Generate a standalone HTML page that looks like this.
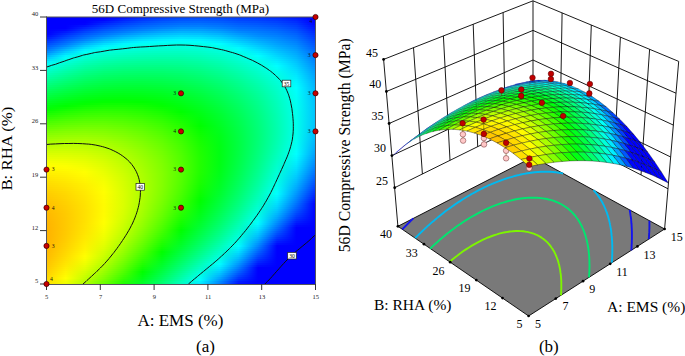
<!DOCTYPE html>
<html><head><meta charset="utf-8"><style>html,body{margin:0;padding:0;background:#fff;width:685px;height:356px;overflow:hidden}svg{display:block}</style></head><body><svg width="685" height="356" viewBox="0 0 685 356"><defs><linearGradient id="r0"><stop offset="0" stop-color="#00f"/><stop offset="0.0714" stop-color="#00f"/><stop offset="0.143" stop-color="#00f"/><stop offset="0.214" stop-color="#00f"/><stop offset="0.286" stop-color="#0013ff"/><stop offset="0.357" stop-color="#002bff"/><stop offset="0.429" stop-color="#003cff"/><stop offset="0.5" stop-color="#0048ff"/><stop offset="0.571" stop-color="#004bff"/><stop offset="0.643" stop-color="#0047ff"/><stop offset="0.714" stop-color="#003bff"/><stop offset="0.786" stop-color="#0036ff"/><stop offset="0.857" stop-color="#002cff"/><stop offset="0.929" stop-color="#001aff"/><stop offset="1" stop-color="#00f"/></linearGradient><linearGradient id="r1"><stop offset="0" stop-color="#00f"/><stop offset="0.0714" stop-color="#00f"/><stop offset="0.143" stop-color="#00f"/><stop offset="0.214" stop-color="#0006ff"/><stop offset="0.286" stop-color="#0023ff"/><stop offset="0.357" stop-color="#0039ff"/><stop offset="0.429" stop-color="#004aff"/><stop offset="0.5" stop-color="#05f"/><stop offset="0.571" stop-color="#0058ff"/><stop offset="0.643" stop-color="#0053ff"/><stop offset="0.714" stop-color="#0046ff"/><stop offset="0.786" stop-color="#0040ff"/><stop offset="0.857" stop-color="#0036ff"/><stop offset="0.929" stop-color="#0024ff"/><stop offset="1" stop-color="#00f"/></linearGradient><linearGradient id="r2"><stop offset="0" stop-color="#00f"/><stop offset="0.0714" stop-color="#00f"/><stop offset="0.143" stop-color="#00f"/><stop offset="0.214" stop-color="#0016ff"/><stop offset="0.286" stop-color="#0032ff"/><stop offset="0.357" stop-color="#0048ff"/><stop offset="0.429" stop-color="#0058ff"/><stop offset="0.5" stop-color="#0062ff"/><stop offset="0.571" stop-color="#0064ff"/><stop offset="0.643" stop-color="#005eff"/><stop offset="0.714" stop-color="#0051ff"/><stop offset="0.786" stop-color="#004bff"/><stop offset="0.857" stop-color="#0040ff"/><stop offset="0.929" stop-color="#002dff"/><stop offset="1" stop-color="#00f"/></linearGradient><linearGradient id="r3"><stop offset="0" stop-color="#00f"/><stop offset="0.0714" stop-color="#00f"/><stop offset="0.143" stop-color="#0003ff"/><stop offset="0.214" stop-color="#0026ff"/><stop offset="0.286" stop-color="#0041ff"/><stop offset="0.357" stop-color="#0056ff"/><stop offset="0.429" stop-color="#0065ff"/><stop offset="0.5" stop-color="#006fff"/><stop offset="0.571" stop-color="#0071ff"/><stop offset="0.643" stop-color="#006aff"/><stop offset="0.714" stop-color="#005cff"/><stop offset="0.786" stop-color="#05f"/><stop offset="0.857" stop-color="#004aff"/><stop offset="0.929" stop-color="#0036ff"/><stop offset="1" stop-color="#0005ff"/></linearGradient><linearGradient id="r4"><stop offset="0" stop-color="#00f"/><stop offset="0.0714" stop-color="#00f"/><stop offset="0.143" stop-color="#0013ff"/><stop offset="0.214" stop-color="#0036ff"/><stop offset="0.286" stop-color="#0050ff"/><stop offset="0.357" stop-color="#0064ff"/><stop offset="0.429" stop-color="#0072ff"/><stop offset="0.5" stop-color="#007cff"/><stop offset="0.571" stop-color="#007dff"/><stop offset="0.643" stop-color="#0075ff"/><stop offset="0.714" stop-color="#06f"/><stop offset="0.786" stop-color="#005fff"/><stop offset="0.857" stop-color="#0053ff"/><stop offset="0.929" stop-color="#003fff"/><stop offset="1" stop-color="#000dff"/></linearGradient><linearGradient id="r5"><stop offset="0" stop-color="#00f"/><stop offset="0.0714" stop-color="#00f"/><stop offset="0.143" stop-color="#0024ff"/><stop offset="0.214" stop-color="#0045ff"/><stop offset="0.286" stop-color="#005fff"/><stop offset="0.357" stop-color="#0072ff"/><stop offset="0.429" stop-color="#0080ff"/><stop offset="0.5" stop-color="#008dff"/><stop offset="0.571" stop-color="#008dff"/><stop offset="0.643" stop-color="#0081ff"/><stop offset="0.714" stop-color="#0071ff"/><stop offset="0.786" stop-color="#0069ff"/><stop offset="0.857" stop-color="#005dff"/><stop offset="0.929" stop-color="#0047ff"/><stop offset="1" stop-color="#0015ff"/></linearGradient><linearGradient id="r6"><stop offset="0" stop-color="#00f"/><stop offset="0.0714" stop-color="#0009ff"/><stop offset="0.143" stop-color="#0034ff"/><stop offset="0.214" stop-color="#05f"/><stop offset="0.286" stop-color="#006dff"/><stop offset="0.357" stop-color="#0080ff"/><stop offset="0.429" stop-color="#0093ff"/><stop offset="0.5" stop-color="#009fff"/><stop offset="0.571" stop-color="#009fff"/><stop offset="0.643" stop-color="#0092ff"/><stop offset="0.714" stop-color="#007bff"/><stop offset="0.786" stop-color="#0072ff"/><stop offset="0.857" stop-color="#06f"/><stop offset="0.929" stop-color="#0050ff"/><stop offset="1" stop-color="#001dff"/></linearGradient><linearGradient id="r7"><stop offset="0" stop-color="#00f"/><stop offset="0.0714" stop-color="#001aff"/><stop offset="0.143" stop-color="#04f"/><stop offset="0.214" stop-color="#0064ff"/><stop offset="0.286" stop-color="#007cff"/><stop offset="0.357" stop-color="#0094ff"/><stop offset="0.429" stop-color="#00a6ff"/><stop offset="0.5" stop-color="#00b2ff"/><stop offset="0.571" stop-color="#00b0ff"/><stop offset="0.643" stop-color="#00a2ff"/><stop offset="0.714" stop-color="#0089ff"/><stop offset="0.786" stop-color="#007cff"/><stop offset="0.857" stop-color="#006fff"/><stop offset="0.929" stop-color="#0058ff"/><stop offset="1" stop-color="#0025ff"/></linearGradient><linearGradient id="r8"><stop offset="0" stop-color="#00f"/><stop offset="0.0714" stop-color="#002aff"/><stop offset="0.143" stop-color="#0054ff"/><stop offset="0.214" stop-color="#0073ff"/><stop offset="0.286" stop-color="#008fff"/><stop offset="0.357" stop-color="#00a8ff"/><stop offset="0.429" stop-color="#00baff"/><stop offset="0.5" stop-color="#00c4ff"/><stop offset="0.571" stop-color="#00c1ff"/><stop offset="0.643" stop-color="#00b2ff"/><stop offset="0.714" stop-color="#0098ff"/><stop offset="0.786" stop-color="#0085ff"/><stop offset="0.857" stop-color="#07f"/><stop offset="0.929" stop-color="#0061ff"/><stop offset="1" stop-color="#002dff"/></linearGradient><linearGradient id="r9"><stop offset="0" stop-color="#000aff"/><stop offset="0.0714" stop-color="#003aff"/><stop offset="0.143" stop-color="#0064ff"/><stop offset="0.214" stop-color="#0084ff"/><stop offset="0.286" stop-color="#00a5ff"/><stop offset="0.357" stop-color="#00bcff"/><stop offset="0.429" stop-color="#0cf"/><stop offset="0.5" stop-color="#00d6ff"/><stop offset="0.571" stop-color="#00d2ff"/><stop offset="0.643" stop-color="#00c2ff"/><stop offset="0.714" stop-color="#00a6ff"/><stop offset="0.786" stop-color="#008eff"/><stop offset="0.857" stop-color="#0080ff"/><stop offset="0.929" stop-color="#0069ff"/><stop offset="1" stop-color="#0034ff"/></linearGradient><linearGradient id="r10"><stop offset="0" stop-color="#0019ff"/><stop offset="0.0714" stop-color="#0049ff"/><stop offset="0.143" stop-color="#0073ff"/><stop offset="0.214" stop-color="#009aff"/><stop offset="0.286" stop-color="#00baff"/><stop offset="0.357" stop-color="#00d0ff"/><stop offset="0.429" stop-color="#00dfff"/><stop offset="0.5" stop-color="#00e7ff"/><stop offset="0.571" stop-color="#00e3ff"/><stop offset="0.643" stop-color="#00d2ff"/><stop offset="0.714" stop-color="#00b5ff"/><stop offset="0.786" stop-color="#009bff"/><stop offset="0.857" stop-color="#0089ff"/><stop offset="0.929" stop-color="#0070ff"/><stop offset="1" stop-color="#003bff"/></linearGradient><linearGradient id="r11"><stop offset="0" stop-color="#0029ff"/><stop offset="0.0714" stop-color="#0059ff"/><stop offset="0.143" stop-color="#0084ff"/><stop offset="0.214" stop-color="#00b0ff"/><stop offset="0.286" stop-color="#00ceff"/><stop offset="0.357" stop-color="#00e3ff"/><stop offset="0.429" stop-color="#00f1ff"/><stop offset="0.5" stop-color="#00f9ff"/><stop offset="0.571" stop-color="#00f4ff"/><stop offset="0.643" stop-color="#00e1ff"/><stop offset="0.714" stop-color="#00c3ff"/><stop offset="0.786" stop-color="#00a7ff"/><stop offset="0.857" stop-color="#0091ff"/><stop offset="0.929" stop-color="#0078ff"/><stop offset="1" stop-color="#0042ff"/></linearGradient><linearGradient id="r12"><stop offset="0" stop-color="#0038ff"/><stop offset="0.0714" stop-color="#0068ff"/><stop offset="0.143" stop-color="#009bff"/><stop offset="0.214" stop-color="#00c6ff"/><stop offset="0.286" stop-color="#00e3ff"/><stop offset="0.357" stop-color="#00f7ff"/><stop offset="0.429" stop-color="#00fffb"/><stop offset="0.5" stop-color="#00fff6"/><stop offset="0.571" stop-color="#00fffb"/><stop offset="0.643" stop-color="#00f0ff"/><stop offset="0.714" stop-color="#00d1ff"/><stop offset="0.786" stop-color="#00b3ff"/><stop offset="0.857" stop-color="#09f"/><stop offset="0.929" stop-color="#0080ff"/><stop offset="1" stop-color="#0049ff"/></linearGradient><linearGradient id="r13"><stop offset="0" stop-color="#0048ff"/><stop offset="0.0714" stop-color="#07f"/><stop offset="0.143" stop-color="#00b1ff"/><stop offset="0.214" stop-color="#00dcff"/><stop offset="0.286" stop-color="#00f7ff"/><stop offset="0.357" stop-color="#00fff6"/><stop offset="0.429" stop-color="#00ffed"/><stop offset="0.5" stop-color="#00ffe9"/><stop offset="0.571" stop-color="#0fe"/><stop offset="0.643" stop-color="#0ff"/><stop offset="0.714" stop-color="#00dfff"/><stop offset="0.786" stop-color="#00beff"/><stop offset="0.857" stop-color="#00a1ff"/><stop offset="0.929" stop-color="#0087ff"/><stop offset="1" stop-color="#0050ff"/></linearGradient><linearGradient id="r14"><stop offset="0" stop-color="#0057ff"/><stop offset="0.0714" stop-color="#0089ff"/><stop offset="0.143" stop-color="#00c8ff"/><stop offset="0.214" stop-color="#00f1ff"/><stop offset="0.286" stop-color="#00fff5"/><stop offset="0.357" stop-color="#00ffe7"/><stop offset="0.429" stop-color="#00ffe0"/><stop offset="0.5" stop-color="#0fd"/><stop offset="0.571" stop-color="#00ffe2"/><stop offset="0.643" stop-color="#00fff3"/><stop offset="0.714" stop-color="#00ecff"/><stop offset="0.786" stop-color="#00caff"/><stop offset="0.857" stop-color="#0af"/><stop offset="0.929" stop-color="#008fff"/><stop offset="1" stop-color="#0056ff"/></linearGradient><linearGradient id="r15"><stop offset="0" stop-color="#06f"/><stop offset="0.0714" stop-color="#00a0ff"/><stop offset="0.143" stop-color="#0df"/><stop offset="0.214" stop-color="#00fffa"/><stop offset="0.286" stop-color="#00ffe5"/><stop offset="0.357" stop-color="#00ffdc"/><stop offset="0.429" stop-color="#00ffd6"/><stop offset="0.5" stop-color="#00ffd5"/><stop offset="0.571" stop-color="#00ffda"/><stop offset="0.643" stop-color="#00ffe8"/><stop offset="0.714" stop-color="#00faff"/><stop offset="0.786" stop-color="#00d5ff"/><stop offset="0.857" stop-color="#00b3ff"/><stop offset="0.929" stop-color="#0096ff"/><stop offset="1" stop-color="#005dff"/></linearGradient><linearGradient id="r16"><stop offset="0" stop-color="#0074ff"/><stop offset="0.0714" stop-color="#00b5ff"/><stop offset="0.143" stop-color="#00f3ff"/><stop offset="0.214" stop-color="#00ffe9"/><stop offset="0.286" stop-color="#00ffda"/><stop offset="0.357" stop-color="#00ffd2"/><stop offset="0.429" stop-color="#00ffcd"/><stop offset="0.5" stop-color="#0fc"/><stop offset="0.571" stop-color="#00ffd1"/><stop offset="0.643" stop-color="#00ffde"/><stop offset="0.714" stop-color="#00fff9"/><stop offset="0.786" stop-color="#00e0ff"/><stop offset="0.857" stop-color="#00bcff"/><stop offset="0.929" stop-color="#009dff"/><stop offset="1" stop-color="#0063ff"/></linearGradient><linearGradient id="r17"><stop offset="0" stop-color="#0085ff"/><stop offset="0.0714" stop-color="#00cbff"/><stop offset="0.143" stop-color="#00fff8"/><stop offset="0.214" stop-color="#00ffdc"/><stop offset="0.286" stop-color="#00ffd0"/><stop offset="0.357" stop-color="#00ffc8"/><stop offset="0.429" stop-color="#00ffc4"/><stop offset="0.5" stop-color="#00ffc3"/><stop offset="0.571" stop-color="#00ffc9"/><stop offset="0.643" stop-color="#00ffd7"/><stop offset="0.714" stop-color="#0fe"/><stop offset="0.786" stop-color="#00ebff"/><stop offset="0.857" stop-color="#00c5ff"/><stop offset="0.929" stop-color="#00a4ff"/><stop offset="1" stop-color="#0069ff"/></linearGradient><linearGradient id="r18"><stop offset="0" stop-color="#009aff"/><stop offset="0.0714" stop-color="#00e0ff"/><stop offset="0.143" stop-color="#00ffe7"/><stop offset="0.214" stop-color="#00ffd1"/><stop offset="0.286" stop-color="#00ffc6"/><stop offset="0.357" stop-color="#00ffbe"/><stop offset="0.429" stop-color="#0fb"/><stop offset="0.5" stop-color="#0fb"/><stop offset="0.571" stop-color="#00ffc2"/><stop offset="0.643" stop-color="#00ffcf"/><stop offset="0.714" stop-color="#00ffe4"/><stop offset="0.786" stop-color="#00f5ff"/><stop offset="0.857" stop-color="#00ceff"/><stop offset="0.929" stop-color="#0af"/><stop offset="1" stop-color="#006fff"/></linearGradient><linearGradient id="r19"><stop offset="0" stop-color="#00b0ff"/><stop offset="0.0714" stop-color="#00f5ff"/><stop offset="0.143" stop-color="#00ffda"/><stop offset="0.214" stop-color="#00ffc7"/><stop offset="0.286" stop-color="#00ffbc"/><stop offset="0.357" stop-color="#00ffb5"/><stop offset="0.429" stop-color="#00ffb2"/><stop offset="0.5" stop-color="#00ffb3"/><stop offset="0.571" stop-color="#00ffba"/><stop offset="0.643" stop-color="#00ffc8"/><stop offset="0.714" stop-color="#0fd"/><stop offset="0.786" stop-color="#00fffe"/><stop offset="0.857" stop-color="#00d6ff"/><stop offset="0.929" stop-color="#00b1ff"/><stop offset="1" stop-color="#0074ff"/></linearGradient><linearGradient id="r20"><stop offset="0" stop-color="#00c6ff"/><stop offset="0.0714" stop-color="#00fff6"/><stop offset="0.143" stop-color="#00ffd0"/><stop offset="0.214" stop-color="#00ffbd"/><stop offset="0.286" stop-color="#00ffb2"/><stop offset="0.357" stop-color="#00ffac"/><stop offset="0.429" stop-color="#00ffa9"/><stop offset="0.5" stop-color="#0fa"/><stop offset="0.571" stop-color="#00ffb2"/><stop offset="0.643" stop-color="#00ffc1"/><stop offset="0.714" stop-color="#00ffd6"/><stop offset="0.786" stop-color="#00fff6"/><stop offset="0.857" stop-color="#00dfff"/><stop offset="0.929" stop-color="#00b7ff"/><stop offset="1" stop-color="#007aff"/></linearGradient><linearGradient id="r21"><stop offset="0" stop-color="#00dbff"/><stop offset="0.0714" stop-color="#00ffe6"/><stop offset="0.143" stop-color="#00ffc5"/><stop offset="0.214" stop-color="#00ffb3"/><stop offset="0.286" stop-color="#00ffa8"/><stop offset="0.357" stop-color="#00ffa3"/><stop offset="0.429" stop-color="#00ffa0"/><stop offset="0.5" stop-color="#00ffa2"/><stop offset="0.571" stop-color="#00ffab"/><stop offset="0.643" stop-color="#00ffba"/><stop offset="0.714" stop-color="#00ffd0"/><stop offset="0.786" stop-color="#0fe"/><stop offset="0.857" stop-color="#00e7ff"/><stop offset="0.929" stop-color="#00beff"/><stop offset="1" stop-color="#007fff"/></linearGradient><linearGradient id="r22"><stop offset="0" stop-color="#00f0ff"/><stop offset="0.0714" stop-color="#00ffda"/><stop offset="0.143" stop-color="#0fb"/><stop offset="0.214" stop-color="#00ffa9"/><stop offset="0.286" stop-color="#00ff9f"/><stop offset="0.357" stop-color="#0f9"/><stop offset="0.429" stop-color="#00ff98"/><stop offset="0.5" stop-color="#00ff9a"/><stop offset="0.571" stop-color="#00ffa3"/><stop offset="0.643" stop-color="#00ffb3"/><stop offset="0.714" stop-color="#00ffca"/><stop offset="0.786" stop-color="#00ffe6"/><stop offset="0.857" stop-color="#00efff"/><stop offset="0.929" stop-color="#00c4ff"/><stop offset="1" stop-color="#0084ff"/></linearGradient><linearGradient id="r23"><stop offset="0" stop-color="#00fffa"/><stop offset="0.0714" stop-color="#00ffcf"/><stop offset="0.143" stop-color="#00ffb1"/><stop offset="0.214" stop-color="#00ff9f"/><stop offset="0.286" stop-color="#00ff95"/><stop offset="0.357" stop-color="#00ff91"/><stop offset="0.429" stop-color="#00ff90"/><stop offset="0.5" stop-color="#00ff93"/><stop offset="0.571" stop-color="#00ff9c"/><stop offset="0.643" stop-color="#00ffac"/><stop offset="0.714" stop-color="#00ffc3"/><stop offset="0.786" stop-color="#00ffdf"/><stop offset="0.857" stop-color="#00f7ff"/><stop offset="0.929" stop-color="#00caff"/><stop offset="1" stop-color="#0089ff"/></linearGradient><linearGradient id="r24"><stop offset="0" stop-color="#00ffe9"/><stop offset="0.0714" stop-color="#00ffc4"/><stop offset="0.143" stop-color="#00ffa6"/><stop offset="0.214" stop-color="#00ff95"/><stop offset="0.286" stop-color="#00ff8c"/><stop offset="0.357" stop-color="#0f8"/><stop offset="0.429" stop-color="#00ff87"/><stop offset="0.5" stop-color="#00ff8b"/><stop offset="0.571" stop-color="#00ff95"/><stop offset="0.643" stop-color="#00ffa6"/><stop offset="0.714" stop-color="#00ffbd"/><stop offset="0.786" stop-color="#00ffda"/><stop offset="0.857" stop-color="#00feff"/><stop offset="0.929" stop-color="#00cfff"/><stop offset="1" stop-color="#008eff"/></linearGradient><linearGradient id="r25"><stop offset="0" stop-color="#00ffdb"/><stop offset="0.0714" stop-color="#00ffba"/><stop offset="0.143" stop-color="#00ff9d"/><stop offset="0.214" stop-color="#00ff8c"/><stop offset="0.286" stop-color="#00ff83"/><stop offset="0.357" stop-color="#00ff7f"/><stop offset="0.429" stop-color="#00ff7f"/><stop offset="0.5" stop-color="#00ff83"/><stop offset="0.571" stop-color="#00ff8e"/><stop offset="0.643" stop-color="#00ff9f"/><stop offset="0.714" stop-color="#00ffb7"/><stop offset="0.786" stop-color="#00ffd4"/><stop offset="0.857" stop-color="#00fff9"/><stop offset="0.929" stop-color="#00d5ff"/><stop offset="1" stop-color="#0093ff"/></linearGradient><linearGradient id="r26"><stop offset="0" stop-color="#00ffd0"/><stop offset="0.0714" stop-color="#00ffaf"/><stop offset="0.143" stop-color="#00ff93"/><stop offset="0.214" stop-color="#00ff83"/><stop offset="0.286" stop-color="#00ff7a"/><stop offset="0.357" stop-color="#0f7"/><stop offset="0.429" stop-color="#0f7"/><stop offset="0.5" stop-color="#00ff7c"/><stop offset="0.571" stop-color="#00ff87"/><stop offset="0.643" stop-color="#0f9"/><stop offset="0.714" stop-color="#00ffb2"/><stop offset="0.786" stop-color="#00ffcf"/><stop offset="0.857" stop-color="#00fff4"/><stop offset="0.929" stop-color="#00daff"/><stop offset="1" stop-color="#0097ff"/></linearGradient><linearGradient id="r27"><stop offset="0" stop-color="#00ffc5"/><stop offset="0.0714" stop-color="#00ffa5"/><stop offset="0.143" stop-color="#00ff89"/><stop offset="0.214" stop-color="#00ff79"/><stop offset="0.286" stop-color="#00ff71"/><stop offset="0.357" stop-color="#00ff6e"/><stop offset="0.429" stop-color="#00ff6f"/><stop offset="0.5" stop-color="#00ff75"/><stop offset="0.571" stop-color="#00ff80"/><stop offset="0.643" stop-color="#00ff93"/><stop offset="0.714" stop-color="#00ffac"/><stop offset="0.786" stop-color="#00ffca"/><stop offset="0.857" stop-color="#0fe"/><stop offset="0.929" stop-color="#00dfff"/><stop offset="1" stop-color="#009bff"/></linearGradient><linearGradient id="r28"><stop offset="0" stop-color="#00ffb9"/><stop offset="0.0714" stop-color="#00ff9a"/><stop offset="0.143" stop-color="#00ff80"/><stop offset="0.214" stop-color="#00ff70"/><stop offset="0.286" stop-color="#00ff69"/><stop offset="0.357" stop-color="#0f6"/><stop offset="0.429" stop-color="#00ff67"/><stop offset="0.5" stop-color="#00ff6d"/><stop offset="0.571" stop-color="#00ff7a"/><stop offset="0.643" stop-color="#00ff8d"/><stop offset="0.714" stop-color="#00ffa6"/><stop offset="0.786" stop-color="#00ffc5"/><stop offset="0.857" stop-color="#00ffe9"/><stop offset="0.929" stop-color="#00e4ff"/><stop offset="1" stop-color="#009fff"/></linearGradient><linearGradient id="r29"><stop offset="0" stop-color="#00ffae"/><stop offset="0.0714" stop-color="#00ff90"/><stop offset="0.143" stop-color="#00ff76"/><stop offset="0.214" stop-color="#00ff67"/><stop offset="0.286" stop-color="#00ff60"/><stop offset="0.357" stop-color="#00ff5e"/><stop offset="0.429" stop-color="#00ff60"/><stop offset="0.5" stop-color="#0f6"/><stop offset="0.571" stop-color="#00ff73"/><stop offset="0.643" stop-color="#00ff87"/><stop offset="0.714" stop-color="#00ffa1"/><stop offset="0.786" stop-color="#00ffc0"/><stop offset="0.857" stop-color="#00ffe4"/><stop offset="0.929" stop-color="#00e9ff"/><stop offset="1" stop-color="#00a3ff"/></linearGradient><linearGradient id="r30"><stop offset="0" stop-color="#00ffa3"/><stop offset="0.0714" stop-color="#00ff86"/><stop offset="0.143" stop-color="#00ff6d"/><stop offset="0.214" stop-color="#00ff5f"/><stop offset="0.286" stop-color="#00ff58"/><stop offset="0.357" stop-color="#00ff56"/><stop offset="0.429" stop-color="#00ff58"/><stop offset="0.5" stop-color="#00ff60"/><stop offset="0.571" stop-color="#00ff6d"/><stop offset="0.643" stop-color="#00ff81"/><stop offset="0.714" stop-color="#00ff9c"/><stop offset="0.786" stop-color="#0fb"/><stop offset="0.857" stop-color="#00ffdf"/><stop offset="0.929" stop-color="#00edff"/><stop offset="1" stop-color="#00a6ff"/></linearGradient><linearGradient id="r31"><stop offset="0" stop-color="#00ff98"/><stop offset="0.0714" stop-color="#00ff7c"/><stop offset="0.143" stop-color="#00ff64"/><stop offset="0.214" stop-color="#00ff56"/><stop offset="0.286" stop-color="#00ff50"/><stop offset="0.357" stop-color="#00ff4e"/><stop offset="0.429" stop-color="#00ff51"/><stop offset="0.5" stop-color="#00ff59"/><stop offset="0.571" stop-color="#00ff67"/><stop offset="0.643" stop-color="#00ff7b"/><stop offset="0.714" stop-color="#00ff96"/><stop offset="0.786" stop-color="#00ffb6"/><stop offset="0.857" stop-color="#00ffdb"/><stop offset="0.929" stop-color="#00f1ff"/><stop offset="1" stop-color="#0af"/></linearGradient><linearGradient id="r32"><stop offset="0" stop-color="#00ff8d"/><stop offset="0.0714" stop-color="#00ff72"/><stop offset="0.143" stop-color="#00ff5b"/><stop offset="0.214" stop-color="#00ff4d"/><stop offset="0.286" stop-color="#00ff47"/><stop offset="0.357" stop-color="#00ff46"/><stop offset="0.429" stop-color="#00ff4a"/><stop offset="0.5" stop-color="#00ff52"/><stop offset="0.571" stop-color="#00ff61"/><stop offset="0.643" stop-color="#00ff76"/><stop offset="0.714" stop-color="#00ff91"/><stop offset="0.786" stop-color="#00ffb2"/><stop offset="0.857" stop-color="#00ffd7"/><stop offset="0.929" stop-color="#00f5ff"/><stop offset="1" stop-color="#00adff"/></linearGradient><linearGradient id="r33"><stop offset="0" stop-color="#00ff82"/><stop offset="0.0714" stop-color="#00ff68"/><stop offset="0.143" stop-color="#00ff52"/><stop offset="0.214" stop-color="#00ff45"/><stop offset="0.286" stop-color="#00ff3f"/><stop offset="0.357" stop-color="#00ff3f"/><stop offset="0.429" stop-color="#00ff43"/><stop offset="0.5" stop-color="#00ff4c"/><stop offset="0.571" stop-color="#00ff5b"/><stop offset="0.643" stop-color="#00ff70"/><stop offset="0.714" stop-color="#00ff8c"/><stop offset="0.786" stop-color="#00ffad"/><stop offset="0.857" stop-color="#00ffd4"/><stop offset="0.929" stop-color="#00f9ff"/><stop offset="1" stop-color="#00b0ff"/></linearGradient><linearGradient id="r34"><stop offset="0" stop-color="#0f7"/><stop offset="0.0714" stop-color="#00ff5e"/><stop offset="0.143" stop-color="#00ff49"/><stop offset="0.214" stop-color="#00ff3d"/><stop offset="0.286" stop-color="#00ff38"/><stop offset="0.357" stop-color="#00ff37"/><stop offset="0.429" stop-color="#00ff3c"/><stop offset="0.5" stop-color="#00ff45"/><stop offset="0.571" stop-color="#0f5"/><stop offset="0.643" stop-color="#00ff6b"/><stop offset="0.714" stop-color="#0f8"/><stop offset="0.786" stop-color="#00ffa9"/><stop offset="0.857" stop-color="#00ffd0"/><stop offset="0.929" stop-color="#00fcff"/><stop offset="1" stop-color="#00b2ff"/></linearGradient><linearGradient id="r35"><stop offset="0" stop-color="#00ff6c"/><stop offset="0.0714" stop-color="#00ff54"/><stop offset="0.143" stop-color="#00ff40"/><stop offset="0.214" stop-color="#00ff35"/><stop offset="0.286" stop-color="#00ff30"/><stop offset="0.357" stop-color="#00ff30"/><stop offset="0.429" stop-color="#00ff35"/><stop offset="0.5" stop-color="#00ff3f"/><stop offset="0.571" stop-color="#00ff4f"/><stop offset="0.643" stop-color="#0f6"/><stop offset="0.714" stop-color="#00ff83"/><stop offset="0.786" stop-color="#00ffa5"/><stop offset="0.857" stop-color="#00ffcd"/><stop offset="0.929" stop-color="#0ff"/><stop offset="1" stop-color="#00b5ff"/></linearGradient><linearGradient id="r36"><stop offset="0" stop-color="#00ff61"/><stop offset="0.0714" stop-color="#00ff4a"/><stop offset="0.143" stop-color="#00ff37"/><stop offset="0.214" stop-color="#00ff2c"/><stop offset="0.286" stop-color="#00ff28"/><stop offset="0.357" stop-color="#00ff29"/><stop offset="0.429" stop-color="#00ff2e"/><stop offset="0.5" stop-color="#00ff39"/><stop offset="0.571" stop-color="#00ff4a"/><stop offset="0.643" stop-color="#00ff61"/><stop offset="0.714" stop-color="#00ff7f"/><stop offset="0.786" stop-color="#00ffa2"/><stop offset="0.857" stop-color="#00ffca"/><stop offset="0.929" stop-color="#00fffd"/><stop offset="1" stop-color="#00b7ff"/></linearGradient><linearGradient id="r37"><stop offset="0" stop-color="#00ff57"/><stop offset="0.0714" stop-color="#00ff41"/><stop offset="0.143" stop-color="#00ff2f"/><stop offset="0.214" stop-color="#00ff24"/><stop offset="0.286" stop-color="#00ff21"/><stop offset="0.357" stop-color="#0f2"/><stop offset="0.429" stop-color="#00ff28"/><stop offset="0.5" stop-color="#0f3"/><stop offset="0.571" stop-color="#00ff45"/><stop offset="0.643" stop-color="#00ff5c"/><stop offset="0.714" stop-color="#00ff7b"/><stop offset="0.786" stop-color="#00ff9e"/><stop offset="0.857" stop-color="#00ffc7"/><stop offset="0.929" stop-color="#00fffb"/><stop offset="1" stop-color="#00b9ff"/></linearGradient><linearGradient id="r38"><stop offset="0" stop-color="#00ff4c"/><stop offset="0.0714" stop-color="#00ff37"/><stop offset="0.143" stop-color="#00ff26"/><stop offset="0.214" stop-color="#00ff1c"/><stop offset="0.286" stop-color="#00ff19"/><stop offset="0.357" stop-color="#00ff1b"/><stop offset="0.429" stop-color="#00ff21"/><stop offset="0.5" stop-color="#00ff2d"/><stop offset="0.571" stop-color="#00ff3f"/><stop offset="0.643" stop-color="#00ff58"/><stop offset="0.714" stop-color="#00ff76"/><stop offset="0.786" stop-color="#00ff9a"/><stop offset="0.857" stop-color="#00ffc5"/><stop offset="0.929" stop-color="#00fff9"/><stop offset="1" stop-color="#0bf"/></linearGradient><linearGradient id="r39"><stop offset="0" stop-color="#00ff42"/><stop offset="0.0714" stop-color="#00ff2e"/><stop offset="0.143" stop-color="#00ff1d"/><stop offset="0.214" stop-color="#00ff15"/><stop offset="0.286" stop-color="#00ff12"/><stop offset="0.357" stop-color="#00ff14"/><stop offset="0.429" stop-color="#00ff1b"/><stop offset="0.5" stop-color="#00ff28"/><stop offset="0.571" stop-color="#00ff3a"/><stop offset="0.643" stop-color="#00ff53"/><stop offset="0.714" stop-color="#00ff72"/><stop offset="0.786" stop-color="#00ff97"/><stop offset="0.857" stop-color="#00ffc2"/><stop offset="0.929" stop-color="#00fff7"/><stop offset="1" stop-color="#00bdff"/></linearGradient><linearGradient id="r40"><stop offset="0" stop-color="#00ff38"/><stop offset="0.0714" stop-color="#00ff24"/><stop offset="0.143" stop-color="#00ff15"/><stop offset="0.214" stop-color="#00ff0d"/><stop offset="0.286" stop-color="#00ff0b"/><stop offset="0.357" stop-color="#00ff0d"/><stop offset="0.429" stop-color="#00ff15"/><stop offset="0.5" stop-color="#0f2"/><stop offset="0.571" stop-color="#00ff35"/><stop offset="0.643" stop-color="#00ff4f"/><stop offset="0.714" stop-color="#00ff6f"/><stop offset="0.786" stop-color="#00ff94"/><stop offset="0.857" stop-color="#00ffc0"/><stop offset="0.929" stop-color="#00fff5"/><stop offset="1" stop-color="#00beff"/></linearGradient><linearGradient id="r41"><stop offset="0" stop-color="#00ff2d"/><stop offset="0.0714" stop-color="#00ff1b"/><stop offset="0.143" stop-color="#00ff0d"/><stop offset="0.214" stop-color="#00ff05"/><stop offset="0.286" stop-color="#00ff04"/><stop offset="0.357" stop-color="#00ff07"/><stop offset="0.429" stop-color="#00ff0f"/><stop offset="0.5" stop-color="#00ff1d"/><stop offset="0.571" stop-color="#00ff31"/><stop offset="0.643" stop-color="#00ff4b"/><stop offset="0.714" stop-color="#00ff6b"/><stop offset="0.786" stop-color="#00ff91"/><stop offset="0.857" stop-color="#00ffbe"/><stop offset="0.929" stop-color="#00fff4"/><stop offset="1" stop-color="#00bfff"/></linearGradient><linearGradient id="r42"><stop offset="0" stop-color="#00ff24"/><stop offset="0.0714" stop-color="#00ff12"/><stop offset="0.143" stop-color="#00ff05"/><stop offset="0.214" stop-color="#03ff00"/><stop offset="0.286" stop-color="#04ff00"/><stop offset="0.357" stop-color="#0f0"/><stop offset="0.429" stop-color="#00ff09"/><stop offset="0.5" stop-color="#00ff18"/><stop offset="0.571" stop-color="#00ff2c"/><stop offset="0.643" stop-color="#00ff47"/><stop offset="0.714" stop-color="#00ff68"/><stop offset="0.786" stop-color="#00ff8e"/><stop offset="0.857" stop-color="#00ffbc"/><stop offset="0.929" stop-color="#00fff3"/><stop offset="1" stop-color="#00c0ff"/></linearGradient><linearGradient id="r43"><stop offset="0" stop-color="#00ff1a"/><stop offset="0.0714" stop-color="#00ff09"/><stop offset="0.143" stop-color="#04ff00"/><stop offset="0.214" stop-color="#0dff00"/><stop offset="0.286" stop-color="#0dff00"/><stop offset="0.357" stop-color="#08ff00"/><stop offset="0.429" stop-color="#00ff04"/><stop offset="0.5" stop-color="#00ff13"/><stop offset="0.571" stop-color="#00ff28"/><stop offset="0.643" stop-color="#00ff43"/><stop offset="0.714" stop-color="#00ff64"/><stop offset="0.786" stop-color="#00ff8c"/><stop offset="0.857" stop-color="#00ffba"/><stop offset="0.929" stop-color="#00fff2"/><stop offset="1" stop-color="#00c1ff"/></linearGradient><linearGradient id="r44"><stop offset="0" stop-color="#00ff10"/><stop offset="0.0714" stop-color="#0f0"/><stop offset="0.143" stop-color="#0fff00"/><stop offset="0.214" stop-color="#16ff00"/><stop offset="0.286" stop-color="#16ff00"/><stop offset="0.357" stop-color="#10ff00"/><stop offset="0.429" stop-color="#03ff00"/><stop offset="0.5" stop-color="#00ff0e"/><stop offset="0.571" stop-color="#00ff23"/><stop offset="0.643" stop-color="#00ff3f"/><stop offset="0.714" stop-color="#00ff61"/><stop offset="0.786" stop-color="#00ff89"/><stop offset="0.857" stop-color="#00ffb9"/><stop offset="0.929" stop-color="#00fff1"/><stop offset="1" stop-color="#00c2ff"/></linearGradient><linearGradient id="r45"><stop offset="0" stop-color="#00ff07"/><stop offset="0.0714" stop-color="#0bff00"/><stop offset="0.143" stop-color="#19ff00"/><stop offset="0.214" stop-color="#1fff00"/><stop offset="0.286" stop-color="#1fff00"/><stop offset="0.357" stop-color="#17ff00"/><stop offset="0.429" stop-color="#0aff00"/><stop offset="0.5" stop-color="#00ff09"/><stop offset="0.571" stop-color="#00ff1f"/><stop offset="0.643" stop-color="#00ff3b"/><stop offset="0.714" stop-color="#00ff5e"/><stop offset="0.786" stop-color="#00ff87"/><stop offset="0.857" stop-color="#00ffb7"/><stop offset="0.929" stop-color="#00fff0"/><stop offset="1" stop-color="#00c2ff"/></linearGradient><linearGradient id="r46"><stop offset="0" stop-color="#03ff00"/><stop offset="0.0714" stop-color="#16ff00"/><stop offset="0.143" stop-color="#23ff00"/><stop offset="0.214" stop-color="#29ff00"/><stop offset="0.286" stop-color="#27ff00"/><stop offset="0.357" stop-color="#1fff00"/><stop offset="0.429" stop-color="#10ff00"/><stop offset="0.5" stop-color="#00ff04"/><stop offset="0.571" stop-color="#00ff1b"/><stop offset="0.643" stop-color="#00ff38"/><stop offset="0.714" stop-color="#00ff5b"/><stop offset="0.786" stop-color="#00ff85"/><stop offset="0.857" stop-color="#00ffb6"/><stop offset="0.929" stop-color="#00ffef"/><stop offset="1" stop-color="#00c3ff"/></linearGradient><linearGradient id="r47"><stop offset="0" stop-color="#0fff00"/><stop offset="0.0714" stop-color="#21ff00"/><stop offset="0.143" stop-color="#2dff00"/><stop offset="0.214" stop-color="#32ff00"/><stop offset="0.286" stop-color="#2fff00"/><stop offset="0.357" stop-color="#26ff00"/><stop offset="0.429" stop-color="#17ff00"/><stop offset="0.5" stop-color="#0f0"/><stop offset="0.571" stop-color="#00ff17"/><stop offset="0.643" stop-color="#00ff35"/><stop offset="0.714" stop-color="#00ff59"/><stop offset="0.786" stop-color="#00ff83"/><stop offset="0.857" stop-color="#00ffb5"/><stop offset="0.929" stop-color="#0fe"/><stop offset="1" stop-color="#00c3ff"/></linearGradient><linearGradient id="r48"><stop offset="0" stop-color="#1bff00"/><stop offset="0.0714" stop-color="#2bff00"/><stop offset="0.143" stop-color="#37ff00"/><stop offset="0.214" stop-color="#3bff00"/><stop offset="0.286" stop-color="#37ff00"/><stop offset="0.357" stop-color="#2dff00"/><stop offset="0.429" stop-color="#1dff00"/><stop offset="0.5" stop-color="#06ff00"/><stop offset="0.571" stop-color="#00ff13"/><stop offset="0.643" stop-color="#00ff31"/><stop offset="0.714" stop-color="#00ff56"/><stop offset="0.786" stop-color="#00ff81"/><stop offset="0.857" stop-color="#00ffb3"/><stop offset="0.929" stop-color="#0fe"/><stop offset="1" stop-color="#00c3ff"/></linearGradient><linearGradient id="r49"><stop offset="0" stop-color="#26ff00"/><stop offset="0.0714" stop-color="#36ff00"/><stop offset="0.143" stop-color="#40ff00"/><stop offset="0.214" stop-color="#43ff00"/><stop offset="0.286" stop-color="#3fff00"/><stop offset="0.357" stop-color="#34ff00"/><stop offset="0.429" stop-color="#24ff00"/><stop offset="0.5" stop-color="#0cff00"/><stop offset="0.571" stop-color="#00ff10"/><stop offset="0.643" stop-color="#00ff2e"/><stop offset="0.714" stop-color="#00ff54"/><stop offset="0.786" stop-color="#00ff7f"/><stop offset="0.857" stop-color="#00ffb2"/><stop offset="0.929" stop-color="#00ffed"/><stop offset="1" stop-color="#00c3ff"/></linearGradient><linearGradient id="r50"><stop offset="0" stop-color="#32ff00"/><stop offset="0.0714" stop-color="#40ff00"/><stop offset="0.143" stop-color="#4aff00"/><stop offset="0.214" stop-color="#4cff00"/><stop offset="0.286" stop-color="#47ff00"/><stop offset="0.357" stop-color="#3bff00"/><stop offset="0.429" stop-color="#2aff00"/><stop offset="0.5" stop-color="#1f0"/><stop offset="0.571" stop-color="#00ff0c"/><stop offset="0.643" stop-color="#00ff2c"/><stop offset="0.714" stop-color="#00ff51"/><stop offset="0.786" stop-color="#00ff7e"/><stop offset="0.857" stop-color="#00ffb1"/><stop offset="0.929" stop-color="#00ffed"/><stop offset="1" stop-color="#00c3ff"/></linearGradient><linearGradient id="r51"><stop offset="0" stop-color="#3dff00"/><stop offset="0.0714" stop-color="#4bff00"/><stop offset="0.143" stop-color="#53ff00"/><stop offset="0.214" stop-color="#54ff00"/><stop offset="0.286" stop-color="#4eff00"/><stop offset="0.357" stop-color="#42ff00"/><stop offset="0.429" stop-color="#30ff00"/><stop offset="0.5" stop-color="#16ff00"/><stop offset="0.571" stop-color="#00ff09"/><stop offset="0.643" stop-color="#00ff29"/><stop offset="0.714" stop-color="#00ff4f"/><stop offset="0.786" stop-color="#00ff7c"/><stop offset="0.857" stop-color="#00ffb1"/><stop offset="0.929" stop-color="#00ffec"/><stop offset="1" stop-color="#00c3ff"/></linearGradient><linearGradient id="r52"><stop offset="0" stop-color="#48ff00"/><stop offset="0.0714" stop-color="#5f0"/><stop offset="0.143" stop-color="#5cff00"/><stop offset="0.214" stop-color="#5dff00"/><stop offset="0.286" stop-color="#5f0"/><stop offset="0.357" stop-color="#48ff00"/><stop offset="0.429" stop-color="#35ff00"/><stop offset="0.5" stop-color="#1bff00"/><stop offset="0.571" stop-color="#00ff06"/><stop offset="0.643" stop-color="#00ff26"/><stop offset="0.714" stop-color="#00ff4d"/><stop offset="0.786" stop-color="#00ff7b"/><stop offset="0.857" stop-color="#00ffb0"/><stop offset="0.929" stop-color="#00ffec"/><stop offset="1" stop-color="#00c2ff"/></linearGradient><linearGradient id="r53"><stop offset="0" stop-color="#52ff00"/><stop offset="0.0714" stop-color="#5eff00"/><stop offset="0.143" stop-color="#65ff00"/><stop offset="0.214" stop-color="#65ff00"/><stop offset="0.286" stop-color="#5cff00"/><stop offset="0.357" stop-color="#4fff00"/><stop offset="0.429" stop-color="#3bff00"/><stop offset="0.5" stop-color="#20ff00"/><stop offset="0.571" stop-color="#00ff03"/><stop offset="0.643" stop-color="#00ff24"/><stop offset="0.714" stop-color="#00ff4c"/><stop offset="0.786" stop-color="#00ff7a"/><stop offset="0.857" stop-color="#00ffaf"/><stop offset="0.929" stop-color="#00ffec"/><stop offset="1" stop-color="#00c2ff"/></linearGradient><linearGradient id="r54"><stop offset="0" stop-color="#5dff00"/><stop offset="0.0714" stop-color="#68ff00"/><stop offset="0.143" stop-color="#6eff00"/><stop offset="0.214" stop-color="#6dff00"/><stop offset="0.286" stop-color="#63ff00"/><stop offset="0.357" stop-color="#5f0"/><stop offset="0.429" stop-color="#40ff00"/><stop offset="0.5" stop-color="#24ff00"/><stop offset="0.571" stop-color="#0f0"/><stop offset="0.643" stop-color="#0f2"/><stop offset="0.714" stop-color="#00ff4a"/><stop offset="0.786" stop-color="#00ff79"/><stop offset="0.857" stop-color="#00ffaf"/><stop offset="0.929" stop-color="#00ffec"/><stop offset="1" stop-color="#00c1ff"/></linearGradient><linearGradient id="r55"><stop offset="0" stop-color="#67ff00"/><stop offset="0.0714" stop-color="#71ff00"/><stop offset="0.143" stop-color="#7f0"/><stop offset="0.214" stop-color="#74ff00"/><stop offset="0.286" stop-color="#6aff00"/><stop offset="0.357" stop-color="#5bff00"/><stop offset="0.429" stop-color="#45ff00"/><stop offset="0.5" stop-color="#28ff00"/><stop offset="0.571" stop-color="#04ff00"/><stop offset="0.643" stop-color="#00ff1f"/><stop offset="0.714" stop-color="#00ff48"/><stop offset="0.786" stop-color="#00ff78"/><stop offset="0.857" stop-color="#00ffae"/><stop offset="0.929" stop-color="#00ffec"/><stop offset="1" stop-color="#00c0ff"/></linearGradient><linearGradient id="r56"><stop offset="0" stop-color="#71ff00"/><stop offset="0.0714" stop-color="#7bff00"/><stop offset="0.143" stop-color="#7fff00"/><stop offset="0.214" stop-color="#7cff00"/><stop offset="0.286" stop-color="#71ff00"/><stop offset="0.357" stop-color="#60ff00"/><stop offset="0.429" stop-color="#4aff00"/><stop offset="0.5" stop-color="#2dff00"/><stop offset="0.571" stop-color="#07ff00"/><stop offset="0.643" stop-color="#00ff1d"/><stop offset="0.714" stop-color="#00ff47"/><stop offset="0.786" stop-color="#0f7"/><stop offset="0.857" stop-color="#00ffae"/><stop offset="0.929" stop-color="#00ffec"/><stop offset="1" stop-color="#00bfff"/></linearGradient><linearGradient id="r57"><stop offset="0" stop-color="#7bff00"/><stop offset="0.0714" stop-color="#84ff00"/><stop offset="0.143" stop-color="#87ff00"/><stop offset="0.214" stop-color="#83ff00"/><stop offset="0.286" stop-color="#7f0"/><stop offset="0.357" stop-color="#6f0"/><stop offset="0.429" stop-color="#4fff00"/><stop offset="0.5" stop-color="#30ff00"/><stop offset="0.571" stop-color="#0aff00"/><stop offset="0.643" stop-color="#00ff1c"/><stop offset="0.714" stop-color="#00ff46"/><stop offset="0.786" stop-color="#0f7"/><stop offset="0.857" stop-color="#00ffae"/><stop offset="0.929" stop-color="#00ffed"/><stop offset="1" stop-color="#00bdff"/></linearGradient><linearGradient id="r58"><stop offset="0" stop-color="#85ff00"/><stop offset="0.0714" stop-color="#8cff00"/><stop offset="0.143" stop-color="#8fff00"/><stop offset="0.214" stop-color="#8aff00"/><stop offset="0.286" stop-color="#7dff00"/><stop offset="0.357" stop-color="#6bff00"/><stop offset="0.429" stop-color="#53ff00"/><stop offset="0.5" stop-color="#34ff00"/><stop offset="0.571" stop-color="#0dff00"/><stop offset="0.643" stop-color="#00ff1a"/><stop offset="0.714" stop-color="#00ff45"/><stop offset="0.786" stop-color="#00ff76"/><stop offset="0.857" stop-color="#00ffae"/><stop offset="0.929" stop-color="#00ffed"/><stop offset="1" stop-color="#00bcff"/></linearGradient><linearGradient id="r59"><stop offset="0" stop-color="#8eff00"/><stop offset="0.0714" stop-color="#95ff00"/><stop offset="0.143" stop-color="#97ff00"/><stop offset="0.214" stop-color="#91ff00"/><stop offset="0.286" stop-color="#83ff00"/><stop offset="0.357" stop-color="#70ff00"/><stop offset="0.429" stop-color="#58ff00"/><stop offset="0.5" stop-color="#38ff00"/><stop offset="0.571" stop-color="#10ff00"/><stop offset="0.643" stop-color="#00ff18"/><stop offset="0.714" stop-color="#0f4"/><stop offset="0.786" stop-color="#00ff76"/><stop offset="0.857" stop-color="#00ffaf"/><stop offset="0.929" stop-color="#0fe"/><stop offset="1" stop-color="#00baff"/></linearGradient><linearGradient id="r60"><stop offset="0" stop-color="#97ff00"/><stop offset="0.0714" stop-color="#9dff00"/><stop offset="0.143" stop-color="#9fff00"/><stop offset="0.214" stop-color="#98ff00"/><stop offset="0.286" stop-color="#89ff00"/><stop offset="0.357" stop-color="#75ff00"/><stop offset="0.429" stop-color="#5cff00"/><stop offset="0.5" stop-color="#3bff00"/><stop offset="0.571" stop-color="#13ff00"/><stop offset="0.643" stop-color="#00ff17"/><stop offset="0.714" stop-color="#00ff43"/><stop offset="0.786" stop-color="#00ff76"/><stop offset="0.857" stop-color="#00ffaf"/><stop offset="0.929" stop-color="#00ffef"/><stop offset="1" stop-color="#00b8ff"/></linearGradient><linearGradient id="r61"><stop offset="0" stop-color="#a0ff00"/><stop offset="0.0714" stop-color="#a6ff00"/><stop offset="0.143" stop-color="#a6ff00"/><stop offset="0.214" stop-color="#9eff00"/><stop offset="0.286" stop-color="#8eff00"/><stop offset="0.357" stop-color="#79ff00"/><stop offset="0.429" stop-color="#60ff00"/><stop offset="0.5" stop-color="#3eff00"/><stop offset="0.571" stop-color="#15ff00"/><stop offset="0.643" stop-color="#00ff16"/><stop offset="0.714" stop-color="#00ff43"/><stop offset="0.786" stop-color="#00ff76"/><stop offset="0.857" stop-color="#00ffb0"/><stop offset="0.929" stop-color="#00fff0"/><stop offset="1" stop-color="#00b6ff"/></linearGradient><linearGradient id="r62"><stop offset="0" stop-color="#a9ff00"/><stop offset="0.0714" stop-color="#aeff00"/><stop offset="0.143" stop-color="#adff00"/><stop offset="0.214" stop-color="#a5ff00"/><stop offset="0.286" stop-color="#94ff00"/><stop offset="0.357" stop-color="#7eff00"/><stop offset="0.429" stop-color="#63ff00"/><stop offset="0.5" stop-color="#41ff00"/><stop offset="0.571" stop-color="#17ff00"/><stop offset="0.643" stop-color="#00ff15"/><stop offset="0.714" stop-color="#00ff42"/><stop offset="0.786" stop-color="#0f7"/><stop offset="0.857" stop-color="#00ffb1"/><stop offset="0.929" stop-color="#00fff2"/><stop offset="1" stop-color="#00b3ff"/></linearGradient><linearGradient id="r63"><stop offset="0" stop-color="#b1ff00"/><stop offset="0.0714" stop-color="#b5ff00"/><stop offset="0.143" stop-color="#b4ff00"/><stop offset="0.214" stop-color="#abff00"/><stop offset="0.286" stop-color="#9f0"/><stop offset="0.357" stop-color="#82ff00"/><stop offset="0.429" stop-color="#67ff00"/><stop offset="0.5" stop-color="#4f0"/><stop offset="0.571" stop-color="#19ff00"/><stop offset="0.643" stop-color="#00ff14"/><stop offset="0.714" stop-color="#00ff42"/><stop offset="0.786" stop-color="#0f7"/><stop offset="0.857" stop-color="#00ffb2"/><stop offset="0.929" stop-color="#00fff3"/><stop offset="1" stop-color="#00b0ff"/></linearGradient><linearGradient id="r64"><stop offset="0" stop-color="#baff00"/><stop offset="0.0714" stop-color="#bdff00"/><stop offset="0.143" stop-color="#bf0"/><stop offset="0.214" stop-color="#b0ff00"/><stop offset="0.286" stop-color="#9dff00"/><stop offset="0.357" stop-color="#86ff00"/><stop offset="0.429" stop-color="#6aff00"/><stop offset="0.5" stop-color="#47ff00"/><stop offset="0.571" stop-color="#1bff00"/><stop offset="0.643" stop-color="#00ff13"/><stop offset="0.714" stop-color="#00ff42"/><stop offset="0.786" stop-color="#00ff78"/><stop offset="0.857" stop-color="#00ffb4"/><stop offset="0.929" stop-color="#00fff5"/><stop offset="1" stop-color="#00adff"/></linearGradient><linearGradient id="r65"><stop offset="0" stop-color="#c2ff00"/><stop offset="0.0714" stop-color="#c4ff00"/><stop offset="0.143" stop-color="#c1ff00"/><stop offset="0.214" stop-color="#b6ff00"/><stop offset="0.286" stop-color="#a2ff00"/><stop offset="0.357" stop-color="#8aff00"/><stop offset="0.429" stop-color="#6dff00"/><stop offset="0.5" stop-color="#49ff00"/><stop offset="0.571" stop-color="#1dff00"/><stop offset="0.643" stop-color="#00ff13"/><stop offset="0.714" stop-color="#00ff42"/><stop offset="0.786" stop-color="#00ff79"/><stop offset="0.857" stop-color="#00ffb5"/><stop offset="0.929" stop-color="#00fff7"/><stop offset="1" stop-color="#0af"/></linearGradient><linearGradient id="r66"><stop offset="0" stop-color="#caff00"/><stop offset="0.0714" stop-color="#cbff00"/><stop offset="0.143" stop-color="#c7ff00"/><stop offset="0.214" stop-color="#bf0"/><stop offset="0.286" stop-color="#a7ff00"/><stop offset="0.357" stop-color="#8eff00"/><stop offset="0.429" stop-color="#70ff00"/><stop offset="0.5" stop-color="#4bff00"/><stop offset="0.571" stop-color="#1eff00"/><stop offset="0.643" stop-color="#00ff12"/><stop offset="0.714" stop-color="#00ff42"/><stop offset="0.786" stop-color="#00ff7a"/><stop offset="0.857" stop-color="#00ffb7"/><stop offset="0.929" stop-color="#00fffa"/><stop offset="1" stop-color="#00a7ff"/></linearGradient><linearGradient id="r67"><stop offset="0" stop-color="#d1ff00"/><stop offset="0.0714" stop-color="#d2ff00"/><stop offset="0.143" stop-color="#cdff00"/><stop offset="0.214" stop-color="#c0ff00"/><stop offset="0.286" stop-color="#abff00"/><stop offset="0.357" stop-color="#91ff00"/><stop offset="0.429" stop-color="#73ff00"/><stop offset="0.5" stop-color="#4dff00"/><stop offset="0.571" stop-color="#1fff00"/><stop offset="0.643" stop-color="#00ff12"/><stop offset="0.714" stop-color="#00ff43"/><stop offset="0.786" stop-color="#00ff7b"/><stop offset="0.857" stop-color="#00ffb9"/><stop offset="0.929" stop-color="#00fffc"/><stop offset="1" stop-color="#00a3ff"/></linearGradient><linearGradient id="r68"><stop offset="0" stop-color="#d9ff00"/><stop offset="0.0714" stop-color="#d9ff00"/><stop offset="0.143" stop-color="#d3ff00"/><stop offset="0.214" stop-color="#c5ff00"/><stop offset="0.286" stop-color="#afff00"/><stop offset="0.357" stop-color="#94ff00"/><stop offset="0.429" stop-color="#75ff00"/><stop offset="0.5" stop-color="#4fff00"/><stop offset="0.571" stop-color="#20ff00"/><stop offset="0.643" stop-color="#00ff12"/><stop offset="0.714" stop-color="#00ff43"/><stop offset="0.786" stop-color="#00ff7c"/><stop offset="0.857" stop-color="#0fb"/><stop offset="0.929" stop-color="#0ff"/><stop offset="1" stop-color="#009fff"/></linearGradient><linearGradient id="r69"><stop offset="0" stop-color="#e0ff00"/><stop offset="0.0714" stop-color="#dfff00"/><stop offset="0.143" stop-color="#d9ff00"/><stop offset="0.214" stop-color="#caff00"/><stop offset="0.286" stop-color="#b3ff00"/><stop offset="0.357" stop-color="#97ff00"/><stop offset="0.429" stop-color="#78ff00"/><stop offset="0.5" stop-color="#51ff00"/><stop offset="0.571" stop-color="#21ff00"/><stop offset="0.643" stop-color="#00ff12"/><stop offset="0.714" stop-color="#0f4"/><stop offset="0.786" stop-color="#00ff7e"/><stop offset="0.857" stop-color="#00ffbe"/><stop offset="0.929" stop-color="#00fbff"/><stop offset="1" stop-color="#009aff"/></linearGradient><linearGradient id="r70"><stop offset="0" stop-color="#e7ff00"/><stop offset="0.0714" stop-color="#e5ff00"/><stop offset="0.143" stop-color="#deff00"/><stop offset="0.214" stop-color="#ceff00"/><stop offset="0.286" stop-color="#b6ff00"/><stop offset="0.357" stop-color="#9aff00"/><stop offset="0.429" stop-color="#7aff00"/><stop offset="0.5" stop-color="#52ff00"/><stop offset="0.571" stop-color="#2f0"/><stop offset="0.643" stop-color="#00ff12"/><stop offset="0.714" stop-color="#00ff45"/><stop offset="0.786" stop-color="#00ff7f"/><stop offset="0.857" stop-color="#00ffc0"/><stop offset="0.929" stop-color="#00f7ff"/><stop offset="1" stop-color="#0096ff"/></linearGradient><linearGradient id="r71"><stop offset="0" stop-color="#ef0"/><stop offset="0.0714" stop-color="#ebff00"/><stop offset="0.143" stop-color="#e3ff00"/><stop offset="0.214" stop-color="#d3ff00"/><stop offset="0.286" stop-color="#baff00"/><stop offset="0.357" stop-color="#9dff00"/><stop offset="0.429" stop-color="#7cff00"/><stop offset="0.5" stop-color="#53ff00"/><stop offset="0.571" stop-color="#2f0"/><stop offset="0.643" stop-color="#00ff12"/><stop offset="0.714" stop-color="#00ff46"/><stop offset="0.786" stop-color="#00ff81"/><stop offset="0.857" stop-color="#00ffc3"/><stop offset="0.929" stop-color="#00f3ff"/><stop offset="1" stop-color="#0091ff"/></linearGradient><linearGradient id="r72"><stop offset="0" stop-color="#f5ff00"/><stop offset="0.0714" stop-color="#f1ff00"/><stop offset="0.143" stop-color="#e8ff00"/><stop offset="0.214" stop-color="#d7ff00"/><stop offset="0.286" stop-color="#bdff00"/><stop offset="0.357" stop-color="#9fff00"/><stop offset="0.429" stop-color="#7dff00"/><stop offset="0.5" stop-color="#54ff00"/><stop offset="0.571" stop-color="#2f0"/><stop offset="0.643" stop-color="#00ff13"/><stop offset="0.714" stop-color="#00ff47"/><stop offset="0.786" stop-color="#00ff83"/><stop offset="0.857" stop-color="#00ffc6"/><stop offset="0.929" stop-color="#0ef"/><stop offset="1" stop-color="#008cff"/></linearGradient><linearGradient id="r73"><stop offset="0" stop-color="#fbff00"/><stop offset="0.0714" stop-color="#f7ff00"/><stop offset="0.143" stop-color="#edff00"/><stop offset="0.214" stop-color="#dbff00"/><stop offset="0.286" stop-color="#c0ff00"/><stop offset="0.357" stop-color="#a1ff00"/><stop offset="0.429" stop-color="#7fff00"/><stop offset="0.5" stop-color="#5f0"/><stop offset="0.571" stop-color="#2f0"/><stop offset="0.643" stop-color="#00ff13"/><stop offset="0.714" stop-color="#00ff48"/><stop offset="0.786" stop-color="#00ff85"/><stop offset="0.857" stop-color="#00ffc9"/><stop offset="0.929" stop-color="#00eaff"/><stop offset="1" stop-color="#0087ff"/></linearGradient><linearGradient id="r74"><stop offset="0" stop-color="#fffd00"/><stop offset="0.0714" stop-color="#fcff00"/><stop offset="0.143" stop-color="#f1ff00"/><stop offset="0.214" stop-color="#deff00"/><stop offset="0.286" stop-color="#c3ff00"/><stop offset="0.357" stop-color="#a3ff00"/><stop offset="0.429" stop-color="#80ff00"/><stop offset="0.5" stop-color="#56ff00"/><stop offset="0.571" stop-color="#2f0"/><stop offset="0.643" stop-color="#00ff14"/><stop offset="0.714" stop-color="#00ff4a"/><stop offset="0.786" stop-color="#00ff87"/><stop offset="0.857" stop-color="#0fc"/><stop offset="0.929" stop-color="#00e5ff"/><stop offset="1" stop-color="#0082ff"/></linearGradient><linearGradient id="r75"><stop offset="0" stop-color="#fff900"/><stop offset="0.0714" stop-color="#fffd00"/><stop offset="0.143" stop-color="#f6ff00"/><stop offset="0.214" stop-color="#e2ff00"/><stop offset="0.286" stop-color="#c6ff00"/><stop offset="0.357" stop-color="#a5ff00"/><stop offset="0.429" stop-color="#81ff00"/><stop offset="0.5" stop-color="#56ff00"/><stop offset="0.571" stop-color="#2f0"/><stop offset="0.643" stop-color="#00ff15"/><stop offset="0.714" stop-color="#00ff4b"/><stop offset="0.786" stop-color="#00ff89"/><stop offset="0.857" stop-color="#00ffcf"/><stop offset="0.929" stop-color="#00e0ff"/><stop offset="1" stop-color="#007cff"/></linearGradient><linearGradient id="r76"><stop offset="0" stop-color="#fff500"/><stop offset="0.0714" stop-color="#fffa00"/><stop offset="0.143" stop-color="#faff00"/><stop offset="0.214" stop-color="#e5ff00"/><stop offset="0.286" stop-color="#c8ff00"/><stop offset="0.357" stop-color="#a7ff00"/><stop offset="0.429" stop-color="#82ff00"/><stop offset="0.5" stop-color="#56ff00"/><stop offset="0.571" stop-color="#21ff00"/><stop offset="0.643" stop-color="#00ff16"/><stop offset="0.714" stop-color="#00ff4d"/><stop offset="0.786" stop-color="#00ff8c"/><stop offset="0.857" stop-color="#00ffd2"/><stop offset="0.929" stop-color="#00dbff"/><stop offset="1" stop-color="#07f"/></linearGradient><linearGradient id="r77"><stop offset="0" stop-color="#fff100"/><stop offset="0.0714" stop-color="#fff600"/><stop offset="0.143" stop-color="#feff00"/><stop offset="0.214" stop-color="#e8ff00"/><stop offset="0.286" stop-color="#caff00"/><stop offset="0.357" stop-color="#a8ff00"/><stop offset="0.429" stop-color="#83ff00"/><stop offset="0.5" stop-color="#57ff00"/><stop offset="0.571" stop-color="#21ff00"/><stop offset="0.643" stop-color="#00ff17"/><stop offset="0.714" stop-color="#00ff4f"/><stop offset="0.786" stop-color="#00ff8e"/><stop offset="0.857" stop-color="#00ffd5"/><stop offset="0.929" stop-color="#00d6ff"/><stop offset="1" stop-color="#0071ff"/></linearGradient><linearGradient id="r78"><stop offset="0" stop-color="#ffed00"/><stop offset="0.0714" stop-color="#fff300"/><stop offset="0.143" stop-color="#fffd00"/><stop offset="0.214" stop-color="#ebff00"/><stop offset="0.286" stop-color="#cdff00"/><stop offset="0.357" stop-color="#af0"/><stop offset="0.429" stop-color="#84ff00"/><stop offset="0.5" stop-color="#56ff00"/><stop offset="0.571" stop-color="#20ff00"/><stop offset="0.643" stop-color="#00ff19"/><stop offset="0.714" stop-color="#00ff50"/><stop offset="0.786" stop-color="#00ff91"/><stop offset="0.857" stop-color="#00ffd9"/><stop offset="0.929" stop-color="#00d1ff"/><stop offset="1" stop-color="#006bff"/></linearGradient><linearGradient id="r79"><stop offset="0" stop-color="#ffe900"/><stop offset="0.0714" stop-color="#fff000"/><stop offset="0.143" stop-color="#fffb00"/><stop offset="0.214" stop-color="#ef0"/><stop offset="0.286" stop-color="#cfff00"/><stop offset="0.357" stop-color="#abff00"/><stop offset="0.429" stop-color="#84ff00"/><stop offset="0.5" stop-color="#56ff00"/><stop offset="0.571" stop-color="#1eff00"/><stop offset="0.643" stop-color="#00ff1a"/><stop offset="0.714" stop-color="#00ff53"/><stop offset="0.786" stop-color="#00ff93"/><stop offset="0.857" stop-color="#00ffdc"/><stop offset="0.929" stop-color="#00cbff"/><stop offset="1" stop-color="#0064ff"/></linearGradient><linearGradient id="r80"><stop offset="0" stop-color="#ffe500"/><stop offset="0.0714" stop-color="#ffed00"/><stop offset="0.143" stop-color="#fff800"/><stop offset="0.214" stop-color="#f1ff00"/><stop offset="0.286" stop-color="#d1ff00"/><stop offset="0.357" stop-color="#acff00"/><stop offset="0.429" stop-color="#84ff00"/><stop offset="0.5" stop-color="#5f0"/><stop offset="0.571" stop-color="#1dff00"/><stop offset="0.643" stop-color="#00ff1c"/><stop offset="0.714" stop-color="#0f5"/><stop offset="0.786" stop-color="#00ff96"/><stop offset="0.857" stop-color="#00ffdf"/><stop offset="0.929" stop-color="#00c6ff"/><stop offset="1" stop-color="#005eff"/></linearGradient><linearGradient id="r81"><stop offset="0" stop-color="#ffe200"/><stop offset="0.0714" stop-color="#ffea00"/><stop offset="0.143" stop-color="#fff600"/><stop offset="0.214" stop-color="#f3ff00"/><stop offset="0.286" stop-color="#d2ff00"/><stop offset="0.357" stop-color="#adff00"/><stop offset="0.429" stop-color="#84ff00"/><stop offset="0.5" stop-color="#5f0"/><stop offset="0.571" stop-color="#1bff00"/><stop offset="0.643" stop-color="#00ff1e"/><stop offset="0.714" stop-color="#00ff57"/><stop offset="0.786" stop-color="#0f9"/><stop offset="0.857" stop-color="#00ffe3"/><stop offset="0.929" stop-color="#00c0ff"/><stop offset="1" stop-color="#0058ff"/></linearGradient><linearGradient id="r82"><stop offset="0" stop-color="#ffde00"/><stop offset="0.0714" stop-color="#ffe700"/><stop offset="0.143" stop-color="#fff400"/><stop offset="0.214" stop-color="#f6ff00"/><stop offset="0.286" stop-color="#d4ff00"/><stop offset="0.357" stop-color="#aeff00"/><stop offset="0.429" stop-color="#84ff00"/><stop offset="0.5" stop-color="#54ff00"/><stop offset="0.571" stop-color="#1aff00"/><stop offset="0.643" stop-color="#00ff20"/><stop offset="0.714" stop-color="#00ff5a"/><stop offset="0.786" stop-color="#00ff9c"/><stop offset="0.857" stop-color="#00ffe7"/><stop offset="0.929" stop-color="#0bf"/><stop offset="1" stop-color="#0051ff"/></linearGradient><linearGradient id="r83"><stop offset="0" stop-color="#ffdb00"/><stop offset="0.0714" stop-color="#ffe400"/><stop offset="0.143" stop-color="#fff100"/><stop offset="0.214" stop-color="#f8ff00"/><stop offset="0.286" stop-color="#d5ff00"/><stop offset="0.357" stop-color="#aeff00"/><stop offset="0.429" stop-color="#84ff00"/><stop offset="0.5" stop-color="#53ff00"/><stop offset="0.571" stop-color="#18ff00"/><stop offset="0.643" stop-color="#0f2"/><stop offset="0.714" stop-color="#00ff5c"/><stop offset="0.786" stop-color="#00ff9f"/><stop offset="0.857" stop-color="#00ffeb"/><stop offset="0.929" stop-color="#00b5ff"/><stop offset="1" stop-color="#004aff"/></linearGradient><linearGradient id="r84"><stop offset="0" stop-color="#ffd800"/><stop offset="0.0714" stop-color="#ffe200"/><stop offset="0.143" stop-color="#ffef00"/><stop offset="0.214" stop-color="#faff00"/><stop offset="0.286" stop-color="#d6ff00"/><stop offset="0.357" stop-color="#aeff00"/><stop offset="0.429" stop-color="#84ff00"/><stop offset="0.5" stop-color="#51ff00"/><stop offset="0.571" stop-color="#15ff00"/><stop offset="0.643" stop-color="#00ff24"/><stop offset="0.714" stop-color="#00ff5f"/><stop offset="0.786" stop-color="#00ffa2"/><stop offset="0.857" stop-color="#0fe"/><stop offset="0.929" stop-color="#00afff"/><stop offset="1" stop-color="#0043ff"/></linearGradient><linearGradient id="r85"><stop offset="0" stop-color="#ffd500"/><stop offset="0.0714" stop-color="#ffdf00"/><stop offset="0.143" stop-color="#fe0"/><stop offset="0.214" stop-color="#fcff00"/><stop offset="0.286" stop-color="#d7ff00"/><stop offset="0.357" stop-color="#afff00"/><stop offset="0.429" stop-color="#83ff00"/><stop offset="0.5" stop-color="#50ff00"/><stop offset="0.571" stop-color="#13ff00"/><stop offset="0.643" stop-color="#00ff26"/><stop offset="0.714" stop-color="#00ff62"/><stop offset="0.786" stop-color="#00ffa6"/><stop offset="0.857" stop-color="#00fff3"/><stop offset="0.929" stop-color="#00a9ff"/><stop offset="1" stop-color="#003cff"/></linearGradient><linearGradient id="r86"><stop offset="0" stop-color="#ffd200"/><stop offset="0.0714" stop-color="#fd0"/><stop offset="0.143" stop-color="#ffec00"/><stop offset="0.214" stop-color="#fdff00"/><stop offset="0.286" stop-color="#d8ff00"/><stop offset="0.357" stop-color="#afff00"/><stop offset="0.429" stop-color="#82ff00"/><stop offset="0.5" stop-color="#4eff00"/><stop offset="0.571" stop-color="#10ff00"/><stop offset="0.643" stop-color="#00ff29"/><stop offset="0.714" stop-color="#00ff65"/><stop offset="0.786" stop-color="#00ffa9"/><stop offset="0.857" stop-color="#00fff7"/><stop offset="0.929" stop-color="#00a3ff"/><stop offset="1" stop-color="#0035ff"/></linearGradient><linearGradient id="r87"><stop offset="0" stop-color="#ffcf00"/><stop offset="0.0714" stop-color="#ffda00"/><stop offset="0.143" stop-color="#ffea00"/><stop offset="0.214" stop-color="#ff0"/><stop offset="0.286" stop-color="#d9ff00"/><stop offset="0.357" stop-color="#afff00"/><stop offset="0.429" stop-color="#81ff00"/><stop offset="0.5" stop-color="#4cff00"/><stop offset="0.571" stop-color="#0eff00"/><stop offset="0.643" stop-color="#00ff2c"/><stop offset="0.714" stop-color="#00ff68"/><stop offset="0.786" stop-color="#00ffad"/><stop offset="0.857" stop-color="#00fffb"/><stop offset="0.929" stop-color="#009cff"/><stop offset="1" stop-color="#002eff"/></linearGradient><linearGradient id="r88"><stop offset="0" stop-color="#fc0"/><stop offset="0.0714" stop-color="#ffd800"/><stop offset="0.143" stop-color="#ffe900"/><stop offset="0.214" stop-color="#fffe00"/><stop offset="0.286" stop-color="#daff00"/><stop offset="0.357" stop-color="#aeff00"/><stop offset="0.429" stop-color="#80ff00"/><stop offset="0.5" stop-color="#4aff00"/><stop offset="0.571" stop-color="#0bff00"/><stop offset="0.643" stop-color="#00ff2e"/><stop offset="0.714" stop-color="#00ff6b"/><stop offset="0.786" stop-color="#00ffb1"/><stop offset="0.857" stop-color="#00feff"/><stop offset="0.929" stop-color="#0096ff"/><stop offset="1" stop-color="#0026ff"/></linearGradient><linearGradient id="r89"><stop offset="0" stop-color="#ffca00"/><stop offset="0.0714" stop-color="#ffd600"/><stop offset="0.143" stop-color="#ffe700"/><stop offset="0.214" stop-color="#fffd00"/><stop offset="0.286" stop-color="#daff00"/><stop offset="0.357" stop-color="#aeff00"/><stop offset="0.429" stop-color="#7eff00"/><stop offset="0.5" stop-color="#47ff00"/><stop offset="0.571" stop-color="#08ff00"/><stop offset="0.643" stop-color="#00ff31"/><stop offset="0.714" stop-color="#00ff6f"/><stop offset="0.786" stop-color="#00ffb5"/><stop offset="0.857" stop-color="#00f8ff"/><stop offset="0.929" stop-color="#008fff"/><stop offset="1" stop-color="#001fff"/></linearGradient><linearGradient id="r90"><stop offset="0" stop-color="#ffc700"/><stop offset="0.0714" stop-color="#ffd500"/><stop offset="0.143" stop-color="#ffe600"/><stop offset="0.214" stop-color="#fffd00"/><stop offset="0.286" stop-color="#daff00"/><stop offset="0.357" stop-color="#adff00"/><stop offset="0.429" stop-color="#7dff00"/><stop offset="0.5" stop-color="#45ff00"/><stop offset="0.571" stop-color="#04ff00"/><stop offset="0.643" stop-color="#00ff35"/><stop offset="0.714" stop-color="#00ff72"/><stop offset="0.786" stop-color="#00ffb9"/><stop offset="0.857" stop-color="#00f2ff"/><stop offset="0.929" stop-color="#08f"/><stop offset="1" stop-color="#0017ff"/></linearGradient><linearGradient id="r91"><stop offset="0" stop-color="#ffc500"/><stop offset="0.0714" stop-color="#ffd300"/><stop offset="0.143" stop-color="#ffe500"/><stop offset="0.214" stop-color="#fffc00"/><stop offset="0.286" stop-color="#daff00"/><stop offset="0.357" stop-color="#adff00"/><stop offset="0.429" stop-color="#7bff00"/><stop offset="0.5" stop-color="#42ff00"/><stop offset="0.571" stop-color="#01ff00"/><stop offset="0.643" stop-color="#00ff38"/><stop offset="0.714" stop-color="#00ff76"/><stop offset="0.786" stop-color="#00ffbd"/><stop offset="0.857" stop-color="#00ecff"/><stop offset="0.929" stop-color="#0081ff"/><stop offset="1" stop-color="#000fff"/></linearGradient><linearGradient id="r92"><stop offset="0" stop-color="#ffc300"/><stop offset="0.0714" stop-color="#ffd100"/><stop offset="0.143" stop-color="#ffe400"/><stop offset="0.214" stop-color="#fffc00"/><stop offset="0.286" stop-color="#daff00"/><stop offset="0.357" stop-color="#acff00"/><stop offset="0.429" stop-color="#79ff00"/><stop offset="0.5" stop-color="#3fff00"/><stop offset="0.571" stop-color="#00ff02"/><stop offset="0.643" stop-color="#00ff3b"/><stop offset="0.714" stop-color="#00ff7a"/><stop offset="0.786" stop-color="#00ffc2"/><stop offset="0.857" stop-color="#00e5ff"/><stop offset="0.929" stop-color="#007aff"/><stop offset="1" stop-color="#0007ff"/></linearGradient><linearGradient id="r93"><stop offset="0" stop-color="#ffc100"/><stop offset="0.0714" stop-color="#ffd000"/><stop offset="0.143" stop-color="#ffe300"/><stop offset="0.214" stop-color="#fffb00"/><stop offset="0.286" stop-color="#daff00"/><stop offset="0.357" stop-color="#af0"/><stop offset="0.429" stop-color="#7f0"/><stop offset="0.5" stop-color="#3cff00"/><stop offset="0.571" stop-color="#00ff05"/><stop offset="0.643" stop-color="#00ff3f"/><stop offset="0.714" stop-color="#00ff7e"/><stop offset="0.786" stop-color="#00ffc7"/><stop offset="0.857" stop-color="#00deff"/><stop offset="0.929" stop-color="#0072ff"/><stop offset="1" stop-color="#00f"/></linearGradient><linearGradient id="r94"><stop offset="0" stop-color="#ffbf00"/><stop offset="0.0714" stop-color="#ffce00"/><stop offset="0.143" stop-color="#ffe200"/><stop offset="0.214" stop-color="#fffb00"/><stop offset="0.286" stop-color="#daff00"/><stop offset="0.357" stop-color="#a9ff00"/><stop offset="0.429" stop-color="#74ff00"/><stop offset="0.5" stop-color="#39ff00"/><stop offset="0.571" stop-color="#00ff09"/><stop offset="0.643" stop-color="#00ff42"/><stop offset="0.714" stop-color="#00ff82"/><stop offset="0.786" stop-color="#0fc"/><stop offset="0.857" stop-color="#00d7ff"/><stop offset="0.929" stop-color="#006aff"/><stop offset="1" stop-color="#00f"/></linearGradient><linearGradient id="r95"><stop offset="0" stop-color="#ffbd00"/><stop offset="0.0714" stop-color="#ffcd00"/><stop offset="0.143" stop-color="#ffe200"/><stop offset="0.214" stop-color="#fffb00"/><stop offset="0.286" stop-color="#d9ff00"/><stop offset="0.357" stop-color="#a8ff00"/><stop offset="0.429" stop-color="#72ff00"/><stop offset="0.5" stop-color="#35ff00"/><stop offset="0.571" stop-color="#00ff0c"/><stop offset="0.643" stop-color="#00ff46"/><stop offset="0.714" stop-color="#00ff87"/><stop offset="0.786" stop-color="#00ffd1"/><stop offset="0.857" stop-color="#00d0ff"/><stop offset="0.929" stop-color="#0062ff"/><stop offset="1" stop-color="#00f"/></linearGradient><linearGradient id="r96"><stop offset="0" stop-color="#fb0"/><stop offset="0.0714" stop-color="#fc0"/><stop offset="0.143" stop-color="#ffe100"/><stop offset="0.214" stop-color="#fffb00"/><stop offset="0.286" stop-color="#d8ff00"/><stop offset="0.357" stop-color="#a6ff00"/><stop offset="0.429" stop-color="#6fff00"/><stop offset="0.5" stop-color="#31ff00"/><stop offset="0.571" stop-color="#00ff10"/><stop offset="0.643" stop-color="#00ff4a"/><stop offset="0.714" stop-color="#00ff8b"/><stop offset="0.786" stop-color="#00ffd6"/><stop offset="0.857" stop-color="#00c8ff"/><stop offset="0.929" stop-color="#0059ff"/><stop offset="1" stop-color="#00f"/></linearGradient><linearGradient id="r97"><stop offset="0" stop-color="#ffba00"/><stop offset="0.0714" stop-color="#ffcb00"/><stop offset="0.143" stop-color="#ffe100"/><stop offset="0.214" stop-color="#fffb00"/><stop offset="0.286" stop-color="#d7ff00"/><stop offset="0.357" stop-color="#a4ff00"/><stop offset="0.429" stop-color="#6cff00"/><stop offset="0.5" stop-color="#2dff00"/><stop offset="0.571" stop-color="#00ff13"/><stop offset="0.643" stop-color="#00ff4e"/><stop offset="0.714" stop-color="#00ff90"/><stop offset="0.786" stop-color="#00ffdc"/><stop offset="0.857" stop-color="#00c0ff"/><stop offset="0.929" stop-color="#0051ff"/><stop offset="1" stop-color="#00f"/></linearGradient><linearGradient id="r98"><stop offset="0" stop-color="#ffb800"/><stop offset="0.0714" stop-color="#ffca00"/><stop offset="0.143" stop-color="#ffe100"/><stop offset="0.214" stop-color="#fffc00"/><stop offset="0.286" stop-color="#d6ff00"/><stop offset="0.357" stop-color="#a2ff00"/><stop offset="0.429" stop-color="#69ff00"/><stop offset="0.5" stop-color="#29ff00"/><stop offset="0.571" stop-color="#00ff17"/><stop offset="0.643" stop-color="#00ff53"/><stop offset="0.714" stop-color="#00ff95"/><stop offset="0.786" stop-color="#00ffe2"/><stop offset="0.857" stop-color="#00b7ff"/><stop offset="0.929" stop-color="#0047ff"/><stop offset="1" stop-color="#00f"/></linearGradient><linearGradient id="r99"><stop offset="0" stop-color="#ffb700"/><stop offset="0.0714" stop-color="#ffca00"/><stop offset="0.143" stop-color="#ffe100"/><stop offset="0.214" stop-color="#fffc00"/><stop offset="0.286" stop-color="#d4ff00"/><stop offset="0.357" stop-color="#a0ff00"/><stop offset="0.429" stop-color="#6f0"/><stop offset="0.5" stop-color="#25ff00"/><stop offset="0.571" stop-color="#00ff1b"/><stop offset="0.643" stop-color="#00ff57"/><stop offset="0.714" stop-color="#00ff9a"/><stop offset="0.786" stop-color="#00ffe8"/><stop offset="0.857" stop-color="#00aeff"/><stop offset="0.929" stop-color="#003eff"/><stop offset="1" stop-color="#00f"/></linearGradient><linearGradient id="r100"><stop offset="0" stop-color="#ffb600"/><stop offset="0.0714" stop-color="#ffc900"/><stop offset="0.143" stop-color="#ffe100"/><stop offset="0.214" stop-color="#fffd00"/><stop offset="0.286" stop-color="#d3ff00"/><stop offset="0.357" stop-color="#9dff00"/><stop offset="0.429" stop-color="#62ff00"/><stop offset="0.5" stop-color="#20ff00"/><stop offset="0.571" stop-color="#00ff1f"/><stop offset="0.643" stop-color="#00ff5c"/><stop offset="0.714" stop-color="#00ff9f"/><stop offset="0.786" stop-color="#0fe"/><stop offset="0.857" stop-color="#00a5ff"/><stop offset="0.929" stop-color="#0034ff"/><stop offset="1" stop-color="#00f"/></linearGradient><linearGradient id="r101"><stop offset="0" stop-color="#ffb500"/><stop offset="0.0714" stop-color="#ffc900"/><stop offset="0.143" stop-color="#ffe100"/><stop offset="0.214" stop-color="#fffe00"/><stop offset="0.286" stop-color="#d1ff00"/><stop offset="0.357" stop-color="#9aff00"/><stop offset="0.429" stop-color="#5eff00"/><stop offset="0.5" stop-color="#1bff00"/><stop offset="0.571" stop-color="#00ff23"/><stop offset="0.643" stop-color="#00ff60"/><stop offset="0.714" stop-color="#00ffa4"/><stop offset="0.786" stop-color="#00fff5"/><stop offset="0.857" stop-color="#009bff"/><stop offset="0.929" stop-color="#002aff"/><stop offset="1" stop-color="#00f"/></linearGradient><linearGradient id="r102"><stop offset="0" stop-color="#ffb400"/><stop offset="0.0714" stop-color="#ffc900"/><stop offset="0.143" stop-color="#ffe100"/><stop offset="0.214" stop-color="#ff0"/><stop offset="0.286" stop-color="#cfff00"/><stop offset="0.357" stop-color="#97ff00"/><stop offset="0.429" stop-color="#5aff00"/><stop offset="0.5" stop-color="#16ff00"/><stop offset="0.571" stop-color="#00ff28"/><stop offset="0.643" stop-color="#00ff65"/><stop offset="0.714" stop-color="#0fa"/><stop offset="0.786" stop-color="#00fffb"/><stop offset="0.857" stop-color="#0091ff"/><stop offset="0.929" stop-color="#001fff"/><stop offset="1" stop-color="#00f"/></linearGradient><linearGradient id="r103"><stop offset="0" stop-color="#ffb300"/><stop offset="0.0714" stop-color="#ffc900"/><stop offset="0.143" stop-color="#ffe200"/><stop offset="0.214" stop-color="#feff00"/><stop offset="0.286" stop-color="#cf0"/><stop offset="0.357" stop-color="#94ff00"/><stop offset="0.429" stop-color="#56ff00"/><stop offset="0.5" stop-color="#1f0"/><stop offset="0.571" stop-color="#00ff2d"/><stop offset="0.643" stop-color="#00ff6a"/><stop offset="0.714" stop-color="#00ffb0"/><stop offset="0.786" stop-color="#00fbff"/><stop offset="0.857" stop-color="#0087ff"/><stop offset="0.929" stop-color="#0014ff"/><stop offset="1" stop-color="#00f"/></linearGradient><linearGradient id="r104"><stop offset="0" stop-color="#ffb300"/><stop offset="0.0714" stop-color="#ffc900"/><stop offset="0.143" stop-color="#ffe300"/><stop offset="0.214" stop-color="#fcff00"/><stop offset="0.286" stop-color="#caff00"/><stop offset="0.357" stop-color="#91ff00"/><stop offset="0.429" stop-color="#51ff00"/><stop offset="0.5" stop-color="#0cff00"/><stop offset="0.571" stop-color="#00ff31"/><stop offset="0.643" stop-color="#00ff70"/><stop offset="0.714" stop-color="#00ffb6"/><stop offset="0.786" stop-color="#00f1ff"/><stop offset="0.857" stop-color="#007cff"/><stop offset="0.929" stop-color="#0009ff"/><stop offset="1" stop-color="#00f"/></linearGradient><linearGradient id="r105"><stop offset="0" stop-color="#ffb200"/><stop offset="0.0714" stop-color="#ffc900"/><stop offset="0.143" stop-color="#ffe300"/><stop offset="0.214" stop-color="#faff00"/><stop offset="0.286" stop-color="#c7ff00"/><stop offset="0.357" stop-color="#8dff00"/><stop offset="0.429" stop-color="#4dff00"/><stop offset="0.5" stop-color="#06ff00"/><stop offset="0.571" stop-color="#00ff36"/><stop offset="0.643" stop-color="#00ff75"/><stop offset="0.714" stop-color="#00ffbc"/><stop offset="0.786" stop-color="#00e8ff"/><stop offset="0.857" stop-color="#0071ff"/><stop offset="0.929" stop-color="#00f"/><stop offset="1" stop-color="#00f"/></linearGradient><linearGradient id="r106"><stop offset="0" stop-color="#ffb200"/><stop offset="0.0714" stop-color="#ffc900"/><stop offset="0.143" stop-color="#ffe400"/><stop offset="0.214" stop-color="#f8ff00"/><stop offset="0.286" stop-color="#c4ff00"/><stop offset="0.357" stop-color="#89ff00"/><stop offset="0.429" stop-color="#48ff00"/><stop offset="0.5" stop-color="#0f0"/><stop offset="0.571" stop-color="#00ff3c"/><stop offset="0.643" stop-color="#00ff7b"/><stop offset="0.714" stop-color="#00ffc3"/><stop offset="0.786" stop-color="#00deff"/><stop offset="0.857" stop-color="#06f"/><stop offset="0.929" stop-color="#00f"/><stop offset="1" stop-color="#00f"/></linearGradient><linearGradient id="r107"><stop offset="0" stop-color="#ffb200"/><stop offset="0.0714" stop-color="#ffca00"/><stop offset="0.143" stop-color="#ffe500"/><stop offset="0.214" stop-color="#f6ff00"/><stop offset="0.286" stop-color="#c1ff00"/><stop offset="0.357" stop-color="#85ff00"/><stop offset="0.429" stop-color="#43ff00"/><stop offset="0.5" stop-color="#00ff05"/><stop offset="0.571" stop-color="#00ff41"/><stop offset="0.643" stop-color="#00ff81"/><stop offset="0.714" stop-color="#00ffc9"/><stop offset="0.786" stop-color="#00d4ff"/><stop offset="0.857" stop-color="#005aff"/><stop offset="0.929" stop-color="#00f"/><stop offset="1" stop-color="#00f"/></linearGradient><linearGradient id="r108"><stop offset="0" stop-color="#ffb200"/><stop offset="0.0714" stop-color="#ffca00"/><stop offset="0.143" stop-color="#ffe600"/><stop offset="0.214" stop-color="#f3ff00"/><stop offset="0.286" stop-color="#beff00"/><stop offset="0.357" stop-color="#81ff00"/><stop offset="0.429" stop-color="#3dff00"/><stop offset="0.5" stop-color="#00ff0a"/><stop offset="0.571" stop-color="#00ff46"/><stop offset="0.643" stop-color="#00ff87"/><stop offset="0.714" stop-color="#00ffd0"/><stop offset="0.786" stop-color="#00caff"/><stop offset="0.857" stop-color="#004eff"/><stop offset="0.929" stop-color="#00f"/><stop offset="1" stop-color="#00f"/></linearGradient><linearGradient id="r109"><stop offset="0" stop-color="#ffb200"/><stop offset="0.0714" stop-color="#ffcb00"/><stop offset="0.143" stop-color="#ffe800"/><stop offset="0.214" stop-color="#f1ff00"/><stop offset="0.286" stop-color="#baff00"/><stop offset="0.357" stop-color="#7cff00"/><stop offset="0.429" stop-color="#38ff00"/><stop offset="0.5" stop-color="#00ff0f"/><stop offset="0.571" stop-color="#00ff4c"/><stop offset="0.643" stop-color="#00ff8d"/><stop offset="0.714" stop-color="#00ffd7"/><stop offset="0.786" stop-color="#00c0ff"/><stop offset="0.857" stop-color="#0042ff"/><stop offset="0.929" stop-color="#00f"/><stop offset="1" stop-color="#00f"/></linearGradient><linearGradient id="r110"><stop offset="0" stop-color="#ffb200"/><stop offset="0.0714" stop-color="#fc0"/><stop offset="0.143" stop-color="#ffe900"/><stop offset="0.214" stop-color="#ef0"/><stop offset="0.286" stop-color="#b6ff00"/><stop offset="0.357" stop-color="#7f0"/><stop offset="0.429" stop-color="#32ff00"/><stop offset="0.5" stop-color="#00ff14"/><stop offset="0.571" stop-color="#00ff52"/><stop offset="0.643" stop-color="#00ff94"/><stop offset="0.714" stop-color="#00ffdf"/><stop offset="0.786" stop-color="#00b5ff"/><stop offset="0.857" stop-color="#0035ff"/><stop offset="0.929" stop-color="#00f"/><stop offset="1" stop-color="#00f"/></linearGradient><linearGradient id="r111"><stop offset="0" stop-color="#ffb200"/><stop offset="0.0714" stop-color="#ffcd00"/><stop offset="0.143" stop-color="#ffeb00"/><stop offset="0.214" stop-color="#ebff00"/><stop offset="0.286" stop-color="#b2ff00"/><stop offset="0.357" stop-color="#72ff00"/><stop offset="0.429" stop-color="#2bff00"/><stop offset="0.5" stop-color="#00ff1a"/><stop offset="0.571" stop-color="#00ff58"/><stop offset="0.643" stop-color="#00ff9a"/><stop offset="0.714" stop-color="#00ffe6"/><stop offset="0.786" stop-color="#0af"/><stop offset="0.857" stop-color="#0028ff"/><stop offset="0.929" stop-color="#00f"/><stop offset="1" stop-color="#00f"/></linearGradient><linearGradient id="r112"><stop offset="0" stop-color="#ffb300"/><stop offset="0.0714" stop-color="#ffce00"/><stop offset="0.143" stop-color="#ffed00"/><stop offset="0.214" stop-color="#e7ff00"/><stop offset="0.286" stop-color="#aeff00"/><stop offset="0.357" stop-color="#6dff00"/><stop offset="0.429" stop-color="#25ff00"/><stop offset="0.5" stop-color="#00ff20"/><stop offset="0.571" stop-color="#00ff5f"/><stop offset="0.643" stop-color="#00ffa1"/><stop offset="0.714" stop-color="#0fe"/><stop offset="0.786" stop-color="#009fff"/><stop offset="0.857" stop-color="#001bff"/><stop offset="0.929" stop-color="#00f"/><stop offset="1" stop-color="#00f"/></linearGradient><linearGradient id="r113"><stop offset="0" stop-color="#ffb400"/><stop offset="0.0714" stop-color="#ffd000"/><stop offset="0.143" stop-color="#ffef00"/><stop offset="0.214" stop-color="#e4ff00"/><stop offset="0.286" stop-color="#a9ff00"/><stop offset="0.357" stop-color="#67ff00"/><stop offset="0.429" stop-color="#1eff00"/><stop offset="0.5" stop-color="#00ff25"/><stop offset="0.571" stop-color="#00ff65"/><stop offset="0.643" stop-color="#00ffa9"/><stop offset="0.714" stop-color="#00fff6"/><stop offset="0.786" stop-color="#0093ff"/><stop offset="0.857" stop-color="#000eff"/><stop offset="0.929" stop-color="#00f"/><stop offset="1" stop-color="#00f"/></linearGradient><linearGradient id="r114"><stop offset="0" stop-color="#ffb500"/><stop offset="0.0714" stop-color="#ffd100"/><stop offset="0.143" stop-color="#fff100"/><stop offset="0.214" stop-color="#e0ff00"/><stop offset="0.286" stop-color="#a4ff00"/><stop offset="0.357" stop-color="#61ff00"/><stop offset="0.429" stop-color="#18ff00"/><stop offset="0.5" stop-color="#00ff2c"/><stop offset="0.571" stop-color="#00ff6c"/><stop offset="0.643" stop-color="#00ffb0"/><stop offset="0.714" stop-color="#0ff"/><stop offset="0.786" stop-color="#08f"/><stop offset="0.857" stop-color="#0001ff"/><stop offset="0.929" stop-color="#00f"/><stop offset="1" stop-color="#00f"/></linearGradient><linearGradient id="r115"><stop offset="0" stop-color="#ffb600"/><stop offset="0.0714" stop-color="#ffd300"/><stop offset="0.143" stop-color="#fff300"/><stop offset="0.214" stop-color="#dcff00"/><stop offset="0.286" stop-color="#9fff00"/><stop offset="0.357" stop-color="#5bff00"/><stop offset="0.429" stop-color="#10ff00"/><stop offset="0.5" stop-color="#00ff32"/><stop offset="0.571" stop-color="#00ff73"/><stop offset="0.643" stop-color="#00ffb8"/><stop offset="0.714" stop-color="#00f5ff"/><stop offset="0.786" stop-color="#007cff"/><stop offset="0.857" stop-color="#00f"/><stop offset="0.929" stop-color="#00f"/><stop offset="1" stop-color="#00f"/></linearGradient><linearGradient id="r116"><stop offset="0" stop-color="#ffb700"/><stop offset="0.0714" stop-color="#ffd500"/><stop offset="0.143" stop-color="#fff500"/><stop offset="0.214" stop-color="#d8ff00"/><stop offset="0.286" stop-color="#9aff00"/><stop offset="0.357" stop-color="#5f0"/><stop offset="0.429" stop-color="#09ff00"/><stop offset="0.5" stop-color="#00ff38"/><stop offset="0.571" stop-color="#00ff7a"/><stop offset="0.643" stop-color="#00ffc0"/><stop offset="0.714" stop-color="#00eaff"/><stop offset="0.786" stop-color="#0070ff"/><stop offset="0.857" stop-color="#00f"/><stop offset="0.929" stop-color="#00f"/><stop offset="1" stop-color="#00f"/></linearGradient><linearGradient id="r117"><stop offset="0" stop-color="#ffb800"/><stop offset="0.0714" stop-color="#ffd700"/><stop offset="0.143" stop-color="#fff800"/><stop offset="0.214" stop-color="#d3ff00"/><stop offset="0.286" stop-color="#95ff00"/><stop offset="0.357" stop-color="#4fff00"/><stop offset="0.429" stop-color="#01ff00"/><stop offset="0.5" stop-color="#00ff3f"/><stop offset="0.571" stop-color="#00ff82"/><stop offset="0.643" stop-color="#00ffc8"/><stop offset="0.714" stop-color="#00dfff"/><stop offset="0.786" stop-color="#0064ff"/><stop offset="0.857" stop-color="#00f"/><stop offset="0.929" stop-color="#00f"/><stop offset="1" stop-color="#00f"/></linearGradient><linearGradient id="r118"><stop offset="0" stop-color="#ffba00"/><stop offset="0.0714" stop-color="#ffd900"/><stop offset="0.143" stop-color="#fffb00"/><stop offset="0.214" stop-color="#cfff00"/><stop offset="0.286" stop-color="#8fff00"/><stop offset="0.357" stop-color="#48ff00"/><stop offset="0.429" stop-color="#00ff05"/><stop offset="0.5" stop-color="#00ff46"/><stop offset="0.571" stop-color="#00ff89"/><stop offset="0.643" stop-color="#00ffd0"/><stop offset="0.714" stop-color="#00d3ff"/><stop offset="0.786" stop-color="#0058ff"/><stop offset="0.857" stop-color="#00f"/><stop offset="0.929" stop-color="#00f"/><stop offset="1" stop-color="#00f"/></linearGradient><linearGradient id="r119"><stop offset="0" stop-color="#fb0"/><stop offset="0.0714" stop-color="#ffdb00"/><stop offset="0.143" stop-color="#fffe00"/><stop offset="0.214" stop-color="#caff00"/><stop offset="0.286" stop-color="#89ff00"/><stop offset="0.357" stop-color="#41ff00"/><stop offset="0.429" stop-color="#00ff0b"/><stop offset="0.5" stop-color="#00ff4d"/><stop offset="0.571" stop-color="#00ff91"/><stop offset="0.643" stop-color="#00ffd9"/><stop offset="0.714" stop-color="#00c8ff"/><stop offset="0.786" stop-color="#004cff"/><stop offset="0.857" stop-color="#00f"/><stop offset="0.929" stop-color="#00f"/><stop offset="1" stop-color="#00f"/></linearGradient><linearGradient id="r120"><stop offset="0" stop-color="#ffbd00"/><stop offset="0.0714" stop-color="#ffde00"/><stop offset="0.143" stop-color="#fcff00"/><stop offset="0.214" stop-color="#c5ff00"/><stop offset="0.286" stop-color="#83ff00"/><stop offset="0.357" stop-color="#3aff00"/><stop offset="0.429" stop-color="#00ff12"/><stop offset="0.5" stop-color="#0f5"/><stop offset="0.571" stop-color="#0f9"/><stop offset="0.643" stop-color="#00ffe2"/><stop offset="0.714" stop-color="#00bcff"/><stop offset="0.786" stop-color="#0040ff"/><stop offset="0.857" stop-color="#00f"/><stop offset="0.929" stop-color="#00f"/><stop offset="1" stop-color="#00f"/></linearGradient><linearGradient id="r121"><stop offset="0" stop-color="#ffbf00"/><stop offset="0.0714" stop-color="#ffe000"/><stop offset="0.143" stop-color="#f8ff00"/><stop offset="0.214" stop-color="#bfff00"/><stop offset="0.286" stop-color="#7dff00"/><stop offset="0.357" stop-color="#32ff00"/><stop offset="0.429" stop-color="#00ff18"/><stop offset="0.5" stop-color="#00ff5c"/><stop offset="0.571" stop-color="#00ffa2"/><stop offset="0.643" stop-color="#00ffeb"/><stop offset="0.714" stop-color="#00b0ff"/><stop offset="0.786" stop-color="#03f"/><stop offset="0.857" stop-color="#00f"/><stop offset="0.929" stop-color="#00f"/><stop offset="1" stop-color="#00f"/></linearGradient><linearGradient id="r122"><stop offset="0" stop-color="#ffc100"/><stop offset="0.0714" stop-color="#ffe300"/><stop offset="0.143" stop-color="#f3ff00"/><stop offset="0.214" stop-color="#baff00"/><stop offset="0.286" stop-color="#76ff00"/><stop offset="0.357" stop-color="#2bff00"/><stop offset="0.429" stop-color="#00ff1f"/><stop offset="0.5" stop-color="#00ff64"/><stop offset="0.571" stop-color="#0fa"/><stop offset="0.643" stop-color="#00fff4"/><stop offset="0.714" stop-color="#00a4ff"/><stop offset="0.786" stop-color="#0027ff"/><stop offset="0.857" stop-color="#00f"/><stop offset="0.929" stop-color="#00f"/><stop offset="1" stop-color="#00f"/></linearGradient><linearGradient id="r123"><stop offset="0" stop-color="#ffc300"/><stop offset="0.0714" stop-color="#ffe600"/><stop offset="0.143" stop-color="#ef0"/><stop offset="0.214" stop-color="#b4ff00"/><stop offset="0.286" stop-color="#6fff00"/><stop offset="0.357" stop-color="#23ff00"/><stop offset="0.429" stop-color="#00ff26"/><stop offset="0.5" stop-color="#00ff6c"/><stop offset="0.571" stop-color="#00ffb3"/><stop offset="0.643" stop-color="#00fffe"/><stop offset="0.714" stop-color="#0097ff"/><stop offset="0.786" stop-color="#001aff"/><stop offset="0.857" stop-color="#00f"/><stop offset="0.929" stop-color="#00f"/><stop offset="1" stop-color="#00f"/></linearGradient><linearGradient id="r124"><stop offset="0" stop-color="#ffc500"/><stop offset="0.0714" stop-color="#ffe900"/><stop offset="0.143" stop-color="#e8ff00"/><stop offset="0.214" stop-color="#adff00"/><stop offset="0.286" stop-color="#68ff00"/><stop offset="0.357" stop-color="#1bff00"/><stop offset="0.429" stop-color="#00ff2d"/><stop offset="0.5" stop-color="#00ff74"/><stop offset="0.571" stop-color="#00ffbc"/><stop offset="0.643" stop-color="#00f5ff"/><stop offset="0.714" stop-color="#008aff"/><stop offset="0.786" stop-color="#000dff"/><stop offset="0.857" stop-color="#00f"/><stop offset="0.929" stop-color="#00f"/><stop offset="1" stop-color="#00f"/></linearGradient><linearGradient id="r125"><stop offset="0" stop-color="#ffc800"/><stop offset="0.0714" stop-color="#ffed00"/><stop offset="0.143" stop-color="#e2ff00"/><stop offset="0.214" stop-color="#a7ff00"/><stop offset="0.286" stop-color="#61ff00"/><stop offset="0.357" stop-color="#12ff00"/><stop offset="0.429" stop-color="#00ff34"/><stop offset="0.5" stop-color="#00ff7c"/><stop offset="0.571" stop-color="#00ffc5"/><stop offset="0.643" stop-color="#00e8ff"/><stop offset="0.714" stop-color="#007dff"/><stop offset="0.786" stop-color="#00f"/><stop offset="0.857" stop-color="#00f"/><stop offset="0.929" stop-color="#00f"/><stop offset="1" stop-color="#00f"/></linearGradient><linearGradient id="r126"><stop offset="0" stop-color="#ffcb00"/><stop offset="0.0714" stop-color="#fff000"/><stop offset="0.143" stop-color="#df0"/><stop offset="0.214" stop-color="#a0ff00"/><stop offset="0.286" stop-color="#59ff00"/><stop offset="0.357" stop-color="#0aff00"/><stop offset="0.429" stop-color="#00ff3c"/><stop offset="0.5" stop-color="#00ff84"/><stop offset="0.571" stop-color="#00ffce"/><stop offset="0.643" stop-color="#00dcff"/><stop offset="0.714" stop-color="#0070ff"/><stop offset="0.786" stop-color="#00f"/><stop offset="0.857" stop-color="#00f"/><stop offset="0.929" stop-color="#00f"/><stop offset="1" stop-color="#00f"/></linearGradient><linearGradient id="r127"><stop offset="0" stop-color="#ffcd00"/><stop offset="0.0714" stop-color="#fff400"/><stop offset="0.143" stop-color="#d6ff00"/><stop offset="0.214" stop-color="#9f0"/><stop offset="0.286" stop-color="#52ff00"/><stop offset="0.357" stop-color="#01ff00"/><stop offset="0.429" stop-color="#00ff43"/><stop offset="0.5" stop-color="#00ff8d"/><stop offset="0.571" stop-color="#00ffd8"/><stop offset="0.643" stop-color="#00cfff"/><stop offset="0.714" stop-color="#0063ff"/><stop offset="0.786" stop-color="#00f"/><stop offset="0.857" stop-color="#00f"/><stop offset="0.929" stop-color="#00f"/><stop offset="1" stop-color="#00f"/></linearGradient><linearGradient id="r128"><stop offset="0" stop-color="#ffd000"/><stop offset="0.0714" stop-color="#fff700"/><stop offset="0.143" stop-color="#d0ff00"/><stop offset="0.214" stop-color="#92ff00"/><stop offset="0.286" stop-color="#4aff00"/><stop offset="0.357" stop-color="#00ff06"/><stop offset="0.429" stop-color="#00ff4b"/><stop offset="0.5" stop-color="#00ff96"/><stop offset="0.571" stop-color="#00ffe1"/><stop offset="0.643" stop-color="#00c2ff"/><stop offset="0.714" stop-color="#05f"/><stop offset="0.786" stop-color="#00f"/><stop offset="0.857" stop-color="#00f"/><stop offset="0.929" stop-color="#00f"/><stop offset="1" stop-color="#00f"/></linearGradient><linearGradient id="r129"><stop offset="0" stop-color="#ffd300"/><stop offset="0.0714" stop-color="#fffb00"/><stop offset="0.143" stop-color="#c9ff00"/><stop offset="0.214" stop-color="#8aff00"/><stop offset="0.286" stop-color="#41ff00"/><stop offset="0.357" stop-color="#00ff0d"/><stop offset="0.429" stop-color="#00ff53"/><stop offset="0.5" stop-color="#00ff9e"/><stop offset="0.571" stop-color="#00ffeb"/><stop offset="0.643" stop-color="#00b5ff"/><stop offset="0.714" stop-color="#0047ff"/><stop offset="0.786" stop-color="#00f"/><stop offset="0.857" stop-color="#00f"/><stop offset="0.929" stop-color="#00f"/><stop offset="1" stop-color="#00f"/></linearGradient><linearGradient id="r130"><stop offset="0" stop-color="#ffd700"/><stop offset="0.0714" stop-color="#ff0"/><stop offset="0.143" stop-color="#c3ff00"/><stop offset="0.214" stop-color="#83ff00"/><stop offset="0.286" stop-color="#39ff00"/><stop offset="0.357" stop-color="#00ff14"/><stop offset="0.429" stop-color="#00ff5b"/><stop offset="0.5" stop-color="#00ffa7"/><stop offset="0.571" stop-color="#00fff5"/><stop offset="0.643" stop-color="#00a7ff"/><stop offset="0.714" stop-color="#0039ff"/><stop offset="0.786" stop-color="#00f"/><stop offset="0.857" stop-color="#00f"/><stop offset="0.929" stop-color="#00f"/><stop offset="1" stop-color="#00f"/></linearGradient><linearGradient id="r131"><stop offset="0" stop-color="#ffda00"/><stop offset="0.0714" stop-color="#f9ff00"/><stop offset="0.143" stop-color="#bcff00"/><stop offset="0.214" stop-color="#7bff00"/><stop offset="0.286" stop-color="#30ff00"/><stop offset="0.357" stop-color="#00ff1c"/><stop offset="0.429" stop-color="#00ff63"/><stop offset="0.5" stop-color="#00ffb0"/><stop offset="0.571" stop-color="#0ff"/><stop offset="0.643" stop-color="#009aff"/><stop offset="0.714" stop-color="#002bff"/><stop offset="0.786" stop-color="#00f"/><stop offset="0.857" stop-color="#00f"/><stop offset="0.929" stop-color="#00f"/><stop offset="1" stop-color="#00f"/></linearGradient><linearGradient id="r132"><stop offset="0" stop-color="#ffde00"/><stop offset="0.0714" stop-color="#f3ff00"/><stop offset="0.143" stop-color="#b5ff00"/><stop offset="0.214" stop-color="#72ff00"/><stop offset="0.286" stop-color="#27ff00"/><stop offset="0.357" stop-color="#00ff23"/><stop offset="0.429" stop-color="#00ff6c"/><stop offset="0.5" stop-color="#00ffba"/><stop offset="0.571" stop-color="#00f2ff"/><stop offset="0.643" stop-color="#008cff"/><stop offset="0.714" stop-color="#001cff"/><stop offset="0.786" stop-color="#00f"/><stop offset="0.857" stop-color="#00f"/><stop offset="0.929" stop-color="#00f"/><stop offset="1" stop-color="#00f"/></linearGradient><linearGradient id="r133"><stop offset="0" stop-color="#ffe000"/><stop offset="0.0714" stop-color="#ef0"/><stop offset="0.143" stop-color="#afff00"/><stop offset="0.214" stop-color="#6cff00"/><stop offset="0.286" stop-color="#20ff00"/><stop offset="0.357" stop-color="#00ff29"/><stop offset="0.429" stop-color="#00ff72"/><stop offset="0.5" stop-color="#00ffc1"/><stop offset="0.571" stop-color="#00e9ff"/><stop offset="0.643" stop-color="#0082ff"/><stop offset="0.714" stop-color="#01f"/><stop offset="0.786" stop-color="#00f"/><stop offset="0.857" stop-color="#00f"/><stop offset="0.929" stop-color="#00f"/><stop offset="1" stop-color="#00f"/></linearGradient></defs><g shape-rendering="crispEdges"><rect x="46.5" y="17.0" width="269.0" height="2.05" fill="url(#r0)"/><rect x="46.5" y="19.0" width="269.0" height="2.05" fill="url(#r1)"/><rect x="46.5" y="21.0" width="269.0" height="2.05" fill="url(#r2)"/><rect x="46.5" y="23.0" width="269.0" height="2.05" fill="url(#r3)"/><rect x="46.5" y="25.0" width="269.0" height="2.05" fill="url(#r4)"/><rect x="46.5" y="27.0" width="269.0" height="2.05" fill="url(#r5)"/><rect x="46.5" y="29.0" width="269.0" height="2.05" fill="url(#r6)"/><rect x="46.5" y="31.0" width="269.0" height="2.05" fill="url(#r7)"/><rect x="46.5" y="33.0" width="269.0" height="2.05" fill="url(#r8)"/><rect x="46.5" y="35.0" width="269.0" height="2.05" fill="url(#r9)"/><rect x="46.5" y="37.0" width="269.0" height="2.05" fill="url(#r10)"/><rect x="46.5" y="39.0" width="269.0" height="2.05" fill="url(#r11)"/><rect x="46.5" y="41.0" width="269.0" height="2.05" fill="url(#r12)"/><rect x="46.5" y="43.0" width="269.0" height="2.05" fill="url(#r13)"/><rect x="46.5" y="45.0" width="269.0" height="2.05" fill="url(#r14)"/><rect x="46.5" y="47.0" width="269.0" height="2.05" fill="url(#r15)"/><rect x="46.5" y="49.0" width="269.0" height="2.05" fill="url(#r16)"/><rect x="46.5" y="51.0" width="269.0" height="2.05" fill="url(#r17)"/><rect x="46.5" y="53.0" width="269.0" height="2.05" fill="url(#r18)"/><rect x="46.5" y="55.0" width="269.0" height="2.05" fill="url(#r19)"/><rect x="46.5" y="57.0" width="269.0" height="2.05" fill="url(#r20)"/><rect x="46.5" y="59.0" width="269.0" height="2.05" fill="url(#r21)"/><rect x="46.5" y="61.0" width="269.0" height="2.05" fill="url(#r22)"/><rect x="46.5" y="63.0" width="269.0" height="2.05" fill="url(#r23)"/><rect x="46.5" y="65.0" width="269.0" height="2.05" fill="url(#r24)"/><rect x="46.5" y="67.0" width="269.0" height="2.05" fill="url(#r25)"/><rect x="46.5" y="69.0" width="269.0" height="2.05" fill="url(#r26)"/><rect x="46.5" y="71.0" width="269.0" height="2.05" fill="url(#r27)"/><rect x="46.5" y="73.0" width="269.0" height="2.05" fill="url(#r28)"/><rect x="46.5" y="75.0" width="269.0" height="2.05" fill="url(#r29)"/><rect x="46.5" y="77.0" width="269.0" height="2.05" fill="url(#r30)"/><rect x="46.5" y="79.0" width="269.0" height="2.05" fill="url(#r31)"/><rect x="46.5" y="81.0" width="269.0" height="2.05" fill="url(#r32)"/><rect x="46.5" y="83.0" width="269.0" height="2.05" fill="url(#r33)"/><rect x="46.5" y="85.0" width="269.0" height="2.05" fill="url(#r34)"/><rect x="46.5" y="87.0" width="269.0" height="2.05" fill="url(#r35)"/><rect x="46.5" y="89.0" width="269.0" height="2.05" fill="url(#r36)"/><rect x="46.5" y="91.0" width="269.0" height="2.05" fill="url(#r37)"/><rect x="46.5" y="93.0" width="269.0" height="2.05" fill="url(#r38)"/><rect x="46.5" y="95.0" width="269.0" height="2.05" fill="url(#r39)"/><rect x="46.5" y="97.0" width="269.0" height="2.05" fill="url(#r40)"/><rect x="46.5" y="99.0" width="269.0" height="2.05" fill="url(#r41)"/><rect x="46.5" y="101.0" width="269.0" height="2.05" fill="url(#r42)"/><rect x="46.5" y="103.0" width="269.0" height="2.05" fill="url(#r43)"/><rect x="46.5" y="105.0" width="269.0" height="2.05" fill="url(#r44)"/><rect x="46.5" y="107.0" width="269.0" height="2.05" fill="url(#r45)"/><rect x="46.5" y="109.0" width="269.0" height="2.05" fill="url(#r46)"/><rect x="46.5" y="111.0" width="269.0" height="2.05" fill="url(#r47)"/><rect x="46.5" y="113.0" width="269.0" height="2.05" fill="url(#r48)"/><rect x="46.5" y="115.0" width="269.0" height="2.05" fill="url(#r49)"/><rect x="46.5" y="117.0" width="269.0" height="2.05" fill="url(#r50)"/><rect x="46.5" y="119.0" width="269.0" height="2.05" fill="url(#r51)"/><rect x="46.5" y="121.0" width="269.0" height="2.05" fill="url(#r52)"/><rect x="46.5" y="123.0" width="269.0" height="2.05" fill="url(#r53)"/><rect x="46.5" y="125.0" width="269.0" height="2.05" fill="url(#r54)"/><rect x="46.5" y="127.0" width="269.0" height="2.05" fill="url(#r55)"/><rect x="46.5" y="129.0" width="269.0" height="2.05" fill="url(#r56)"/><rect x="46.5" y="131.0" width="269.0" height="2.05" fill="url(#r57)"/><rect x="46.5" y="133.0" width="269.0" height="2.05" fill="url(#r58)"/><rect x="46.5" y="135.0" width="269.0" height="2.05" fill="url(#r59)"/><rect x="46.5" y="137.0" width="269.0" height="2.05" fill="url(#r60)"/><rect x="46.5" y="139.0" width="269.0" height="2.05" fill="url(#r61)"/><rect x="46.5" y="141.0" width="269.0" height="2.05" fill="url(#r62)"/><rect x="46.5" y="143.0" width="269.0" height="2.05" fill="url(#r63)"/><rect x="46.5" y="145.0" width="269.0" height="2.05" fill="url(#r64)"/><rect x="46.5" y="147.0" width="269.0" height="2.05" fill="url(#r65)"/><rect x="46.5" y="149.0" width="269.0" height="2.05" fill="url(#r66)"/><rect x="46.5" y="151.0" width="269.0" height="2.05" fill="url(#r67)"/><rect x="46.5" y="153.0" width="269.0" height="2.05" fill="url(#r68)"/><rect x="46.5" y="155.0" width="269.0" height="2.05" fill="url(#r69)"/><rect x="46.5" y="157.0" width="269.0" height="2.05" fill="url(#r70)"/><rect x="46.5" y="159.0" width="269.0" height="2.05" fill="url(#r71)"/><rect x="46.5" y="161.0" width="269.0" height="2.05" fill="url(#r72)"/><rect x="46.5" y="163.0" width="269.0" height="2.05" fill="url(#r73)"/><rect x="46.5" y="165.0" width="269.0" height="2.05" fill="url(#r74)"/><rect x="46.5" y="167.0" width="269.0" height="2.05" fill="url(#r75)"/><rect x="46.5" y="169.0" width="269.0" height="2.05" fill="url(#r76)"/><rect x="46.5" y="171.0" width="269.0" height="2.05" fill="url(#r77)"/><rect x="46.5" y="173.0" width="269.0" height="2.05" fill="url(#r78)"/><rect x="46.5" y="175.0" width="269.0" height="2.05" fill="url(#r79)"/><rect x="46.5" y="177.0" width="269.0" height="2.05" fill="url(#r80)"/><rect x="46.5" y="179.0" width="269.0" height="2.05" fill="url(#r81)"/><rect x="46.5" y="181.0" width="269.0" height="2.05" fill="url(#r82)"/><rect x="46.5" y="183.0" width="269.0" height="2.05" fill="url(#r83)"/><rect x="46.5" y="185.0" width="269.0" height="2.05" fill="url(#r84)"/><rect x="46.5" y="187.0" width="269.0" height="2.05" fill="url(#r85)"/><rect x="46.5" y="189.0" width="269.0" height="2.05" fill="url(#r86)"/><rect x="46.5" y="191.0" width="269.0" height="2.05" fill="url(#r87)"/><rect x="46.5" y="193.0" width="269.0" height="2.05" fill="url(#r88)"/><rect x="46.5" y="195.0" width="269.0" height="2.05" fill="url(#r89)"/><rect x="46.5" y="197.0" width="269.0" height="2.05" fill="url(#r90)"/><rect x="46.5" y="199.0" width="269.0" height="2.05" fill="url(#r91)"/><rect x="46.5" y="201.0" width="269.0" height="2.05" fill="url(#r92)"/><rect x="46.5" y="203.0" width="269.0" height="2.05" fill="url(#r93)"/><rect x="46.5" y="205.0" width="269.0" height="2.05" fill="url(#r94)"/><rect x="46.5" y="207.0" width="269.0" height="2.05" fill="url(#r95)"/><rect x="46.5" y="209.0" width="269.0" height="2.05" fill="url(#r96)"/><rect x="46.5" y="211.0" width="269.0" height="2.05" fill="url(#r97)"/><rect x="46.5" y="213.0" width="269.0" height="2.05" fill="url(#r98)"/><rect x="46.5" y="215.0" width="269.0" height="2.05" fill="url(#r99)"/><rect x="46.5" y="217.0" width="269.0" height="2.05" fill="url(#r100)"/><rect x="46.5" y="219.0" width="269.0" height="2.05" fill="url(#r101)"/><rect x="46.5" y="221.0" width="269.0" height="2.05" fill="url(#r102)"/><rect x="46.5" y="223.0" width="269.0" height="2.05" fill="url(#r103)"/><rect x="46.5" y="225.0" width="269.0" height="2.05" fill="url(#r104)"/><rect x="46.5" y="227.0" width="269.0" height="2.05" fill="url(#r105)"/><rect x="46.5" y="229.0" width="269.0" height="2.05" fill="url(#r106)"/><rect x="46.5" y="231.0" width="269.0" height="2.05" fill="url(#r107)"/><rect x="46.5" y="233.0" width="269.0" height="2.05" fill="url(#r108)"/><rect x="46.5" y="235.0" width="269.0" height="2.05" fill="url(#r109)"/><rect x="46.5" y="237.0" width="269.0" height="2.05" fill="url(#r110)"/><rect x="46.5" y="239.0" width="269.0" height="2.05" fill="url(#r111)"/><rect x="46.5" y="241.0" width="269.0" height="2.05" fill="url(#r112)"/><rect x="46.5" y="243.0" width="269.0" height="2.05" fill="url(#r113)"/><rect x="46.5" y="245.0" width="269.0" height="2.05" fill="url(#r114)"/><rect x="46.5" y="247.0" width="269.0" height="2.05" fill="url(#r115)"/><rect x="46.5" y="249.0" width="269.0" height="2.05" fill="url(#r116)"/><rect x="46.5" y="251.0" width="269.0" height="2.05" fill="url(#r117)"/><rect x="46.5" y="253.0" width="269.0" height="2.05" fill="url(#r118)"/><rect x="46.5" y="255.0" width="269.0" height="2.05" fill="url(#r119)"/><rect x="46.5" y="257.0" width="269.0" height="2.05" fill="url(#r120)"/><rect x="46.5" y="259.0" width="269.0" height="2.05" fill="url(#r121)"/><rect x="46.5" y="261.0" width="269.0" height="2.05" fill="url(#r122)"/><rect x="46.5" y="263.0" width="269.0" height="2.05" fill="url(#r123)"/><rect x="46.5" y="265.0" width="269.0" height="2.05" fill="url(#r124)"/><rect x="46.5" y="267.0" width="269.0" height="2.05" fill="url(#r125)"/><rect x="46.5" y="269.0" width="269.0" height="2.05" fill="url(#r126)"/><rect x="46.5" y="271.0" width="269.0" height="2.05" fill="url(#r127)"/><rect x="46.5" y="273.0" width="269.0" height="2.05" fill="url(#r128)"/><rect x="46.5" y="275.0" width="269.0" height="2.05" fill="url(#r129)"/><rect x="46.5" y="277.0" width="269.0" height="2.05" fill="url(#r130)"/><rect x="46.5" y="279.0" width="269.0" height="2.05" fill="url(#r131)"/><rect x="46.5" y="281.0" width="269.0" height="2.05" fill="url(#r132)"/><rect x="46.5" y="283.0" width="269.0" height="1.05" fill="url(#r133)"/></g><path d="M264.9,284.0 L266.2,282.7 L267.4,281.5 L269.9,278.9 L270.7,278.1 L272.2,276.4 L274.5,273.8 L275.1,273.1 L276.7,271.3 L279.0,268.7 L279.6,268.0 L281.2,266.2 L283.5,263.7 L284.1,263.0 L285.9,261.1 L288.4,258.6 L288.6,258.3 L291.0,256.0 L293.1,254.1 L293.8,253.5 L296.7,250.9 L297.6,250.2 L299.8,248.4 L302.0,246.5 L302.8,245.9 L305.9,243.3 L306.5,242.8 L308.9,240.8 L311.0,238.9 L311.7,238.2 L314.4,235.7 L315.5,234.6" fill="none" stroke="#111" stroke-width="1"/><path d="M188.4,284.0 L190.0,282.7 L191.4,281.5 L194.4,278.9 L194.5,278.9 L197.5,276.4 L198.9,275.2 L200.6,273.8 L203.4,271.5 L203.7,271.3 L206.8,268.7 L207.9,267.8 L209.8,266.2 L212.4,264.1 L212.9,263.7 L215.9,261.1 L216.9,260.3 L218.8,258.6 L221.3,256.3 L221.7,256.0 L224.4,253.5 L225.8,252.1 L227.1,250.9 L229.7,248.4 L230.3,247.7 L232.1,245.9 L234.6,243.3 L234.8,243.1 L236.9,240.8 L239.1,238.2 L239.3,238.1 L241.3,235.7 L243.4,233.1 L243.8,232.7 L245.5,230.6 L247.5,228.1 L248.2,227.1 L249.5,225.5 L251.4,223.0 L252.7,221.2 L253.3,220.4 L255.1,217.9 L257.0,215.3 L257.2,215.0 L258.7,212.8 L260.4,210.3 L261.7,208.3 L262.1,207.7 L263.7,205.2 L265.2,202.6 L266.2,201.0 L266.7,200.1 L268.1,197.5 L269.5,195.0 L270.7,192.7 L270.8,192.5 L272.1,189.9 L273.3,187.4 L274.5,184.8 L275.1,183.5 L275.7,182.3 L276.9,179.7 L278.0,177.2 L279.2,174.7 L279.6,173.7 L280.4,172.1 L281.5,169.6 L282.7,167.0 L283.8,164.5 L284.1,163.8 L284.9,161.9 L286.0,159.4 L287.1,156.9 L288.1,154.3 L288.6,152.9 L289.0,151.8 L289.9,149.2 L290.6,146.7 L291.3,144.1 L291.9,141.6 L292.4,139.1 L292.7,136.5 L293.0,134.0 L293.1,133.0 L293.2,131.4 L293.3,128.9 L293.3,126.3 L293.3,123.8 L293.2,121.3 L293.1,120.0 L293.0,118.7 L292.8,116.2 L292.5,113.6 L292.2,111.1 L291.9,108.5 L291.4,106.0 L290.9,103.5 L290.4,100.9 L289.7,98.4 L288.9,95.8 L288.6,94.9 L288.0,93.3 L286.9,90.7 L285.7,88.2 L284.3,85.7 L284.1,85.4 L282.5,83.1 L280.6,80.6 L279.6,79.5 L278.2,78.0 L275.7,75.5 L275.1,75.0 L272.7,72.9 L270.7,71.3 L269.4,70.4 L266.2,68.1 L265.8,67.9 L261.7,65.3 L261.7,65.3 L257.2,62.8 L257.2,62.8 L252.7,60.5 L252.1,60.2 L248.2,58.6 L246.3,57.7 L243.8,56.7 L240.1,55.1 L239.3,54.8 L234.8,53.3 L232.6,52.6 L230.3,52.0 L225.8,50.7 L223.5,50.1 L221.3,49.6 L216.9,48.7 L212.4,47.7 L211.2,47.5 L207.9,47.1 L203.4,46.6 L198.9,46.1 L194.5,45.7 L190.0,45.3 L185.5,45.1 L181.0,45.0 L176.5,45.0 L172.0,45.2 L167.6,45.4 L163.1,45.7 L158.6,45.9 L154.1,46.2 L149.6,46.5 L145.1,46.8 L140.6,47.0 L136.2,47.3 L133.4,47.5 L131.7,47.7 L127.2,48.3 L122.7,48.8 L118.2,49.3 L113.8,49.7 L110.4,50.1 L109.3,50.2 L104.8,51.0 L100.3,51.8 L95.8,52.4 L94.6,52.6 L91.3,53.4 L86.8,54.4 L83.2,55.1 L82.4,55.4 L77.9,56.8 L74.5,57.7 L73.4,58.0 L68.9,59.6 L66.9,60.2 L64.4,61.2 L60.0,62.6 L59.4,62.8 L55.5,64.3 L51.7,65.3 L51.0,65.6 L46.5,67.1" fill="none" stroke="#111" stroke-width="1"/><path d="M83.0,284.0 L85.9,281.5 L86.8,280.6 L88.7,278.9 L91.3,276.5 L91.5,276.4 L94.2,273.8 L95.8,272.4 L96.9,271.3 L99.6,268.7 L100.3,268.0 L102.1,266.2 L104.5,263.7 L104.8,263.3 L106.8,261.1 L109.0,258.6 L109.3,258.2 L111.1,256.0 L113.1,253.5 L113.8,252.7 L115.1,250.9 L117.0,248.4 L118.2,246.7 L118.8,245.9 L120.6,243.3 L122.3,240.8 L122.7,240.2 L124.0,238.2 L125.6,235.7 L127.2,233.2 L127.2,233.1 L128.7,230.6 L130.1,228.1 L131.4,225.5 L131.7,225.0 L132.7,223.0 L133.8,220.4 L134.9,217.9 L135.8,215.3 L136.2,214.4 L136.7,212.8 L137.5,210.3 L138.2,207.7 L138.8,205.2 L139.3,202.6 L139.7,200.1 L140.1,197.5 L140.3,195.0 L140.4,192.5 L140.5,189.9 L140.4,187.4 L140.1,184.8 L139.7,182.3 L139.2,179.7 L138.5,177.2 L137.6,174.7 L136.5,172.1 L136.2,171.4 L135.2,169.6 L133.6,167.0 L131.8,164.5 L131.7,164.4 L129.6,161.9 L127.2,159.6 L127.0,159.4 L123.9,156.9 L122.7,156.0 L120.2,154.3 L118.2,153.1 L115.8,151.8 L113.8,150.8 L110.2,149.2 L109.3,148.8 L104.8,147.3 L102.7,146.7 L100.3,146.1 L95.8,145.1 L91.3,144.4 L88.7,144.1 L86.8,144.0 L82.4,143.7 L77.9,143.5 L73.4,143.4 L68.9,143.5 L64.4,143.5 L60.0,143.7 L55.5,143.9 L51.0,144.1 L50.8,144.1 L46.5,144.5" fill="none" stroke="#111" stroke-width="1"/><rect x="282.2" y="80.2" width="8.6" height="6.6" fill="#fff" stroke="#222" stroke-width="0.7"/><text x="286.5" y="85.5" font-size="5.6" text-anchor="middle" font-family="Liberation Serif, serif" fill="#000">35</text><rect x="136.0" y="183.6" width="8.6" height="6.6" fill="#fff" stroke="#222" stroke-width="0.7"/><text x="140.3" y="188.9" font-size="5.6" text-anchor="middle" font-family="Liberation Serif, serif" fill="#000">40</text><rect x="287.7" y="252.4" width="8.6" height="6.6" fill="#fff" stroke="#222" stroke-width="0.7"/><text x="292.0" y="257.7" font-size="5.6" text-anchor="middle" font-family="Liberation Serif, serif" fill="#000">30</text><path d="M46,17 H316 M46,284.5 H316 M46.5,16.5 V285 M315.5,16.5 V285" fill="none" stroke="#55555c" stroke-width="1"/><line x1="40" y1="284.0" x2="46.5" y2="284.0" stroke="#333" stroke-width="1"/><text x="38.3" y="283.3" font-size="6.5" text-anchor="end" font-family="Liberation Serif, serif" fill="#222">5</text><line x1="40" y1="230.6" x2="46.5" y2="230.6" stroke="#333" stroke-width="1"/><text x="38.3" y="229.9" font-size="6.5" text-anchor="end" font-family="Liberation Serif, serif" fill="#222">12</text><line x1="40" y1="177.2" x2="46.5" y2="177.2" stroke="#333" stroke-width="1"/><text x="38.3" y="176.5" font-size="6.5" text-anchor="end" font-family="Liberation Serif, serif" fill="#222">19</text><line x1="40" y1="123.8" x2="46.5" y2="123.8" stroke="#333" stroke-width="1"/><text x="38.3" y="123.1" font-size="6.5" text-anchor="end" font-family="Liberation Serif, serif" fill="#222">26</text><line x1="40" y1="70.4" x2="46.5" y2="70.4" stroke="#333" stroke-width="1"/><text x="38.3" y="69.7" font-size="6.5" text-anchor="end" font-family="Liberation Serif, serif" fill="#222">33</text><line x1="40" y1="17.0" x2="46.5" y2="17.0" stroke="#333" stroke-width="1"/><text x="38.3" y="16.3" font-size="6.5" text-anchor="end" font-family="Liberation Serif, serif" fill="#222">40</text><line x1="46.5" y1="284.0" x2="46.5" y2="290" stroke="#333" stroke-width="1"/><text x="46.7" y="298.9" font-size="6.5" text-anchor="middle" font-family="Liberation Serif, serif" fill="#222">5</text><line x1="100.3" y1="284.0" x2="100.3" y2="290" stroke="#333" stroke-width="1"/><text x="100.5" y="298.9" font-size="6.5" text-anchor="middle" font-family="Liberation Serif, serif" fill="#222">7</text><line x1="154.1" y1="284.0" x2="154.1" y2="290" stroke="#333" stroke-width="1"/><text x="154.3" y="298.9" font-size="6.5" text-anchor="middle" font-family="Liberation Serif, serif" fill="#222">9</text><line x1="207.9" y1="284.0" x2="207.9" y2="290" stroke="#333" stroke-width="1"/><text x="208.1" y="298.9" font-size="6.5" text-anchor="middle" font-family="Liberation Serif, serif" fill="#222">11</text><line x1="261.7" y1="284.0" x2="261.7" y2="290" stroke="#333" stroke-width="1"/><text x="261.9" y="298.9" font-size="6.5" text-anchor="middle" font-family="Liberation Serif, serif" fill="#222">13</text><line x1="315.5" y1="284.0" x2="315.5" y2="290" stroke="#333" stroke-width="1"/><text x="315.7" y="298.9" font-size="6.5" text-anchor="middle" font-family="Liberation Serif, serif" fill="#222">15</text><circle cx="315.5" cy="17.0" r="2.6" fill="#c80000" stroke="#300" stroke-width="0.7"/><text x="312.3" y="23.3" font-size="5.6" text-anchor="end" font-family="Liberation Serif, serif" fill="#111">4</text><circle cx="315.5" cy="55.1" r="2.6" fill="#c80000" stroke="#300" stroke-width="0.7"/><text x="310.5" y="56.9" font-size="5.6" text-anchor="end" font-family="Liberation Serif, serif" fill="#111">3</text><circle cx="315.5" cy="93.3" r="2.6" fill="#c80000" stroke="#300" stroke-width="0.7"/><text x="310.5" y="95.1" font-size="5.6" text-anchor="end" font-family="Liberation Serif, serif" fill="#111">3</text><circle cx="315.5" cy="131.4" r="2.6" fill="#c80000" stroke="#300" stroke-width="0.7"/><text x="310.5" y="133.2" font-size="5.6" text-anchor="end" font-family="Liberation Serif, serif" fill="#111">3</text><circle cx="181.0" cy="93.3" r="2.6" fill="#c80000" stroke="#300" stroke-width="0.7"/><text x="176.0" y="95.1" font-size="5.6" text-anchor="end" font-family="Liberation Serif, serif" fill="#111">3</text><circle cx="181.0" cy="131.4" r="2.6" fill="#c80000" stroke="#300" stroke-width="0.7"/><text x="176.0" y="133.2" font-size="5.6" text-anchor="end" font-family="Liberation Serif, serif" fill="#111">4</text><circle cx="181.0" cy="169.6" r="2.6" fill="#c80000" stroke="#300" stroke-width="0.7"/><text x="176.0" y="171.4" font-size="5.6" text-anchor="end" font-family="Liberation Serif, serif" fill="#111">3</text><circle cx="181.0" cy="207.7" r="2.6" fill="#c80000" stroke="#300" stroke-width="0.7"/><text x="176.0" y="209.5" font-size="5.6" text-anchor="end" font-family="Liberation Serif, serif" fill="#111">3</text><circle cx="46.5" cy="169.6" r="2.6" fill="#c80000" stroke="#300" stroke-width="0.7"/><text x="51.7" y="171.4" font-size="5.6" text-anchor="start" font-family="Liberation Serif, serif" fill="#111">3</text><circle cx="46.5" cy="207.7" r="2.6" fill="#c80000" stroke="#300" stroke-width="0.7"/><text x="51.7" y="209.5" font-size="5.6" text-anchor="start" font-family="Liberation Serif, serif" fill="#111">4</text><circle cx="46.5" cy="245.9" r="2.6" fill="#c80000" stroke="#300" stroke-width="0.7"/><text x="51.7" y="247.7" font-size="5.6" text-anchor="start" font-family="Liberation Serif, serif" fill="#111">3</text><circle cx="46.5" cy="284.0" r="2.6" fill="#c80000" stroke="#300" stroke-width="0.7"/><text x="50.1" y="281.3" font-size="5.6" text-anchor="start" font-family="Liberation Serif, serif" fill="#111">4</text><text x="180.5" y="12.5" font-size="13" text-anchor="middle" font-family="Liberation Serif, serif">56D Compressive Strength (MPa)</text><text x="180.45" y="326.2" font-size="17" text-anchor="middle" font-family="Liberation Serif, serif">A: EMS (%)</text><text transform="translate(11.5,148.6) rotate(-90)" font-size="15.5" text-anchor="middle" textLength="84" lengthAdjust="spacingAndGlyphs" font-family="Liberation Serif, serif">B: RHA (%)</text><text x="205.5" y="352.4" font-size="17" text-anchor="middle" font-family="Liberation Serif, serif">(a)</text><line x1="422.4" y1="174.0" x2="413.5" y2="47.7" stroke="#000" stroke-width="0.9"/><line x1="450.0" y1="160.3" x2="443.4" y2="36.0" stroke="#000" stroke-width="0.9"/><line x1="477.7" y1="146.7" x2="473.2" y2="24.2" stroke="#000" stroke-width="0.9"/><line x1="505.3" y1="133.0" x2="503.1" y2="12.5" stroke="#000" stroke-width="0.9"/><line x1="394.7" y1="187.7" x2="533.0" y2="119.3" stroke="#000" stroke-width="0.9"/><line x1="391.9" y1="155.6" x2="533.0" y2="89.7" stroke="#000" stroke-width="0.9"/><line x1="389.1" y1="123.5" x2="533.0" y2="60.0" stroke="#000" stroke-width="0.9"/><line x1="386.4" y1="91.5" x2="533.0" y2="30.4" stroke="#000" stroke-width="0.9"/><line x1="383.6" y1="59.4" x2="533.0" y2="0.8" stroke="#000" stroke-width="0.9"/><line x1="560.0" y1="133.2" x2="562.1" y2="12.9" stroke="#000" stroke-width="0.9"/><line x1="587.0" y1="147.1" x2="591.3" y2="25.0" stroke="#000" stroke-width="0.9"/><line x1="614.0" y1="161.0" x2="620.4" y2="37.2" stroke="#000" stroke-width="0.9"/><line x1="641.0" y1="174.9" x2="649.6" y2="49.3" stroke="#000" stroke-width="0.9"/><line x1="533.0" y1="119.3" x2="668.0" y2="188.8" stroke="#000" stroke-width="0.9"/><line x1="533.0" y1="89.7" x2="670.7" y2="157.0" stroke="#000" stroke-width="0.9"/><line x1="533.0" y1="60.0" x2="673.4" y2="125.1" stroke="#000" stroke-width="0.9"/><line x1="533.0" y1="30.4" x2="676.0" y2="93.2" stroke="#000" stroke-width="0.9"/><line x1="533.0" y1="0.8" x2="678.7" y2="61.4" stroke="#000" stroke-width="0.9"/><line x1="397.9" y1="226.3" x2="383.6" y2="59.4" stroke="#000" stroke-width="0.9"/><line x1="533.0" y1="157.0" x2="533.0" y2="0.8" stroke="#000" stroke-width="0.9"/><line x1="664.6" y1="229.0" x2="678.7" y2="61.4" stroke="#000" stroke-width="0.9"/><polygon points="528.6,316.0 664.6,229.0 533.0,157.0 397.9,226.3" fill="#797979" stroke="#000" stroke-width="0.9"/><path d="M648.8,239.1 L648.9,237.5 L649.0,236.6 L649.0,236.0 L649.1,234.4 L649.1,233.9 L649.2,232.9 L649.3,231.3 L649.3,231.3 L649.3,229.8 L649.4,228.7 L649.4,228.3 L649.4,226.8 L649.4,226.0 L649.4,225.3 L649.4,223.8 L649.4,223.4 L649.4,222.3 L649.4,220.9 L649.4,220.7" fill="none" stroke="#1414e1" stroke-width="1.9"/><path d="M631.3,250.3 L631.5,248.7 L631.5,248.5 L631.6,247.1 L631.6,245.8 L631.6,245.5 L631.7,243.9 L631.8,243.2 L631.8,242.4 L631.8,240.9 L631.8,240.5 L631.9,239.3 L631.9,237.8 L631.9,237.8 L631.9,236.3 L631.9,235.1 L631.9,234.8 L631.9,233.3 L631.9,232.4 L631.9,231.8 L631.8,230.4 L631.8,229.6 L631.8,228.9 L631.7,227.5 L631.7,226.9 L631.6,226.0 L631.6,224.6 L631.5,224.1 L631.4,223.2 L631.3,221.8 L631.3,221.3 L631.2,220.4 L631.1,219.0 L631.0,218.5 L630.9,217.7 L630.7,216.3 L630.6,215.7 L630.5,215.0 L630.3,213.6 L630.2,212.8 L630.1,212.3 L629.9,211.0 L629.7,209.9" fill="none" stroke="#1414f0" stroke-width="1.9"/><path d="M413.3,218.4 L411.9,219.7 L410.3,221.3 L410.1,221.5 L408.7,222.9 L407.1,224.5 L407.0,224.6 L405.5,226.1 L404.0,227.6 L403.9,227.7 L402.4,229.4" fill="none" stroke="#1414f0" stroke-width="1.9"/><path d="M611.8,262.8 L611.8,262.0 L611.9,261.2 L612.0,259.6 L612.0,259.3 L612.1,258.0 L612.1,256.6 L612.2,256.4 L612.2,254.8 L612.2,253.8 L612.3,253.2 L612.3,251.7 L612.3,251.1 L612.3,250.2 L612.3,248.6 L612.3,248.3 L612.3,247.1 L612.3,245.6 L612.3,245.6 L612.2,244.1 L612.2,242.8 L612.2,242.6 L612.1,241.2 L612.0,239.9 L612.0,239.7 L611.9,238.3 L611.8,237.1 L611.8,236.9 L611.6,235.4 L611.5,234.2 L611.5,234.0 L611.3,232.6 L611.2,231.3 L611.2,231.3 L611.0,229.9 L610.8,228.5 L610.7,228.4 L610.5,227.2 L610.3,225.9 L610.2,225.4 L610.0,224.5 L609.8,223.2 L609.6,222.4 L609.5,221.9 L609.2,220.7 L608.9,219.4 L608.8,219.3 L608.5,218.1 L608.2,216.9 L608.0,216.2 L607.8,215.6 L607.4,214.4 L607.0,213.2 L606.9,213.0 L606.6,212.0 L606.1,210.8 L605.7,209.7 L605.7,209.7 L605.2,208.5 L604.7,207.3 L604.2,206.3 L604.2,206.2 L603.7,205.1 L603.1,204.0 L602.6,202.9 L602.4,202.7 L602.0,201.8 L601.4,200.7 L600.7,199.7 L600.3,198.9 L600.1,198.6 L599.4,197.6 L598.7,196.6 L598.0,195.6 L597.4,194.8 L597.3,194.6 L596.5,193.6 L595.7,192.7 L594.9,191.7 L594.1,190.8 L593.5,190.1" fill="none" stroke="#00b9f0" stroke-width="1.9"/><path d="M563.1,173.5 L563.1,173.5 L561.2,173.1 L559.3,172.8 L557.3,172.5 L556.6,172.4 L555.3,172.2 L553.1,172.0 L551.2,171.9 L550.9,171.8 L548.5,171.7 L546.5,171.7 L546.1,171.7 L543.5,171.7 L542.2,171.7 L540.7,171.8 L538.2,172.0 L537.8,172.0 L534.7,172.3 L534.4,172.3 L531.3,172.7 L530.8,172.7 L527.7,173.2 L527.4,173.3 L524.1,173.9 L523.7,173.9 L520.9,174.5 L519.3,174.9 L517.9,175.2 L514.9,176.0 L514.2,176.2 L512.0,176.8 L509.2,177.6 L508.2,177.9 L506.4,178.5 L503.7,179.4 L501.1,180.3 L500.5,180.6 L498.5,181.3 L495.9,182.3 L493.4,183.3 L491.0,184.4 L488.5,185.4 L487.0,186.2 L486.2,186.5 L483.8,187.7 L481.5,188.8 L479.3,189.9 L477.0,191.1 L474.8,192.3 L472.6,193.5 L470.6,194.6 L470.5,194.7 L468.3,196.0 L466.2,197.2 L464.1,198.5 L462.1,199.8 L460.1,201.1 L458.0,202.4 L457.0,203.1 L456.0,203.8 L454.1,205.1 L452.1,206.5 L450.2,207.9 L449.0,208.7 L448.3,209.2 L446.4,210.6 L444.5,212.1 L442.8,213.4 L442.7,213.5 L440.8,214.9 L439.0,216.4 L437.5,217.6 L437.2,217.9 L435.4,219.4 L433.7,220.9 L432.9,221.5 L431.9,222.4 L430.2,223.9 L428.7,225.2 L428.4,225.4 L426.7,227.0 L425.0,228.5 L424.9,228.7 L423.4,230.1 L421.7,231.7 L421.3,232.1 L420.1,233.3 L418.4,234.9 L418.0,235.3 L416.8,236.5 L415.2,238.2" fill="none" stroke="#00b9f0" stroke-width="1.9"/><path d="M589.0,277.4 L589.1,276.4 L589.1,275.7 L589.2,274.1 L589.2,273.6 L589.3,272.5 L589.4,270.9 L589.4,270.8 L589.4,269.2 L589.4,268.1 L589.5,267.7 L589.5,266.1 L589.5,265.3 L589.5,264.5 L589.4,263.0 L589.4,262.4 L589.4,261.5 L589.4,260.0 L589.3,259.6 L589.3,258.5 L589.2,257.0 L589.2,256.7 L589.1,255.5 L589.0,254.0 L588.9,253.8 L588.8,252.6 L588.7,251.2 L588.6,250.8 L588.5,249.8 L588.3,248.4 L588.2,247.8 L588.1,247.0 L587.8,245.6 L587.7,244.7 L587.6,244.2 L587.3,242.9 L587.1,241.6 L587.0,241.5 L586.7,240.2 L586.4,238.9 L586.3,238.4 L586.0,237.6 L585.7,236.4 L585.3,235.1 L585.3,235.1 L584.9,233.9 L584.5,232.6 L584.1,231.8 L584.0,231.4 L583.5,230.2 L583.0,229.0 L582.7,228.2 L582.5,227.8 L582.0,226.7 L581.4,225.5 L580.9,224.5 L580.8,224.4 L580.2,223.3 L579.6,222.2 L579.0,221.1 L578.5,220.5 L578.3,220.0 L577.6,219.0 L576.8,218.0 L576.1,217.0 L575.3,216.0 L575.3,215.9 L574.5,215.0 L573.6,214.0 L572.8,213.1 L571.9,212.1 L570.9,211.2 L570.0,210.4 L569.6,210.0 L569.0,209.5 L567.9,208.6 L566.8,207.8 L565.7,207.0 L564.6,206.2 L563.4,205.5 L562.2,204.7 L560.9,204.0 L559.6,203.4 L558.2,202.7 L556.8,202.1 L555.3,201.5 L553.9,201.0 L553.8,200.9 L552.2,200.4 L550.5,199.9 L548.7,199.5 L546.9,199.0 L545.7,198.8 L545.1,198.7 L543.1,198.4 L541.0,198.1 L539.9,198.0 L538.8,197.9 L536.5,197.7 L535.0,197.7 L534.0,197.7 L531.4,197.7 L530.6,197.7 L528.7,197.8 L526.6,197.9 L525.7,198.0 L522.9,198.3 L522.5,198.3 L519.4,198.7 L518.9,198.8 L516.1,199.3 L514.9,199.5 L512.9,200.0 L510.5,200.6 L509.8,200.7 L506.8,201.5 L505.2,202.0 L504.0,202.4 L501.2,203.2 L498.5,204.2 L498.4,204.2 L495.8,205.2 L493.2,206.2 L490.7,207.2 L488.2,208.3 L487.9,208.4 L485.8,209.4 L483.4,210.5 L481.0,211.7 L478.8,212.8 L476.5,214.1 L474.3,215.3 L472.1,216.5 L469.9,217.8 L467.8,219.1 L466.4,219.9 L465.7,220.4 L463.6,221.7 L461.6,223.1 L459.6,224.5 L457.6,225.8 L455.6,227.2 L455.6,227.2 L453.7,228.7 L451.8,230.1 L449.9,231.6 L448.7,232.4 L448.0,233.0 L446.1,234.5 L444.3,236.0 L443.2,236.9 L442.5,237.5 L440.7,239.1 L438.9,240.6 L438.5,241.0 L437.2,242.2 L435.4,243.7 L434.3,244.8 L433.7,245.3 L432.0,246.9 L430.6,248.4 L430.3,248.6" fill="none" stroke="#00e670" stroke-width="1.9"/><path d="M560.9,295.3 L561.1,293.6 L561.1,293.3 L561.2,292.0 L561.2,290.4 L561.2,290.3 L561.3,288.7 L561.3,287.6 L561.3,287.0 L561.3,285.4 L561.3,284.7 L561.3,283.9 L561.3,282.3 L561.3,281.8 L561.2,280.7 L561.2,279.2 L561.1,278.8 L561.1,277.7 L560.9,276.2 L560.9,275.8 L560.8,274.7 L560.6,273.2 L560.5,272.7 L560.4,271.8 L560.2,270.4 L560.1,269.6 L560.0,269.0 L559.7,267.6 L559.4,266.3 L559.4,266.2 L559.1,264.8 L558.7,263.5 L558.6,263.0 L558.4,262.2 L558.0,260.9 L557.6,259.6 L557.5,259.5 L557.1,258.3 L556.6,257.0 L556.1,255.9 L556.1,255.8 L555.6,254.6 L555.0,253.4 L554.4,252.2 L554.3,251.9 L553.8,251.1 L553.1,250.0 L552.5,248.8 L551.7,247.8 L551.5,247.5 L551.0,246.7 L550.2,245.7 L549.3,244.6 L548.5,243.6 L547.6,242.7 L546.6,241.7 L546.5,241.6 L545.6,240.8 L544.6,239.9 L543.5,239.0 L542.3,238.2 L541.2,237.4 L539.9,236.6 L538.6,235.9 L537.2,235.2 L535.8,234.5 L534.3,233.9 L533.6,233.7 L532.7,233.3 L531.0,232.8 L529.2,232.4 L527.4,231.9 L526.0,231.7 L525.4,231.6 L523.3,231.3 L521.0,231.1 L520.8,231.1 L518.6,231.0 L516.3,231.0 L515.9,231.0 L513.0,231.2 L512.4,231.3 L509.8,231.5 L508.7,231.7 L506.2,232.1 L505.3,232.2 L502.1,232.9 L502.0,233.0 L499.1,233.7 L496.9,234.4 L496.2,234.6 L493.4,235.5 L490.7,236.5 L489.9,236.8 L488.1,237.5 L485.5,238.6 L483.1,239.7 L480.7,240.9 L478.3,242.1 L476.0,243.3 L473.7,244.6 L471.5,245.9 L469.4,247.2 L467.2,248.6 L465.2,249.9 L463.1,251.3 L461.1,252.8 L460.1,253.5 L459.1,254.2 L457.2,255.7 L455.2,257.2 L453.4,258.7 L452.9,259.1 L451.5,260.3 L449.7,261.8" fill="none" stroke="#7df500" stroke-width="1.9"/><circle cx="502.5" cy="298.1" r="1.35" fill="#000"/><circle cx="476.3" cy="280.1" r="1.35" fill="#000"/><circle cx="450.2" cy="262.2" r="1.35" fill="#000"/><circle cx="424.0" cy="244.2" r="1.35" fill="#000"/><circle cx="397.9" cy="226.3" r="1.35" fill="#000"/><circle cx="528.6" cy="316.0" r="1.35" fill="#000"/><circle cx="555.8" cy="298.6" r="1.35" fill="#000"/><circle cx="583.0" cy="281.2" r="1.35" fill="#000"/><circle cx="610.2" cy="263.8" r="1.35" fill="#000"/><circle cx="637.4" cy="246.4" r="1.35" fill="#000"/><circle cx="664.6" cy="229.0" r="1.35" fill="#000"/><circle cx="394.7" cy="187.7" r="1.4" fill="#000"/><circle cx="391.9" cy="155.6" r="1.4" fill="#000"/><circle cx="389.1" cy="123.5" r="1.4" fill="#000"/><circle cx="386.4" cy="91.5" r="1.4" fill="#000"/><circle cx="383.6" cy="59.4" r="1.4" fill="#000"/><line x1="462.9" y1="134.3" x2="462.8" y2="130.3" stroke="#6a5a00" stroke-width="0.6"/><line x1="463.1" y1="140.6" x2="462.8" y2="130.3" stroke="#6a5a00" stroke-width="0.6"/><line x1="483.9" y1="138.1" x2="483.9" y2="136.4" stroke="#6a5a00" stroke-width="0.6"/><line x1="484.0" y1="144.4" x2="483.9" y2="136.4" stroke="#6a5a00" stroke-width="0.6"/><line x1="506.1" y1="150.7" x2="506.1" y2="148.4" stroke="#6a5a00" stroke-width="0.6"/><line x1="506.1" y1="158.3" x2="506.1" y2="148.4" stroke="#6a5a00" stroke-width="0.6"/><line x1="529.2" y1="167.4" x2="529.2" y2="166.6" stroke="#6a5a00" stroke-width="0.6"/><line x1="529.2" y1="168.2" x2="529.2" y2="166.6" stroke="#6a5a00" stroke-width="0.6"/><line x1="501.5" y1="98.7" x2="501.5" y2="95.5" stroke="#6a5a00" stroke-width="0.6"/><line x1="501.5" y1="101.3" x2="501.5" y2="95.5" stroke="#6a5a00" stroke-width="0.6"/><line x1="521.2" y1="102.1" x2="521.2" y2="98.0" stroke="#6a5a00" stroke-width="0.6"/><line x1="521.1" y1="104.7" x2="521.2" y2="98.0" stroke="#6a5a00" stroke-width="0.6"/><line x1="541.7" y1="110.3" x2="541.8" y2="105.8" stroke="#6a5a00" stroke-width="0.6"/><line x1="541.6" y1="112.3" x2="541.8" y2="105.8" stroke="#6a5a00" stroke-width="0.6"/><line x1="562.8" y1="123.0" x2="563.0" y2="119.0" stroke="#6a5a00" stroke-width="0.6"/><line x1="562.7" y1="125.0" x2="563.0" y2="119.0" stroke="#6a5a00" stroke-width="0.6"/><line x1="532.4" y1="82.6" x2="532.5" y2="80.6" stroke="#6a5a00" stroke-width="0.6"/><line x1="532.4" y1="84.4" x2="532.5" y2="80.6" stroke="#6a5a00" stroke-width="0.6"/><line x1="532.4" y1="85.5" x2="532.5" y2="80.6" stroke="#6a5a00" stroke-width="0.6"/><line x1="550.7" y1="82.9" x2="550.8" y2="80.6" stroke="#6a5a00" stroke-width="0.6"/><line x1="569.7" y1="88.0" x2="569.8" y2="85.2" stroke="#6a5a00" stroke-width="0.6"/><line x1="569.6" y1="89.9" x2="569.8" y2="85.2" stroke="#6a5a00" stroke-width="0.6"/><line x1="589.1" y1="97.1" x2="589.3" y2="94.7" stroke="#6a5a00" stroke-width="0.6"/><circle cx="462.9" cy="134.3" r="2.8" fill="#ffc8c8" stroke="#703030" stroke-width="0.5"/><circle cx="463.1" cy="140.6" r="2.8" fill="#ffc8c8" stroke="#703030" stroke-width="0.5"/><circle cx="483.9" cy="138.1" r="2.8" fill="#ffc8c8" stroke="#703030" stroke-width="0.5"/><circle cx="484.0" cy="144.4" r="2.8" fill="#ffc8c8" stroke="#703030" stroke-width="0.5"/><circle cx="506.1" cy="150.7" r="2.8" fill="#ffc8c8" stroke="#703030" stroke-width="0.5"/><circle cx="506.1" cy="158.3" r="2.8" fill="#ffc8c8" stroke="#703030" stroke-width="0.5"/><circle cx="529.2" cy="167.4" r="2.8" fill="#ffc8c8" stroke="#703030" stroke-width="0.5"/><circle cx="529.2" cy="168.2" r="2.8" fill="#ffc8c8" stroke="#703030" stroke-width="0.5"/><circle cx="501.5" cy="98.7" r="2.8" fill="#ffc8c8" stroke="#703030" stroke-width="0.5"/><circle cx="501.5" cy="101.3" r="2.8" fill="#ffc8c8" stroke="#703030" stroke-width="0.5"/><circle cx="521.2" cy="102.1" r="2.8" fill="#ffc8c8" stroke="#703030" stroke-width="0.5"/><circle cx="521.1" cy="104.7" r="2.8" fill="#ffc8c8" stroke="#703030" stroke-width="0.5"/><circle cx="541.7" cy="110.3" r="2.8" fill="#ffc8c8" stroke="#703030" stroke-width="0.5"/><circle cx="541.6" cy="112.3" r="2.8" fill="#ffc8c8" stroke="#703030" stroke-width="0.5"/><circle cx="562.8" cy="123.0" r="2.8" fill="#ffc8c8" stroke="#703030" stroke-width="0.5"/><circle cx="562.7" cy="125.0" r="2.8" fill="#ffc8c8" stroke="#703030" stroke-width="0.5"/><circle cx="532.4" cy="82.6" r="2.8" fill="#ffc8c8" stroke="#703030" stroke-width="0.5"/><circle cx="532.4" cy="84.4" r="2.8" fill="#ffc8c8" stroke="#703030" stroke-width="0.5"/><circle cx="532.4" cy="85.5" r="2.8" fill="#ffc8c8" stroke="#703030" stroke-width="0.5"/><circle cx="550.7" cy="82.9" r="2.8" fill="#ffc8c8" stroke="#703030" stroke-width="0.5"/><circle cx="569.7" cy="88.0" r="2.8" fill="#ffc8c8" stroke="#703030" stroke-width="0.5"/><circle cx="569.6" cy="89.9" r="2.8" fill="#ffc8c8" stroke="#703030" stroke-width="0.5"/><circle cx="589.1" cy="97.1" r="2.8" fill="#ffc8c8" stroke="#703030" stroke-width="0.5"/><polygon points="532.4,81.1 538.8,80.1 532.5,80.6 526.1,81.8" fill="#000aff" stroke="#000" stroke-opacity="0.15" stroke-width="0.5"/><polygon points="525.9,82.3 532.4,81.1 526.1,81.8 519.6,83.3" fill="#0023ff" stroke="#000" stroke-opacity="0.14" stroke-width="0.5"/><polygon points="538.8,80.9 545.2,80.1 538.8,80.1 532.4,81.1" fill="#003dff" stroke="#000" stroke-opacity="0.21" stroke-width="0.5"/><polygon points="519.4,83.9 525.9,82.3 519.6,83.3 513.1,85.1" fill="#002dff" stroke="#000" stroke-opacity="0.14" stroke-width="0.5"/><polygon points="532.3,81.9 538.8,80.9 532.4,81.1 525.9,82.3" fill="#005aff" stroke="#000" stroke-opacity="0.21" stroke-width="0.5"/><polygon points="545.3,81.2 551.7,80.7 545.2,80.1 538.8,80.9" fill="#0068ff" stroke="#000" stroke-opacity="0.27" stroke-width="0.5"/><polygon points="512.7,85.6 519.4,83.9 513.1,85.1 506.4,87.1" fill="#03f" stroke="#000" stroke-opacity="0.14" stroke-width="0.5"/><polygon points="525.8,83.2 532.3,81.9 525.9,82.3 519.4,83.9" fill="#0068ff" stroke="#000" stroke-opacity="0.21" stroke-width="0.5"/><polygon points="538.8,82.0 545.3,81.2 538.8,80.9 532.3,81.9" fill="#0089ff" stroke="#000" stroke-opacity="0.28" stroke-width="0.5"/><polygon points="506.0,87.7 512.7,85.6 506.4,87.1 499.7,89.4" fill="#0035ff" stroke="#000" stroke-opacity="0.13" stroke-width="0.5"/><polygon points="551.9,82.1 558.3,81.9 551.7,80.7 545.3,81.2" fill="#008bff" stroke="#000" stroke-opacity="0.33" stroke-width="0.5"/><polygon points="519.1,84.7 525.8,83.2 519.4,83.9 512.7,85.6" fill="#0072ff" stroke="#000" stroke-opacity="0.21" stroke-width="0.5"/><polygon points="499.2,90.0 506.0,87.7 499.7,89.4 493.0,91.9" fill="#0036ff" stroke="#000" stroke-opacity="0.13" stroke-width="0.5"/><polygon points="532.3,83.0 538.8,82.0 532.3,81.9 525.8,83.2" fill="#009eff" stroke="#000" stroke-opacity="0.28" stroke-width="0.5"/><polygon points="545.4,82.7 551.9,82.1 545.3,81.2 538.8,82.0" fill="#00b0ff" stroke="#000" stroke-opacity="0.34" stroke-width="0.5"/><polygon points="558.6,83.6 565.0,83.6 558.3,81.9 551.9,82.1" fill="#00a5ff" stroke="#000" stroke-opacity="0.39" stroke-width="0.5"/><polygon points="512.3,86.5 519.1,84.7 512.7,85.6 506.0,87.7" fill="#007eff" stroke="#000" stroke-opacity="0.21" stroke-width="0.5"/><polygon points="492.3,92.5 499.2,90.0 493.0,91.9 486.1,94.7" fill="#003fff" stroke="#000" stroke-opacity="0.12" stroke-width="0.5"/><polygon points="525.6,84.3 532.3,83.0 525.8,83.2 519.1,84.7" fill="#00b5ff" stroke="#000" stroke-opacity="0.28" stroke-width="0.5"/><polygon points="538.8,83.4 545.4,82.7 538.8,82.0 532.3,83.0" fill="#00cdff" stroke="#000" stroke-opacity="0.34" stroke-width="0.5"/><polygon points="565.4,85.7 571.7,85.9 565.0,83.6 558.6,83.6" fill="#00b6ff" stroke="#000" stroke-opacity="0.44" stroke-width="0.5"/><polygon points="552.1,83.9 558.6,83.6 551.9,82.1 545.4,82.7" fill="#00ceff" stroke="#000" stroke-opacity="0.40" stroke-width="0.5"/><polygon points="505.5,88.5 512.3,86.5 506.0,87.7 499.2,90.0" fill="#008cff" stroke="#000" stroke-opacity="0.21" stroke-width="0.5"/><polygon points="485.3,95.4 492.3,92.5 486.1,94.7 479.2,97.8" fill="#04f" stroke="#000" stroke-opacity="0.11" stroke-width="0.5"/><polygon points="518.8,85.8 525.6,84.3 519.1,84.7 512.3,86.5" fill="#00cfff" stroke="#000" stroke-opacity="0.28" stroke-width="0.5"/><polygon points="532.2,84.5 538.8,83.4 532.3,83.0 525.6,84.3" fill="#00efff" stroke="#000" stroke-opacity="0.34" stroke-width="0.5"/><polygon points="498.6,90.9 505.5,88.5 499.2,90.0 492.3,92.5" fill="#009fff" stroke="#000" stroke-opacity="0.20" stroke-width="0.5"/><polygon points="572.2,88.4 578.5,88.9 571.7,85.9 565.4,85.7" fill="#00c0ff" stroke="#000" stroke-opacity="0.49" stroke-width="0.5"/><polygon points="478.3,98.5 485.3,95.4 479.2,97.8 472.2,101.1" fill="#0046ff" stroke="#000" stroke-opacity="0.10" stroke-width="0.5"/><polygon points="545.5,84.5 552.1,83.9 545.4,82.7 538.8,83.4" fill="#00f4ff" stroke="#000" stroke-opacity="0.40" stroke-width="0.5"/><polygon points="558.9,85.8 565.4,85.7 558.6,83.6 552.1,83.9" fill="#00e4ff" stroke="#000" stroke-opacity="0.45" stroke-width="0.5"/><polygon points="511.9,87.7 518.8,85.8 512.3,86.5 505.5,88.5" fill="#00e9ff" stroke="#000" stroke-opacity="0.28" stroke-width="0.5"/><polygon points="491.6,93.5 498.6,90.9 492.3,92.5 485.3,95.4" fill="#00adff" stroke="#000" stroke-opacity="0.20" stroke-width="0.5"/><polygon points="471.2,101.9 478.3,98.5 472.2,101.1 465.2,104.8" fill="#04f" stroke="#000" stroke-opacity="0.09" stroke-width="0.5"/><polygon points="525.4,85.8 532.2,84.5 525.6,84.3 518.8,85.8" fill="#00fff3" stroke="#000" stroke-opacity="0.35" stroke-width="0.5"/><polygon points="579.0,91.7 585.3,92.4 578.5,88.9 572.2,88.4" fill="#00c1ff" stroke="#000" stroke-opacity="0.54" stroke-width="0.5"/><polygon points="538.8,85.3 545.5,84.5 538.8,83.4 532.2,84.5" fill="#00ffeb" stroke="#000" stroke-opacity="0.41" stroke-width="0.5"/><polygon points="565.7,88.2 572.2,88.4 565.4,85.7 558.9,85.8" fill="#00f1ff" stroke="#000" stroke-opacity="0.50" stroke-width="0.5"/><polygon points="552.3,86.1 558.9,85.8 552.1,83.9 545.5,84.5" fill="#00fff3" stroke="#000" stroke-opacity="0.46" stroke-width="0.5"/><polygon points="505.0,89.7 511.9,87.7 505.5,88.5 498.6,90.9" fill="#00fffe" stroke="#000" stroke-opacity="0.28" stroke-width="0.5"/><polygon points="464.1,105.5 471.2,101.9 465.2,104.8 458.1,108.7" fill="#003eff" stroke="#000" stroke-opacity="0.07" stroke-width="0.5"/><polygon points="484.5,96.3 491.6,93.5 485.3,95.4 478.3,98.5" fill="#00b5ff" stroke="#000" stroke-opacity="0.19" stroke-width="0.5"/><polygon points="585.9,95.7 592.2,96.6 585.3,92.4 579.0,91.7" fill="#00b9ff" stroke="#000" stroke-opacity="0.59" stroke-width="0.5"/><polygon points="518.5,87.3 525.4,85.8 518.8,85.8 511.9,87.7" fill="#00ffe0" stroke="#000" stroke-opacity="0.35" stroke-width="0.5"/><polygon points="572.6,91.3 579.0,91.7 572.2,88.4 565.7,88.2" fill="#00f6ff" stroke="#000" stroke-opacity="0.56" stroke-width="0.5"/><polygon points="532.1,86.3 538.8,85.3 532.2,84.5 525.4,85.8" fill="#00ffd2" stroke="#000" stroke-opacity="0.41" stroke-width="0.5"/><polygon points="456.8,109.5 464.1,105.5 458.1,108.7 450.9,112.8" fill="#0035ff" stroke="#000" stroke-opacity="0.06" stroke-width="0.5"/><polygon points="498.0,92.1 505.0,89.7 498.6,90.9 491.6,93.5" fill="#00fff3" stroke="#000" stroke-opacity="0.27" stroke-width="0.5"/><polygon points="559.1,88.3 565.7,88.2 558.9,85.8 552.3,86.1" fill="#00ffe5" stroke="#000" stroke-opacity="0.51" stroke-width="0.5"/><polygon points="545.6,86.6 552.3,86.1 545.5,84.5 538.8,85.3" fill="#00ffd4" stroke="#000" stroke-opacity="0.46" stroke-width="0.5"/><polygon points="477.4,99.5 484.5,96.3 478.3,98.5 471.2,101.9" fill="#00b8ff" stroke="#000" stroke-opacity="0.18" stroke-width="0.5"/><polygon points="592.9,100.2 599.1,101.3 592.2,96.6 585.9,95.7" fill="#00a9ff" stroke="#000" stroke-opacity="0.64" stroke-width="0.5"/><polygon points="511.5,89.2 518.5,87.3 511.9,87.7 505.0,89.7" fill="#00ffd0" stroke="#000" stroke-opacity="0.35" stroke-width="0.5"/><polygon points="449.6,113.7 456.8,109.5 450.9,112.8 443.7,117.3" fill="#0029ff" stroke="#000" stroke-opacity="0.04" stroke-width="0.5"/><polygon points="579.5,95.0 585.9,95.7 579.0,91.7 572.6,91.3" fill="#00f2ff" stroke="#000" stroke-opacity="0.61" stroke-width="0.5"/><polygon points="490.9,94.7 498.0,92.1 491.6,93.5 484.5,96.3" fill="#00ffec" stroke="#000" stroke-opacity="0.27" stroke-width="0.5"/><polygon points="525.2,87.6 532.1,86.3 525.4,85.8 518.5,87.3" fill="#00ffbc" stroke="#000" stroke-opacity="0.41" stroke-width="0.5"/><polygon points="470.2,102.9 477.4,99.5 471.2,101.9 464.1,105.5" fill="#00b6ff" stroke="#000" stroke-opacity="0.17" stroke-width="0.5"/><polygon points="566.1,91.1 572.6,91.3 565.7,88.2 559.1,88.3" fill="#00ffdf" stroke="#000" stroke-opacity="0.57" stroke-width="0.5"/><polygon points="538.8,87.4 545.6,86.6 538.8,85.3 532.1,86.3" fill="#00ffb8" stroke="#000" stroke-opacity="0.47" stroke-width="0.5"/><polygon points="552.5,88.6 559.1,88.3 552.3,86.1 545.6,86.6" fill="#00ffc3" stroke="#000" stroke-opacity="0.52" stroke-width="0.5"/><polygon points="599.9,105.4 606.1,106.7 599.1,101.3 592.9,100.2" fill="#0091ff" stroke="#000" stroke-opacity="0.68" stroke-width="0.5"/><polygon points="442.2,118.2 449.6,113.7 443.7,117.3 436.5,122.0" fill="#0018ff" stroke="#000" stroke-opacity="0.00" stroke-width="0.5"/><polygon points="504.5,91.3 511.5,89.2 505.0,89.7 498.0,92.1" fill="#00ffc3" stroke="#000" stroke-opacity="0.35" stroke-width="0.5"/><polygon points="586.5,99.3 592.9,100.2 585.9,95.7 579.5,95.0" fill="#00e6ff" stroke="#000" stroke-opacity="0.65" stroke-width="0.5"/><polygon points="462.9,106.6 470.2,102.9 464.1,105.5 456.8,109.5" fill="#00aeff" stroke="#000" stroke-opacity="0.16" stroke-width="0.5"/><polygon points="483.7,97.6 490.9,94.7 484.5,96.3 477.4,99.5" fill="#00ffe7" stroke="#000" stroke-opacity="0.27" stroke-width="0.5"/><polygon points="606.9,111.2 613.0,112.8 606.1,106.7 599.9,105.4" fill="#0070ff" stroke="#000" stroke-opacity="0.70" stroke-width="0.5"/><polygon points="518.2,89.2 525.2,87.6 518.5,87.3 511.5,89.2" fill="#00ffa9" stroke="#000" stroke-opacity="0.41" stroke-width="0.5"/><polygon points="434.9,123.0 442.2,118.2 436.5,122.0 429.2,127.0" fill="#0005ff" stroke="#000" stroke-opacity="0.04" stroke-width="0.5"/><polygon points="573.0,94.6 579.5,95.0 572.6,91.3 566.1,91.1" fill="#00ffde" stroke="#000" stroke-opacity="0.62" stroke-width="0.5"/><polygon points="531.9,88.5 538.8,87.4 532.1,86.3 525.2,87.6" fill="#00ff9f" stroke="#000" stroke-opacity="0.48" stroke-width="0.5"/><polygon points="559.4,91.2 566.1,91.1 559.1,88.3 552.5,88.6" fill="#00ffba" stroke="#000" stroke-opacity="0.58" stroke-width="0.5"/><polygon points="545.7,89.1 552.5,88.6 545.6,86.6 538.8,87.4" fill="#00ffa4" stroke="#000" stroke-opacity="0.53" stroke-width="0.5"/><polygon points="497.4,93.7 504.5,91.3 498.0,92.1 490.9,94.7" fill="#00ffb8" stroke="#000" stroke-opacity="0.35" stroke-width="0.5"/><polygon points="455.6,110.6 462.9,106.6 456.8,109.5 449.6,113.7" fill="#00a0ff" stroke="#000" stroke-opacity="0.15" stroke-width="0.5"/><polygon points="593.6,104.3 599.9,105.4 592.9,100.2 586.5,99.3" fill="#00d2ff" stroke="#000" stroke-opacity="0.70" stroke-width="0.5"/><polygon points="613.9,117.6 620.0,119.4 613.0,112.8 606.9,111.2" fill="#0047ff" stroke="#000" stroke-opacity="0.70" stroke-width="0.5"/><polygon points="476.5,100.8 483.7,97.6 477.4,99.5 470.2,102.9" fill="#00ffe6" stroke="#000" stroke-opacity="0.26" stroke-width="0.5"/><polygon points="427.4,128.1 434.9,123.0 429.2,127.0 421.8,132.3" fill="#00f" stroke="#000" stroke-opacity="0.06" stroke-width="0.5"/><polygon points="511.1,91.1 518.2,89.2 511.5,89.2 504.5,91.3" fill="#0f9" stroke="#000" stroke-opacity="0.42" stroke-width="0.5"/><polygon points="580.1,98.7 586.5,99.3 579.5,95.0 573.0,94.6" fill="#00ffe5" stroke="#000" stroke-opacity="0.67" stroke-width="0.5"/><polygon points="621.0,124.7 627.0,126.7 620.0,119.4 613.9,117.6" fill="#0016ff" stroke="#000" stroke-opacity="0.70" stroke-width="0.5"/><polygon points="448.2,114.9 455.6,110.6 449.6,113.7 442.2,118.2" fill="#008eff" stroke="#000" stroke-opacity="0.14" stroke-width="0.5"/><polygon points="525.0,89.8 531.9,88.5 525.2,87.6 518.2,89.2" fill="#00ff89" stroke="#000" stroke-opacity="0.48" stroke-width="0.5"/><polygon points="420.0,133.5 427.4,128.1 421.8,132.3 414.4,137.9" fill="#00f" stroke="#000" stroke-opacity="0.09" stroke-width="0.5"/><polygon points="600.6,109.9 606.9,111.2 599.9,105.4 593.6,104.3" fill="#00b5ff" stroke="#000" stroke-opacity="0.70" stroke-width="0.5"/><polygon points="566.4,94.4 573.0,94.6 566.1,91.1 559.4,91.2" fill="#00ffb7" stroke="#000" stroke-opacity="0.63" stroke-width="0.5"/><polygon points="490.2,96.3 497.4,93.7 490.9,94.7 483.7,97.6" fill="#00ffb1" stroke="#000" stroke-opacity="0.34" stroke-width="0.5"/><polygon points="469.1,104.3 476.5,100.8 470.2,102.9 462.9,106.6" fill="#00ffe7" stroke="#000" stroke-opacity="0.25" stroke-width="0.5"/><polygon points="538.8,90.0 545.7,89.1 538.8,87.4 531.9,88.5" fill="#0f8" stroke="#000" stroke-opacity="0.54" stroke-width="0.5"/><polygon points="552.6,91.5 559.4,91.2 552.5,88.6 545.7,89.1" fill="#00ff98" stroke="#000" stroke-opacity="0.59" stroke-width="0.5"/><polygon points="628.0,132.4 633.9,134.6 627.0,126.7 621.0,124.7" fill="#00f" stroke="#000" stroke-opacity="0.70" stroke-width="0.5"/><polygon points="587.1,103.4 593.6,104.3 586.5,99.3 580.1,98.7" fill="#00fff3" stroke="#000" stroke-opacity="0.70" stroke-width="0.5"/><polygon points="412.5,139.2 420.0,133.5 414.4,137.9 407.0,143.8" fill="#00f" stroke="#000" stroke-opacity="0.11" stroke-width="0.5"/><polygon points="504.0,93.2 511.1,91.1 504.5,91.3 497.4,93.7" fill="#00ff8b" stroke="#000" stroke-opacity="0.42" stroke-width="0.5"/><polygon points="440.7,119.5 448.2,114.9 442.2,118.2 434.9,123.0" fill="#0076ff" stroke="#000" stroke-opacity="0.12" stroke-width="0.5"/><polygon points="607.7,116.1 613.9,117.6 606.9,111.2 600.6,109.9" fill="#008fff" stroke="#000" stroke-opacity="0.70" stroke-width="0.5"/><polygon points="635.0,140.7 640.9,143.1 633.9,134.6 628.0,132.4" fill="#00f" stroke="#000" stroke-opacity="0.70" stroke-width="0.5"/><polygon points="482.9,99.3 490.2,96.3 483.7,97.6 476.5,100.8" fill="#00ffac" stroke="#000" stroke-opacity="0.34" stroke-width="0.5"/><polygon points="461.7,108.1 469.1,104.3 462.9,106.6 455.6,110.6" fill="#00ffeb" stroke="#000" stroke-opacity="0.24" stroke-width="0.5"/><polygon points="573.5,98.2 580.1,98.7 573.0,94.6 566.4,94.4" fill="#00ffba" stroke="#000" stroke-opacity="0.68" stroke-width="0.5"/><polygon points="517.9,91.4 525.0,89.8 518.2,89.2 511.1,91.1" fill="#00ff75" stroke="#000" stroke-opacity="0.48" stroke-width="0.5"/><polygon points="404.9,145.1 412.5,139.2 407.0,143.8 399.6,149.9" fill="#00f" stroke="#000" stroke-opacity="0.14" stroke-width="0.5"/><polygon points="559.7,94.5 566.4,94.4 559.4,91.2 552.6,91.5" fill="#00ff92" stroke="#000" stroke-opacity="0.64" stroke-width="0.5"/><polygon points="531.8,91.1 538.8,90.0 531.9,88.5 525.0,89.8" fill="#00ff6f" stroke="#000" stroke-opacity="0.54" stroke-width="0.5"/><polygon points="642.0,149.7 647.8,152.2 640.9,143.1 635.0,140.7" fill="#00f" stroke="#000" stroke-opacity="0.70" stroke-width="0.5"/><polygon points="433.2,124.4 440.7,119.5 434.9,123.0 427.4,128.1" fill="#0059ff" stroke="#000" stroke-opacity="0.10" stroke-width="0.5"/><polygon points="545.8,92.1 552.6,91.5 545.7,89.1 538.8,90.0" fill="#00ff78" stroke="#000" stroke-opacity="0.60" stroke-width="0.5"/><polygon points="614.8,123.0 621.0,124.7 613.9,117.6 607.7,116.1" fill="#0062ff" stroke="#000" stroke-opacity="0.70" stroke-width="0.5"/><polygon points="594.3,108.8 600.6,109.9 593.6,104.3 587.1,103.4" fill="#00f5ff" stroke="#000" stroke-opacity="0.70" stroke-width="0.5"/><polygon points="496.7,95.6 504.0,93.2 497.4,93.7 490.2,96.3" fill="#00ff81" stroke="#000" stroke-opacity="0.42" stroke-width="0.5"/><polygon points="649.0,159.2 654.7,161.9 647.8,152.2 642.0,149.7" fill="#00f" stroke="#000" stroke-opacity="0.70" stroke-width="0.5"/><polygon points="397.3,151.3 404.9,145.1 399.6,149.9 392.1,156.3" fill="#00f" stroke="#000" stroke-opacity="0.16" stroke-width="0.5"/><polygon points="454.3,112.1 461.7,108.1 455.6,110.6 448.2,114.9" fill="#00fff2" stroke="#000" stroke-opacity="0.23" stroke-width="0.5"/><polygon points="475.5,102.5 482.9,99.3 476.5,100.8 469.1,104.3" fill="#0fa" stroke="#000" stroke-opacity="0.33" stroke-width="0.5"/><polygon points="655.9,169.4 661.5,172.2 654.7,161.9 649.0,159.2" fill="#00f" stroke="#000" stroke-opacity="0.70" stroke-width="0.5"/><polygon points="580.6,102.7 587.1,103.4 580.1,98.7 573.5,98.2" fill="#00ffc5" stroke="#000" stroke-opacity="0.70" stroke-width="0.5"/><polygon points="621.9,130.5 628.0,132.4 621.0,124.7 614.8,123.0" fill="#002cff" stroke="#000" stroke-opacity="0.70" stroke-width="0.5"/><polygon points="425.7,129.5 433.2,124.4 427.4,128.1 420.0,133.5" fill="#0042ff" stroke="#000" stroke-opacity="0.08" stroke-width="0.5"/><polygon points="510.7,93.3 517.9,91.4 511.1,91.1 504.0,93.2" fill="#00ff65" stroke="#000" stroke-opacity="0.49" stroke-width="0.5"/><polygon points="662.8,180.2 668.3,183.1 661.5,172.2 655.9,169.4" fill="#00f" stroke="#000" stroke-opacity="0.70" stroke-width="0.5"/><polygon points="601.4,114.8 607.7,116.1 600.6,109.9 594.3,108.8" fill="#00d4ff" stroke="#000" stroke-opacity="0.70" stroke-width="0.5"/><polygon points="566.8,98.1 573.5,98.2 566.4,94.4 559.7,94.5" fill="#00ff92" stroke="#000" stroke-opacity="0.70" stroke-width="0.5"/><polygon points="524.7,92.4 531.8,91.1 525.0,89.8 517.9,91.4" fill="#00ff59" stroke="#000" stroke-opacity="0.55" stroke-width="0.5"/><polygon points="629.0,138.6 635.0,140.7 628.0,132.4 621.9,130.5" fill="#00f" stroke="#000" stroke-opacity="0.70" stroke-width="0.5"/><polygon points="552.8,94.8 559.7,94.5 552.6,91.5 545.8,92.1" fill="#00ff6f" stroke="#000" stroke-opacity="0.65" stroke-width="0.5"/><polygon points="446.8,116.5 454.3,112.1 448.2,114.9 440.7,119.5" fill="#00fffc" stroke="#000" stroke-opacity="0.22" stroke-width="0.5"/><polygon points="538.8,92.9 545.8,92.1 538.8,90.0 531.8,91.1" fill="#00ff5c" stroke="#000" stroke-opacity="0.60" stroke-width="0.5"/><polygon points="489.4,98.3 496.7,95.6 490.2,96.3 482.9,99.3" fill="#00ff79" stroke="#000" stroke-opacity="0.41" stroke-width="0.5"/><polygon points="418.1,135.0 425.7,129.5 420.0,133.5 412.5,139.2" fill="#0027ff" stroke="#000" stroke-opacity="0.05" stroke-width="0.5"/><polygon points="468.0,106.1 475.5,102.5 469.1,104.3 461.7,108.1" fill="#00ffab" stroke="#000" stroke-opacity="0.33" stroke-width="0.5"/><polygon points="587.7,107.9 594.3,108.8 587.1,103.4 580.6,102.7" fill="#00ffd6" stroke="#000" stroke-opacity="0.70" stroke-width="0.5"/><polygon points="608.6,121.4 614.8,123.0 607.7,116.1 601.4,114.8" fill="#0af" stroke="#000" stroke-opacity="0.70" stroke-width="0.5"/><polygon points="636.1,147.4 642.0,149.7 635.0,140.7 629.0,138.6" fill="#00f" stroke="#000" stroke-opacity="0.70" stroke-width="0.5"/><polygon points="503.4,95.5 510.7,93.3 504.0,93.2 496.7,95.6" fill="#00ff57" stroke="#000" stroke-opacity="0.49" stroke-width="0.5"/><polygon points="439.2,121.1 446.8,116.5 440.7,119.5 433.2,124.4" fill="#0ef" stroke="#000" stroke-opacity="0.21" stroke-width="0.5"/><polygon points="410.4,140.7 418.1,135.0 412.5,139.2 404.9,145.1" fill="#0009ff" stroke="#000" stroke-opacity="0.02" stroke-width="0.5"/><polygon points="643.2,156.8 649.0,159.2 642.0,149.7 636.1,147.4" fill="#00f" stroke="#000" stroke-opacity="0.70" stroke-width="0.5"/><polygon points="573.9,102.3 580.6,102.7 573.5,98.2 566.8,98.1" fill="#00ff9a" stroke="#000" stroke-opacity="0.70" stroke-width="0.5"/><polygon points="517.6,94.1 524.7,92.4 517.9,91.4 510.7,93.3" fill="#00ff45" stroke="#000" stroke-opacity="0.55" stroke-width="0.5"/><polygon points="482.0,101.3 489.4,98.3 482.9,99.3 475.5,102.5" fill="#00ff74" stroke="#000" stroke-opacity="0.41" stroke-width="0.5"/><polygon points="615.7,128.7 621.9,130.5 614.8,123.0 608.6,121.4" fill="#0078ff" stroke="#000" stroke-opacity="0.70" stroke-width="0.5"/><polygon points="460.5,109.9 468.0,106.1 461.7,108.1 454.3,112.1" fill="#00ffaf" stroke="#000" stroke-opacity="0.32" stroke-width="0.5"/><polygon points="650.2,166.8 655.9,169.4 649.0,159.2 643.2,156.8" fill="#00f" stroke="#000" stroke-opacity="0.70" stroke-width="0.5"/><polygon points="559.9,98.2 566.8,98.1 559.7,94.5 552.8,94.8" fill="#00ff6d" stroke="#000" stroke-opacity="0.70" stroke-width="0.5"/><polygon points="594.9,113.7 601.4,114.8 594.3,108.8 587.7,107.9" fill="#00ffed" stroke="#000" stroke-opacity="0.70" stroke-width="0.5"/><polygon points="531.7,94.0 538.8,92.9 531.8,91.1 524.7,92.4" fill="#00ff43" stroke="#000" stroke-opacity="0.61" stroke-width="0.5"/><polygon points="545.8,95.4 552.8,94.8 545.8,92.1 538.8,92.9" fill="#00ff50" stroke="#000" stroke-opacity="0.66" stroke-width="0.5"/><polygon points="657.2,177.4 662.8,180.2 655.9,169.4 650.2,166.8" fill="#00f" stroke="#000" stroke-opacity="0.70" stroke-width="0.5"/><polygon points="402.7,146.8 410.4,140.7 404.9,145.1 397.3,151.3" fill="#00f" stroke="#000" stroke-opacity="0.03" stroke-width="0.5"/><polygon points="431.5,126.1 439.2,121.1 433.2,124.4 425.7,129.5" fill="#00d0ff" stroke="#000" stroke-opacity="0.19" stroke-width="0.5"/><polygon points="622.9,136.7 629.0,138.6 621.9,130.5 615.7,128.7" fill="#003dff" stroke="#000" stroke-opacity="0.70" stroke-width="0.5"/><polygon points="496.1,98.0 503.4,95.5 496.7,95.6 489.4,98.3" fill="#00ff4c" stroke="#000" stroke-opacity="0.49" stroke-width="0.5"/><polygon points="581.1,107.3 587.7,107.9 580.6,102.7 573.9,102.3" fill="#00ffa8" stroke="#000" stroke-opacity="0.70" stroke-width="0.5"/><polygon points="452.9,114.0 460.5,109.9 454.3,112.1 446.8,116.5" fill="#00ffb6" stroke="#000" stroke-opacity="0.31" stroke-width="0.5"/><polygon points="602.1,120.1 608.6,121.4 601.4,114.8 594.9,113.7" fill="#00efff" stroke="#000" stroke-opacity="0.70" stroke-width="0.5"/><polygon points="474.5,104.6 482.0,101.3 475.5,102.5 468.0,106.1" fill="#00ff72" stroke="#000" stroke-opacity="0.41" stroke-width="0.5"/><polygon points="630.0,145.3 636.1,147.4 629.0,138.6 622.9,136.7" fill="#00f" stroke="#000" stroke-opacity="0.70" stroke-width="0.5"/><polygon points="510.3,96.0 517.6,94.1 510.7,93.3 503.4,95.5" fill="#00ff35" stroke="#000" stroke-opacity="0.56" stroke-width="0.5"/><polygon points="567.1,102.2 573.9,102.3 566.8,98.1 559.9,98.2" fill="#00ff71" stroke="#000" stroke-opacity="0.70" stroke-width="0.5"/><polygon points="423.9,131.3 431.5,126.1 425.7,129.5 418.1,135.0" fill="#00aeff" stroke="#000" stroke-opacity="0.18" stroke-width="0.5"/><polygon points="524.5,95.4 531.7,94.0 524.7,92.4 517.6,94.1" fill="#00ff2c" stroke="#000" stroke-opacity="0.62" stroke-width="0.5"/><polygon points="553.0,98.5 559.9,98.2 552.8,94.8 545.8,95.4" fill="#00ff4b" stroke="#000" stroke-opacity="0.70" stroke-width="0.5"/><polygon points="538.8,96.3 545.8,95.4 538.8,92.9 531.7,94.0" fill="#00ff34" stroke="#000" stroke-opacity="0.67" stroke-width="0.5"/><polygon points="637.2,154.5 643.2,156.8 636.1,147.4 630.0,145.3" fill="#00f" stroke="#000" stroke-opacity="0.70" stroke-width="0.5"/><polygon points="609.4,127.2 615.7,128.7 608.6,121.4 602.1,120.1" fill="#00c0ff" stroke="#000" stroke-opacity="0.70" stroke-width="0.5"/><polygon points="588.3,112.8 594.9,113.7 587.7,107.9 581.1,107.3" fill="#00ffbc" stroke="#000" stroke-opacity="0.70" stroke-width="0.5"/><polygon points="488.6,100.7 496.1,98.0 489.4,98.3 482.0,101.3" fill="#00ff45" stroke="#000" stroke-opacity="0.49" stroke-width="0.5"/><polygon points="445.3,118.4 452.9,114.0 446.8,116.5 439.2,121.1" fill="#00ffbf" stroke="#000" stroke-opacity="0.30" stroke-width="0.5"/><polygon points="466.9,108.2 474.5,104.6 468.0,106.1 460.5,109.9" fill="#00ff73" stroke="#000" stroke-opacity="0.40" stroke-width="0.5"/><polygon points="644.3,164.3 650.2,166.8 643.2,156.8 637.2,154.5" fill="#00f" stroke="#000" stroke-opacity="0.70" stroke-width="0.5"/><polygon points="416.1,136.9 423.9,131.3 418.1,135.0 410.4,140.7" fill="#0086ff" stroke="#000" stroke-opacity="0.16" stroke-width="0.5"/><polygon points="651.4,174.8 657.2,177.4 650.2,166.8 644.3,164.3" fill="#00f" stroke="#000" stroke-opacity="0.70" stroke-width="0.5"/><polygon points="574.3,106.9 581.1,107.3 573.9,102.3 567.1,102.2" fill="#00ff7c" stroke="#000" stroke-opacity="0.70" stroke-width="0.5"/><polygon points="502.9,98.2 510.3,96.0 503.4,95.5 496.1,98.0" fill="#00ff27" stroke="#000" stroke-opacity="0.56" stroke-width="0.5"/><polygon points="616.6,135.0 622.9,136.7 615.7,128.7 609.4,127.2" fill="#0089ff" stroke="#000" stroke-opacity="0.70" stroke-width="0.5"/><polygon points="595.6,119.1 602.1,120.1 594.9,113.7 588.3,112.8" fill="#00ffd8" stroke="#000" stroke-opacity="0.70" stroke-width="0.5"/><polygon points="437.6,123.2 445.3,118.4 439.2,121.1 431.5,126.1" fill="#0fc" stroke="#000" stroke-opacity="0.29" stroke-width="0.5"/><polygon points="560.2,102.3 567.1,102.2 559.9,98.2 553.0,98.5" fill="#00ff4c" stroke="#000" stroke-opacity="0.70" stroke-width="0.5"/><polygon points="408.4,142.7 416.1,136.9 410.4,140.7 402.7,146.8" fill="#0059ff" stroke="#000" stroke-opacity="0.14" stroke-width="0.5"/><polygon points="517.2,97.1 524.5,95.4 517.6,94.1 510.3,96.0" fill="#00ff19" stroke="#000" stroke-opacity="0.62" stroke-width="0.5"/><polygon points="481.1,103.8 488.6,100.7 482.0,101.3 474.5,104.6" fill="#00ff40" stroke="#000" stroke-opacity="0.49" stroke-width="0.5"/><polygon points="545.9,99.1 553.0,98.5 545.8,95.4 538.8,96.3" fill="#00ff2b" stroke="#000" stroke-opacity="0.70" stroke-width="0.5"/><polygon points="531.6,97.4 538.8,96.3 531.7,94.0 524.5,95.4" fill="#00ff1a" stroke="#000" stroke-opacity="0.68" stroke-width="0.5"/><polygon points="459.3,112.1 466.9,108.2 460.5,109.9 452.9,114.0" fill="#0f7" stroke="#000" stroke-opacity="0.40" stroke-width="0.5"/><polygon points="623.8,143.4 630.0,145.3 622.9,136.7 616.6,135.0" fill="#004aff" stroke="#000" stroke-opacity="0.70" stroke-width="0.5"/><polygon points="581.6,112.2 588.3,112.8 581.1,107.3 574.3,106.9" fill="#00ff8e" stroke="#000" stroke-opacity="0.70" stroke-width="0.5"/><polygon points="602.9,125.9 609.4,127.2 602.1,120.1 595.6,119.1" fill="#00fffa" stroke="#000" stroke-opacity="0.70" stroke-width="0.5"/><polygon points="631.1,152.4 637.2,154.5 630.0,145.3 623.8,143.4" fill="#0002ff" stroke="#000" stroke-opacity="0.70" stroke-width="0.5"/><polygon points="429.8,128.2 437.6,123.2 431.5,126.1 423.9,131.3" fill="#00ffdb" stroke="#000" stroke-opacity="0.28" stroke-width="0.5"/><polygon points="495.4,100.7 502.9,98.2 496.1,98.0 488.6,100.7" fill="#00ff1c" stroke="#000" stroke-opacity="0.56" stroke-width="0.5"/><polygon points="567.4,106.7 574.3,106.9 567.1,102.2 560.2,102.3" fill="#00ff54" stroke="#000" stroke-opacity="0.70" stroke-width="0.5"/><polygon points="451.6,116.3 459.3,112.1 452.9,114.0 445.3,118.4" fill="#00ff7d" stroke="#000" stroke-opacity="0.39" stroke-width="0.5"/><polygon points="473.5,107.1 481.1,103.8 474.5,104.6 466.9,108.2" fill="#00ff3d" stroke="#000" stroke-opacity="0.48" stroke-width="0.5"/><polygon points="638.3,162.1 644.3,164.3 637.2,154.5 631.1,152.4" fill="#00f" stroke="#000" stroke-opacity="0.70" stroke-width="0.5"/><polygon points="509.8,99.0 517.2,97.1 510.3,96.0 502.9,98.2" fill="#00ff08" stroke="#000" stroke-opacity="0.63" stroke-width="0.5"/><polygon points="610.2,133.5 616.6,135.0 609.4,127.2 602.9,125.9" fill="#00d2ff" stroke="#000" stroke-opacity="0.70" stroke-width="0.5"/><polygon points="553.1,102.7 560.2,102.3 553.0,98.5 545.9,99.1" fill="#00ff2a" stroke="#000" stroke-opacity="0.70" stroke-width="0.5"/><polygon points="645.4,172.4 651.4,174.8 644.3,164.3 638.3,162.1" fill="#00f" stroke="#000" stroke-opacity="0.70" stroke-width="0.5"/><polygon points="524.3,98.8 531.6,97.4 524.5,95.4 517.2,97.1" fill="#00ff03" stroke="#000" stroke-opacity="0.69" stroke-width="0.5"/><polygon points="588.9,118.2 595.6,119.1 588.3,112.8 581.6,112.2" fill="#00ffa7" stroke="#000" stroke-opacity="0.70" stroke-width="0.5"/><polygon points="422.0,133.5 429.8,128.2 423.9,131.3 416.1,136.9" fill="#0fe" stroke="#000" stroke-opacity="0.26" stroke-width="0.5"/><polygon points="538.7,100.0 545.9,99.1 538.8,96.3 531.6,97.4" fill="#00ff0f" stroke="#000" stroke-opacity="0.70" stroke-width="0.5"/><polygon points="487.8,103.5 495.4,100.7 488.6,100.7 481.1,103.8" fill="#00ff14" stroke="#000" stroke-opacity="0.56" stroke-width="0.5"/><polygon points="617.5,141.7 623.8,143.4 616.6,135.0 610.2,133.5" fill="#0096ff" stroke="#000" stroke-opacity="0.70" stroke-width="0.5"/><polygon points="443.8,120.8 451.6,116.3 445.3,118.4 437.6,123.2" fill="#00ff87" stroke="#000" stroke-opacity="0.38" stroke-width="0.5"/><polygon points="465.8,110.7 473.5,107.1 466.9,108.2 459.3,112.1" fill="#00ff3e" stroke="#000" stroke-opacity="0.48" stroke-width="0.5"/><polygon points="574.7,111.9 581.6,112.2 574.3,106.9 567.4,106.7" fill="#00ff63" stroke="#000" stroke-opacity="0.70" stroke-width="0.5"/><polygon points="414.1,139.1 422.0,133.5 416.1,136.9 408.4,142.7" fill="#00f8ff" stroke="#000" stroke-opacity="0.25" stroke-width="0.5"/><polygon points="596.3,124.9 602.9,125.9 595.6,119.1 588.9,118.2" fill="#00ffc6" stroke="#000" stroke-opacity="0.70" stroke-width="0.5"/><polygon points="502.3,101.3 509.8,99.0 502.9,98.2 495.4,100.7" fill="#08ff00" stroke="#000" stroke-opacity="0.63" stroke-width="0.5"/><polygon points="624.8,150.5 631.1,152.4 623.8,143.4 617.5,141.7" fill="#0052ff" stroke="#000" stroke-opacity="0.70" stroke-width="0.5"/><polygon points="560.4,106.9 567.4,106.7 560.2,102.3 553.1,102.7" fill="#00ff2f" stroke="#000" stroke-opacity="0.70" stroke-width="0.5"/><polygon points="516.8,100.5 524.3,98.8 517.2,97.1 509.8,99.0" fill="#15ff00" stroke="#000" stroke-opacity="0.70" stroke-width="0.5"/><polygon points="545.9,103.3 553.1,102.7 545.9,99.1 538.7,100.0" fill="#00ff0a" stroke="#000" stroke-opacity="0.70" stroke-width="0.5"/><polygon points="436.0,125.5 443.8,120.8 437.6,123.2 429.8,128.2" fill="#00ff93" stroke="#000" stroke-opacity="0.37" stroke-width="0.5"/><polygon points="531.4,101.2 538.7,100.0 531.6,97.4 524.3,98.8" fill="#0eff00" stroke="#000" stroke-opacity="0.70" stroke-width="0.5"/><polygon points="480.2,106.6 487.8,103.5 481.1,103.8 473.5,107.1" fill="#00ff0f" stroke="#000" stroke-opacity="0.56" stroke-width="0.5"/><polygon points="632.1,160.0 638.3,162.1 631.1,152.4 624.8,150.5" fill="#0006ff" stroke="#000" stroke-opacity="0.70" stroke-width="0.5"/><polygon points="603.6,132.2 610.2,133.5 602.9,125.9 596.3,124.9" fill="#00ffec" stroke="#000" stroke-opacity="0.70" stroke-width="0.5"/><polygon points="582.1,117.6 588.9,118.2 581.6,112.2 574.7,111.9" fill="#00ff78" stroke="#000" stroke-opacity="0.70" stroke-width="0.5"/><polygon points="458.0,114.7 465.8,110.7 459.3,112.1 451.6,116.3" fill="#00ff42" stroke="#000" stroke-opacity="0.47" stroke-width="0.5"/><polygon points="639.3,170.2 645.4,172.4 638.3,162.1 632.1,160.0" fill="#00f" stroke="#000" stroke-opacity="0.70" stroke-width="0.5"/><polygon points="494.7,103.8 502.3,101.3 495.4,100.7 487.8,103.5" fill="#16ff00" stroke="#000" stroke-opacity="0.64" stroke-width="0.5"/><polygon points="567.7,111.8 574.7,111.9 567.4,106.7 560.4,106.9" fill="#00ff3a" stroke="#000" stroke-opacity="0.70" stroke-width="0.5"/><polygon points="428.1,130.6 436.0,125.5 429.8,128.2 422.0,133.5" fill="#00ffa2" stroke="#000" stroke-opacity="0.36" stroke-width="0.5"/><polygon points="611.0,140.2 617.5,141.7 610.2,133.5 603.6,132.2" fill="#00dfff" stroke="#000" stroke-opacity="0.70" stroke-width="0.5"/><polygon points="589.5,124.1 596.3,124.9 588.9,118.2 582.1,117.6" fill="#00ff94" stroke="#000" stroke-opacity="0.70" stroke-width="0.5"/><polygon points="509.3,102.5 516.8,100.5 509.8,99.0 502.3,101.3" fill="#2bff00" stroke="#000" stroke-opacity="0.70" stroke-width="0.5"/><polygon points="472.5,110.0 480.2,106.6 473.5,107.1 465.8,110.7" fill="#00ff0c" stroke="#000" stroke-opacity="0.56" stroke-width="0.5"/><polygon points="450.2,118.9 458.0,114.7 451.6,116.3 443.8,120.8" fill="#00ff48" stroke="#000" stroke-opacity="0.47" stroke-width="0.5"/><polygon points="553.2,107.3 560.4,106.9 553.1,102.7 545.9,103.3" fill="#00ff0c" stroke="#000" stroke-opacity="0.70" stroke-width="0.5"/><polygon points="524.0,102.7 531.4,101.2 524.3,98.8 516.8,100.5" fill="#2cff00" stroke="#000" stroke-opacity="0.70" stroke-width="0.5"/><polygon points="538.6,104.2 545.9,103.3 538.7,100.0 531.4,101.2" fill="#18ff00" stroke="#000" stroke-opacity="0.70" stroke-width="0.5"/><polygon points="618.4,148.9 624.8,150.5 617.5,141.7 611.0,140.2" fill="#009fff" stroke="#000" stroke-opacity="0.70" stroke-width="0.5"/><polygon points="420.1,136.0 428.1,130.6 422.0,133.5 414.1,139.1" fill="#00ffb4" stroke="#000" stroke-opacity="0.35" stroke-width="0.5"/><polygon points="575.1,117.3 582.1,117.6 574.7,111.9 567.7,111.8" fill="#00ff4d" stroke="#000" stroke-opacity="0.70" stroke-width="0.5"/><polygon points="487.0,106.7 494.7,103.8 487.8,103.5 480.2,106.6" fill="#21ff00" stroke="#000" stroke-opacity="0.64" stroke-width="0.5"/><polygon points="596.9,131.2 603.6,132.2 596.3,124.9 589.5,124.1" fill="#00ffb7" stroke="#000" stroke-opacity="0.70" stroke-width="0.5"/><polygon points="625.7,158.2 632.1,160.0 624.8,150.5 618.4,148.9" fill="#0056ff" stroke="#000" stroke-opacity="0.70" stroke-width="0.5"/><polygon points="442.3,123.5 450.2,118.9 443.8,120.8 436.0,125.5" fill="#00ff52" stroke="#000" stroke-opacity="0.46" stroke-width="0.5"/><polygon points="464.6,113.7 472.5,110.0 465.8,110.7 458.0,114.7" fill="#00ff0d" stroke="#000" stroke-opacity="0.56" stroke-width="0.5"/><polygon points="560.6,111.9 567.7,111.8 560.4,106.9 553.2,107.3" fill="#00ff15" stroke="#000" stroke-opacity="0.70" stroke-width="0.5"/><polygon points="501.7,104.8 509.3,102.5 502.3,101.3 494.7,103.8" fill="#3dff00" stroke="#000" stroke-opacity="0.70" stroke-width="0.5"/><polygon points="633.1,168.2 639.3,170.2 632.1,160.0 625.7,158.2" fill="#0005ff" stroke="#000" stroke-opacity="0.70" stroke-width="0.5"/><polygon points="546.0,108.0 553.2,107.3 545.9,103.3 538.6,104.2" fill="#1aff00" stroke="#000" stroke-opacity="0.70" stroke-width="0.5"/><polygon points="516.5,104.4 524.0,102.7 516.8,100.5 509.3,102.5" fill="#46ff00" stroke="#000" stroke-opacity="0.70" stroke-width="0.5"/><polygon points="604.4,139.0 611.0,140.2 603.6,132.2 596.9,131.2" fill="#00ffe1" stroke="#000" stroke-opacity="0.70" stroke-width="0.5"/><polygon points="531.2,105.5 538.6,104.2 531.4,101.2 524.0,102.7" fill="#3aff00" stroke="#000" stroke-opacity="0.70" stroke-width="0.5"/><polygon points="582.6,123.5 589.5,124.1 582.1,117.6 575.1,117.3" fill="#0f6" stroke="#000" stroke-opacity="0.70" stroke-width="0.5"/><polygon points="479.3,109.8 487.0,106.7 480.2,106.6 472.5,110.0" fill="#28ff00" stroke="#000" stroke-opacity="0.64" stroke-width="0.5"/><polygon points="434.3,128.3 442.3,123.5 436.0,125.5 428.1,130.6" fill="#00ff5e" stroke="#000" stroke-opacity="0.45" stroke-width="0.5"/><polygon points="456.7,117.7 464.6,113.7 458.0,114.7 450.2,118.9" fill="#0f1" stroke="#000" stroke-opacity="0.55" stroke-width="0.5"/><polygon points="611.8,147.5 618.4,148.9 611.0,140.2 604.4,139.0" fill="#00e8ff" stroke="#000" stroke-opacity="0.70" stroke-width="0.5"/><polygon points="568.1,117.2 575.1,117.3 567.7,111.8 560.6,111.9" fill="#00ff24" stroke="#000" stroke-opacity="0.70" stroke-width="0.5"/><polygon points="494.0,107.4 501.7,104.8 494.7,103.8 487.0,106.7" fill="#4cff00" stroke="#000" stroke-opacity="0.70" stroke-width="0.5"/><polygon points="590.1,130.4 596.9,131.2 589.5,124.1 582.6,123.5" fill="#00ff86" stroke="#000" stroke-opacity="0.70" stroke-width="0.5"/><polygon points="553.4,112.4 560.6,111.9 553.2,107.3 546.0,108.0" fill="#12ff00" stroke="#000" stroke-opacity="0.70" stroke-width="0.5"/><polygon points="619.2,156.6 625.7,158.2 618.4,148.9 611.8,147.5" fill="#00a3ff" stroke="#000" stroke-opacity="0.70" stroke-width="0.5"/><polygon points="426.3,133.5 434.3,128.3 428.1,130.6 420.1,136.0" fill="#00ff6d" stroke="#000" stroke-opacity="0.44" stroke-width="0.5"/><polygon points="508.9,106.4 516.5,104.4 509.3,102.5 501.7,104.8" fill="#5cff00" stroke="#000" stroke-opacity="0.70" stroke-width="0.5"/><polygon points="471.4,113.3 479.3,109.8 472.5,110.0 464.6,113.7" fill="#2bff00" stroke="#000" stroke-opacity="0.64" stroke-width="0.5"/><polygon points="538.6,108.9 546.0,108.0 538.6,104.2 531.2,105.5" fill="#3fff00" stroke="#000" stroke-opacity="0.70" stroke-width="0.5"/><polygon points="523.7,106.9 531.2,105.5 524.0,102.7 516.5,104.4" fill="#58ff00" stroke="#000" stroke-opacity="0.70" stroke-width="0.5"/><polygon points="448.8,122.0 456.7,117.7 450.2,118.9 442.3,123.5" fill="#00ff17" stroke="#000" stroke-opacity="0.55" stroke-width="0.5"/><polygon points="626.7,166.4 633.1,168.2 625.7,158.2 619.2,156.6" fill="#0056ff" stroke="#000" stroke-opacity="0.70" stroke-width="0.5"/><polygon points="575.6,123.2 582.6,123.5 575.1,117.3 568.1,117.2" fill="#00ff3a" stroke="#000" stroke-opacity="0.70" stroke-width="0.5"/><polygon points="597.6,138.0 604.4,139.0 596.9,131.2 590.1,130.4" fill="#00ffac" stroke="#000" stroke-opacity="0.70" stroke-width="0.5"/><polygon points="486.2,110.3 494.0,107.4 487.0,106.7 479.3,109.8" fill="#57ff00" stroke="#000" stroke-opacity="0.70" stroke-width="0.5"/><polygon points="560.8,117.4 568.1,117.2 560.6,111.9 553.4,112.4" fill="#02ff00" stroke="#000" stroke-opacity="0.70" stroke-width="0.5"/><polygon points="605.1,146.3 611.8,147.5 604.4,139.0 597.6,138.0" fill="#00ffda" stroke="#000" stroke-opacity="0.70" stroke-width="0.5"/><polygon points="440.7,126.6 448.8,122.0 442.3,123.5 434.3,128.3" fill="#00ff20" stroke="#000" stroke-opacity="0.54" stroke-width="0.5"/><polygon points="463.5,117.0 471.4,113.3 464.6,113.7 456.7,117.7" fill="#2aff00" stroke="#000" stroke-opacity="0.64" stroke-width="0.5"/><polygon points="501.1,108.8 508.9,106.4 501.7,104.8 494.0,107.4" fill="#71ff00" stroke="#000" stroke-opacity="0.70" stroke-width="0.5"/><polygon points="583.1,129.9 590.1,130.4 582.6,123.5 575.6,123.2" fill="#00ff57" stroke="#000" stroke-opacity="0.70" stroke-width="0.5"/><polygon points="546.0,113.1 553.4,112.4 546.0,108.0 538.6,108.9" fill="#3cff00" stroke="#000" stroke-opacity="0.70" stroke-width="0.5"/><polygon points="516.1,108.7 523.7,106.9 516.5,104.4 508.9,106.4" fill="#75ff00" stroke="#000" stroke-opacity="0.70" stroke-width="0.5"/><polygon points="531.1,110.2 538.6,108.9 531.2,105.5 523.7,106.9" fill="#61ff00" stroke="#000" stroke-opacity="0.70" stroke-width="0.5"/><polygon points="612.6,155.2 619.2,156.6 611.8,147.5 605.1,146.3" fill="#00edff" stroke="#000" stroke-opacity="0.70" stroke-width="0.5"/><polygon points="478.3,113.5 486.2,110.3 479.3,109.8 471.4,113.3" fill="#5eff00" stroke="#000" stroke-opacity="0.70" stroke-width="0.5"/><polygon points="432.6,131.6 440.7,126.6 434.3,128.3 426.3,133.5" fill="#00ff2c" stroke="#000" stroke-opacity="0.53" stroke-width="0.5"/><polygon points="568.4,123.2 575.6,123.2 568.1,117.2 560.8,117.4" fill="#0f1" stroke="#000" stroke-opacity="0.70" stroke-width="0.5"/><polygon points="590.6,137.3 597.6,138.0 590.1,130.4 583.1,129.9" fill="#00ff7b" stroke="#000" stroke-opacity="0.70" stroke-width="0.5"/><polygon points="455.4,121.1 463.5,117.0 456.7,117.7 448.8,122.0" fill="#26ff00" stroke="#000" stroke-opacity="0.63" stroke-width="0.5"/><polygon points="620.1,164.8 626.7,166.4 619.2,156.6 612.6,155.2" fill="#00a3ff" stroke="#000" stroke-opacity="0.70" stroke-width="0.5"/><polygon points="493.3,111.4 501.1,108.8 494.0,107.4 486.2,110.3" fill="#82ff00" stroke="#000" stroke-opacity="0.70" stroke-width="0.5"/><polygon points="553.5,117.9 560.8,117.4 553.4,112.4 546.0,113.1" fill="#2fff00" stroke="#000" stroke-opacity="0.70" stroke-width="0.5"/><polygon points="508.3,110.8 516.1,108.7 508.9,106.4 501.1,108.8" fill="#8fff00" stroke="#000" stroke-opacity="0.70" stroke-width="0.5"/><polygon points="538.5,114.1 546.0,113.1 538.6,108.9 531.1,110.2" fill="#62ff00" stroke="#000" stroke-opacity="0.70" stroke-width="0.5"/><polygon points="598.2,145.4 605.1,146.3 597.6,138.0 590.6,137.3" fill="#00ffa5" stroke="#000" stroke-opacity="0.70" stroke-width="0.5"/><polygon points="523.4,111.7 531.1,110.2 523.7,106.9 516.1,108.7" fill="#84ff00" stroke="#000" stroke-opacity="0.70" stroke-width="0.5"/><polygon points="576.0,129.7 583.1,129.9 575.6,123.2 568.4,123.2" fill="#00ff2b" stroke="#000" stroke-opacity="0.70" stroke-width="0.5"/><polygon points="470.3,117.0 478.3,113.5 471.4,113.3 463.5,117.0" fill="#61ff00" stroke="#000" stroke-opacity="0.70" stroke-width="0.5"/><polygon points="447.3,125.5 455.4,121.1 448.8,122.0 440.7,126.6" fill="#1eff00" stroke="#000" stroke-opacity="0.63" stroke-width="0.5"/><polygon points="605.8,154.1 612.6,155.2 605.1,146.3 598.2,145.4" fill="#00ffd6" stroke="#000" stroke-opacity="0.70" stroke-width="0.5"/><polygon points="561.1,123.4 568.4,123.2 560.8,117.4 553.5,117.9" fill="#1bff00" stroke="#000" stroke-opacity="0.70" stroke-width="0.5"/><polygon points="485.4,114.4 493.3,111.4 486.2,110.3 478.3,113.5" fill="#8fff00" stroke="#000" stroke-opacity="0.70" stroke-width="0.5"/><polygon points="583.6,136.8 590.6,137.3 583.1,129.9 576.0,129.7" fill="#00ff4c" stroke="#000" stroke-opacity="0.70" stroke-width="0.5"/><polygon points="546.0,118.7 553.5,117.9 546.0,113.1 538.5,114.1" fill="#59ff00" stroke="#000" stroke-opacity="0.70" stroke-width="0.5"/><polygon points="500.5,113.2 508.3,110.8 501.1,108.8 493.3,111.4" fill="#a4ff00" stroke="#000" stroke-opacity="0.70" stroke-width="0.5"/><polygon points="462.2,120.8 470.3,117.0 463.5,117.0 455.4,121.1" fill="#61ff00" stroke="#000" stroke-opacity="0.70" stroke-width="0.5"/><polygon points="613.4,163.5 620.1,164.8 612.6,155.2 605.8,154.1" fill="#00edff" stroke="#000" stroke-opacity="0.70" stroke-width="0.5"/><polygon points="439.1,130.2 447.3,125.5 440.7,126.6 432.6,131.6" fill="#12ff00" stroke="#000" stroke-opacity="0.62" stroke-width="0.5"/><polygon points="530.9,115.4 538.5,114.1 531.1,110.2 523.4,111.7" fill="#89ff00" stroke="#000" stroke-opacity="0.70" stroke-width="0.5"/><polygon points="515.7,113.5 523.4,111.7 516.1,108.7 508.3,110.8" fill="#a2ff00" stroke="#000" stroke-opacity="0.70" stroke-width="0.5"/><polygon points="568.7,129.7 576.0,129.7 568.4,123.2 561.1,123.4" fill="#00ff02" stroke="#000" stroke-opacity="0.70" stroke-width="0.5"/><polygon points="591.2,144.7 598.2,145.4 590.6,137.3 583.6,136.8" fill="#00ff73" stroke="#000" stroke-opacity="0.70" stroke-width="0.5"/><polygon points="477.3,117.6 485.4,114.4 478.3,113.5 470.3,117.0" fill="#97ff00" stroke="#000" stroke-opacity="0.70" stroke-width="0.5"/><polygon points="454.1,125.0 462.2,120.8 455.4,121.1 447.3,125.5" fill="#5dff00" stroke="#000" stroke-opacity="0.70" stroke-width="0.5"/><polygon points="553.6,124.0 561.1,123.4 553.5,117.9 546.0,118.7" fill="#48ff00" stroke="#000" stroke-opacity="0.70" stroke-width="0.5"/><polygon points="492.5,115.9 500.5,113.2 493.3,111.4 485.4,114.4" fill="#b5ff00" stroke="#000" stroke-opacity="0.70" stroke-width="0.5"/><polygon points="598.9,153.2 605.8,154.1 598.2,145.4 591.2,144.7" fill="#00ffa1" stroke="#000" stroke-opacity="0.70" stroke-width="0.5"/><polygon points="538.4,119.7 546.0,118.7 538.5,114.1 530.9,115.4" fill="#84ff00" stroke="#000" stroke-opacity="0.70" stroke-width="0.5"/><polygon points="576.3,136.6 583.6,136.8 576.0,129.7 568.7,129.7" fill="#00ff20" stroke="#000" stroke-opacity="0.70" stroke-width="0.5"/><polygon points="507.8,115.7 515.7,113.5 508.3,110.8 500.5,113.2" fill="#bcff00" stroke="#000" stroke-opacity="0.70" stroke-width="0.5"/><polygon points="523.1,116.9 530.9,115.4 523.4,111.7 515.7,113.5" fill="#acff00" stroke="#000" stroke-opacity="0.70" stroke-width="0.5"/><polygon points="469.2,121.2 477.3,117.6 470.3,117.0 462.2,120.8" fill="#9bff00" stroke="#000" stroke-opacity="0.70" stroke-width="0.5"/><polygon points="606.5,162.4 613.4,163.5 605.8,154.1 598.9,153.2" fill="#00ffd6" stroke="#000" stroke-opacity="0.70" stroke-width="0.5"/><polygon points="445.8,129.5 454.1,125.0 447.3,125.5 439.1,130.2" fill="#5f0" stroke="#000" stroke-opacity="0.70" stroke-width="0.5"/><polygon points="561.3,130.0 568.7,129.7 561.1,123.4 553.6,124.0" fill="#2eff00" stroke="#000" stroke-opacity="0.70" stroke-width="0.5"/><polygon points="584.0,144.3 591.2,144.7 583.6,136.8 576.3,136.6" fill="#0f4" stroke="#000" stroke-opacity="0.70" stroke-width="0.5"/><polygon points="484.5,118.9 492.5,115.9 485.4,114.4 477.3,117.6" fill="#c2ff00" stroke="#000" stroke-opacity="0.70" stroke-width="0.5"/><polygon points="546.0,124.8 553.6,124.0 546.0,118.7 538.4,119.7" fill="#75ff00" stroke="#000" stroke-opacity="0.70" stroke-width="0.5"/><polygon points="499.9,118.1 507.8,115.7 500.5,113.2 492.5,115.9" fill="#d2ff00" stroke="#000" stroke-opacity="0.70" stroke-width="0.5"/><polygon points="530.7,121.0 538.4,119.7 530.9,115.4 523.1,116.9" fill="#abff00" stroke="#000" stroke-opacity="0.70" stroke-width="0.5"/><polygon points="461.0,125.1 469.2,121.2 462.2,120.8 454.1,125.0" fill="#9bff00" stroke="#000" stroke-opacity="0.70" stroke-width="0.5"/><polygon points="515.3,118.8 523.1,116.9 515.7,113.5 507.8,115.7" fill="#cbff00" stroke="#000" stroke-opacity="0.70" stroke-width="0.5"/><polygon points="591.8,152.6 598.9,153.2 591.2,144.7 584.0,144.3" fill="#00ff6f" stroke="#000" stroke-opacity="0.70" stroke-width="0.5"/><polygon points="569.0,136.7 576.3,136.6 568.7,129.7 561.3,130.0" fill="#0cff00" stroke="#000" stroke-opacity="0.70" stroke-width="0.5"/><polygon points="476.3,122.2 484.5,118.9 477.3,117.6 469.2,121.2" fill="#cbff00" stroke="#000" stroke-opacity="0.70" stroke-width="0.5"/><polygon points="599.5,161.6 606.5,162.4 598.9,153.2 591.8,152.6" fill="#00ffa1" stroke="#000" stroke-opacity="0.70" stroke-width="0.5"/><polygon points="553.7,130.5 561.3,130.0 553.6,124.0 546.0,124.8" fill="#5cff00" stroke="#000" stroke-opacity="0.70" stroke-width="0.5"/><polygon points="452.7,129.3 461.0,125.1 454.1,125.0 445.8,129.5" fill="#96ff00" stroke="#000" stroke-opacity="0.70" stroke-width="0.5"/><polygon points="576.7,144.1 584.0,144.3 576.3,136.6 569.0,136.7" fill="#00ff18" stroke="#000" stroke-opacity="0.70" stroke-width="0.5"/><polygon points="491.8,120.9 499.9,118.1 492.5,115.9 484.5,118.9" fill="#e4ff00" stroke="#000" stroke-opacity="0.70" stroke-width="0.5"/><polygon points="538.3,125.9 546.0,124.8 538.4,119.7 530.7,121.0" fill="#a1ff00" stroke="#000" stroke-opacity="0.70" stroke-width="0.5"/><polygon points="507.3,121.0 515.3,118.8 507.8,115.7 499.9,118.1" fill="#e5ff00" stroke="#000" stroke-opacity="0.70" stroke-width="0.5"/><polygon points="522.8,122.7 530.7,121.0 523.1,116.9 515.3,118.8" fill="#cfff00" stroke="#000" stroke-opacity="0.70" stroke-width="0.5"/><polygon points="468.1,125.9 476.3,122.2 469.2,121.2 461.0,125.1" fill="#cfff00" stroke="#000" stroke-opacity="0.70" stroke-width="0.5"/><polygon points="561.5,137.0 569.0,136.7 561.3,130.0 553.7,130.5" fill="#3dff00" stroke="#000" stroke-opacity="0.70" stroke-width="0.5"/><polygon points="584.5,152.2 591.8,152.6 584.0,144.3 576.7,144.1" fill="#00ff40" stroke="#000" stroke-opacity="0.70" stroke-width="0.5"/><polygon points="483.6,123.9 491.8,120.9 484.5,118.9 476.3,122.2" fill="#f1ff00" stroke="#000" stroke-opacity="0.70" stroke-width="0.5"/><polygon points="546.0,131.4 553.7,130.5 546.0,124.8 538.3,125.9" fill="#8cff00" stroke="#000" stroke-opacity="0.70" stroke-width="0.5"/><polygon points="592.3,161.0 599.5,161.6 591.8,152.6 584.5,152.2" fill="#00ff6f" stroke="#000" stroke-opacity="0.70" stroke-width="0.5"/><polygon points="499.2,123.5 507.3,121.0 499.9,118.1 491.8,120.9" fill="#fbff00" stroke="#000" stroke-opacity="0.70" stroke-width="0.5"/><polygon points="530.5,127.2 538.3,125.9 530.7,121.0 522.8,122.7" fill="#c9ff00" stroke="#000" stroke-opacity="0.70" stroke-width="0.5"/><polygon points="569.3,144.2 576.7,144.1 569.0,136.7 561.5,137.0" fill="#16ff00" stroke="#000" stroke-opacity="0.70" stroke-width="0.5"/><polygon points="514.8,124.6 522.8,122.7 515.3,118.8 507.3,121.0" fill="#ef0" stroke="#000" stroke-opacity="0.70" stroke-width="0.5"/><polygon points="459.7,129.9 468.1,125.9 461.0,125.1 452.7,129.3" fill="#cfff00" stroke="#000" stroke-opacity="0.70" stroke-width="0.5"/><polygon points="553.8,137.6 561.5,137.0 553.7,130.5 546.0,131.4" fill="#6dff00" stroke="#000" stroke-opacity="0.70" stroke-width="0.5"/><polygon points="475.3,127.3 483.6,123.9 476.3,122.2 468.1,125.9" fill="#faff00" stroke="#000" stroke-opacity="0.70" stroke-width="0.5"/><polygon points="577.1,152.1 584.5,152.2 576.7,144.1 569.3,144.2" fill="#00ff14" stroke="#000" stroke-opacity="0.70" stroke-width="0.5"/><polygon points="538.2,132.5 546.0,131.4 538.3,125.9 530.5,127.2" fill="#b8ff00" stroke="#000" stroke-opacity="0.70" stroke-width="0.5"/><polygon points="491.0,126.3 499.2,123.5 491.8,120.9 483.6,123.9" fill="#fff500" stroke="#000" stroke-opacity="0.70" stroke-width="0.5"/><polygon points="522.5,128.9 530.5,127.2 522.8,122.7 514.8,124.6" fill="#ecff00" stroke="#000" stroke-opacity="0.70" stroke-width="0.5"/><polygon points="506.7,126.9 514.8,124.6 507.3,121.0 499.2,123.5" fill="#fff900" stroke="#000" stroke-opacity="0.70" stroke-width="0.5"/><polygon points="585.0,160.7 592.3,161.0 584.5,152.2 577.1,152.1" fill="#00ff3f" stroke="#000" stroke-opacity="0.70" stroke-width="0.5"/><polygon points="561.7,144.6 569.3,144.2 561.5,137.0 553.8,137.6" fill="#48ff00" stroke="#000" stroke-opacity="0.70" stroke-width="0.5"/><polygon points="466.9,131.1 475.3,127.3 468.1,125.9 459.7,129.9" fill="#feff00" stroke="#000" stroke-opacity="0.70" stroke-width="0.5"/><polygon points="546.0,138.5 553.8,137.6 546.0,131.4 538.2,132.5" fill="#9eff00" stroke="#000" stroke-opacity="0.70" stroke-width="0.5"/><polygon points="482.7,129.5 491.0,126.3 483.6,123.9 475.3,127.3" fill="#ffec00" stroke="#000" stroke-opacity="0.70" stroke-width="0.5"/><polygon points="569.5,152.3 577.1,152.1 569.3,144.2 561.7,144.6" fill="#1cff00" stroke="#000" stroke-opacity="0.70" stroke-width="0.5"/><polygon points="530.2,134.0 538.2,132.5 530.5,127.2 522.5,128.9" fill="#e0ff00" stroke="#000" stroke-opacity="0.70" stroke-width="0.5"/><polygon points="498.5,129.4 506.7,126.9 499.2,123.5 491.0,126.3" fill="#ffe900" stroke="#000" stroke-opacity="0.70" stroke-width="0.5"/><polygon points="514.4,130.9 522.5,128.9 514.8,124.6 506.7,126.9" fill="#fff600" stroke="#000" stroke-opacity="0.70" stroke-width="0.5"/><polygon points="553.9,145.3 561.7,144.6 553.8,137.6 546.0,138.5" fill="#7aff00" stroke="#000" stroke-opacity="0.70" stroke-width="0.5"/><polygon points="577.5,160.7 585.0,160.7 577.1,152.1 569.5,152.3" fill="#00ff13" stroke="#000" stroke-opacity="0.70" stroke-width="0.5"/><polygon points="474.3,133.0 482.7,129.5 475.3,127.3 466.9,131.1" fill="#ffe500" stroke="#000" stroke-opacity="0.70" stroke-width="0.5"/><polygon points="538.1,139.7 546.0,138.5 538.2,132.5 530.2,134.0" fill="#cbff00" stroke="#000" stroke-opacity="0.70" stroke-width="0.5"/><polygon points="490.2,132.3 498.5,129.4 491.0,126.3 482.7,129.5" fill="#ffdc00" stroke="#000" stroke-opacity="0.70" stroke-width="0.5"/><polygon points="522.2,135.7 530.2,134.0 522.5,128.9 514.4,130.9" fill="#fffb00" stroke="#000" stroke-opacity="0.70" stroke-width="0.5"/><polygon points="506.2,133.3 514.4,130.9 506.7,126.9 498.5,129.4" fill="#ffe300" stroke="#000" stroke-opacity="0.70" stroke-width="0.5"/><polygon points="561.8,152.7 569.5,152.3 561.7,144.6 553.9,145.3" fill="#4eff00" stroke="#000" stroke-opacity="0.70" stroke-width="0.5"/><polygon points="546.0,146.2 553.9,145.3 546.0,138.5 538.1,139.7" fill="#abff00" stroke="#000" stroke-opacity="0.70" stroke-width="0.5"/><polygon points="569.8,160.9 577.5,160.7 569.5,152.3 561.8,152.7" fill="#1dff00" stroke="#000" stroke-opacity="0.70" stroke-width="0.5"/><polygon points="481.7,135.5 490.2,132.3 482.7,129.5 474.3,133.0" fill="#ffd200" stroke="#000" stroke-opacity="0.70" stroke-width="0.5"/><polygon points="530.0,141.3 538.1,139.7 530.2,134.0 522.2,135.7" fill="#f3ff00" stroke="#000" stroke-opacity="0.70" stroke-width="0.5"/><polygon points="497.8,135.9 506.2,133.3 498.5,129.4 490.2,132.3" fill="#ffd300" stroke="#000" stroke-opacity="0.70" stroke-width="0.5"/><polygon points="513.9,137.8 522.2,135.7 514.4,130.9 506.2,133.3" fill="#ffe500" stroke="#000" stroke-opacity="0.70" stroke-width="0.5"/><polygon points="554.0,153.5 561.8,152.7 553.9,145.3 546.0,146.2" fill="#81ff00" stroke="#000" stroke-opacity="0.70" stroke-width="0.5"/><polygon points="537.9,147.5 546.0,146.2 538.1,139.7 530.0,141.3" fill="#d8ff00" stroke="#000" stroke-opacity="0.70" stroke-width="0.5"/><polygon points="562.0,161.5 569.8,160.9 561.8,152.7 554.0,153.5" fill="#4fff00" stroke="#000" stroke-opacity="0.70" stroke-width="0.5"/><polygon points="521.8,143.1 530.0,141.3 522.2,135.7 513.9,137.8" fill="#fe0" stroke="#000" stroke-opacity="0.70" stroke-width="0.5"/><polygon points="489.4,138.9 497.8,135.9 490.2,132.3 481.7,135.5" fill="#ffc600" stroke="#000" stroke-opacity="0.70" stroke-width="0.5"/><polygon points="505.6,140.2 513.9,137.8 506.2,133.3 497.8,135.9" fill="#ffd200" stroke="#000" stroke-opacity="0.70" stroke-width="0.5"/><polygon points="546.0,154.5 554.0,153.5 546.0,146.2 537.9,147.5" fill="#b2ff00" stroke="#000" stroke-opacity="0.70" stroke-width="0.5"/><polygon points="529.8,149.1 537.9,147.5 530.0,141.3 521.8,143.1" fill="#fffe00" stroke="#000" stroke-opacity="0.70" stroke-width="0.5"/><polygon points="513.5,145.2 521.8,143.1 513.9,137.8 505.6,140.2" fill="#ffd800" stroke="#000" stroke-opacity="0.70" stroke-width="0.5"/><polygon points="497.1,142.9 505.6,140.2 497.8,135.9 489.4,138.9" fill="#ffc200" stroke="#000" stroke-opacity="0.70" stroke-width="0.5"/><polygon points="554.0,162.3 562.0,161.5 554.0,153.5 546.0,154.5" fill="#83ff00" stroke="#000" stroke-opacity="0.70" stroke-width="0.5"/><polygon points="537.8,155.9 546.0,154.5 537.9,147.5 529.8,149.1" fill="#dfff00" stroke="#000" stroke-opacity="0.70" stroke-width="0.5"/><polygon points="521.4,151.0 529.8,149.1 521.8,143.1 513.5,145.2" fill="#ffe500" stroke="#000" stroke-opacity="0.70" stroke-width="0.5"/><polygon points="505.0,147.7 513.5,145.2 505.6,140.2 497.1,142.9" fill="#ffc400" stroke="#000" stroke-opacity="0.70" stroke-width="0.5"/><polygon points="545.9,163.4 554.0,162.3 546.0,154.5 537.8,155.9" fill="#b4ff00" stroke="#000" stroke-opacity="0.70" stroke-width="0.5"/><polygon points="529.5,157.5 537.8,155.9 529.8,149.1 521.4,151.0" fill="#fff900" stroke="#000" stroke-opacity="0.70" stroke-width="0.5"/><polygon points="513.0,153.2 521.4,151.0 513.5,145.2 505.0,147.7" fill="#ffce00" stroke="#000" stroke-opacity="0.70" stroke-width="0.5"/><polygon points="537.6,164.8 545.9,163.4 537.8,155.9 529.5,157.5" fill="#e1ff00" stroke="#000" stroke-opacity="0.70" stroke-width="0.5"/><polygon points="521.0,159.5 529.5,157.5 521.4,151.0 513.0,153.2" fill="#ffdf00" stroke="#000" stroke-opacity="0.70" stroke-width="0.5"/><polygon points="529.2,166.6 537.6,164.8 529.5,157.5 521.0,159.5" fill="#fff700" stroke="#000" stroke-opacity="0.70" stroke-width="0.5"/><line x1="462.6" y1="123.3" x2="462.8" y2="130.3" stroke="#6a5a00" stroke-width="0.6"/><line x1="483.6" y1="119.6" x2="483.9" y2="136.4" stroke="#6a5a00" stroke-width="0.6"/><line x1="483.9" y1="133.9" x2="483.9" y2="136.4" stroke="#6a5a00" stroke-width="0.6"/><line x1="506.1" y1="142.8" x2="506.1" y2="148.4" stroke="#6a5a00" stroke-width="0.6"/><line x1="529.4" y1="158.5" x2="529.2" y2="166.6" stroke="#6a5a00" stroke-width="0.6"/><line x1="529.2" y1="164.8" x2="529.2" y2="166.6" stroke="#6a5a00" stroke-width="0.6"/><line x1="501.5" y1="90.3" x2="501.5" y2="95.5" stroke="#6a5a00" stroke-width="0.6"/><line x1="521.3" y1="89.5" x2="521.2" y2="98.0" stroke="#6a5a00" stroke-width="0.6"/><line x1="521.2" y1="95.9" x2="521.2" y2="98.0" stroke="#6a5a00" stroke-width="0.6"/><line x1="541.9" y1="102.8" x2="541.8" y2="105.8" stroke="#6a5a00" stroke-width="0.6"/><line x1="563.1" y1="116.0" x2="563.0" y2="119.0" stroke="#6a5a00" stroke-width="0.6"/><line x1="532.5" y1="77.7" x2="532.5" y2="80.6" stroke="#6a5a00" stroke-width="0.6"/><line x1="551.0" y1="73.8" x2="550.8" y2="80.6" stroke="#6a5a00" stroke-width="0.6"/><line x1="550.9" y1="79.1" x2="550.8" y2="80.6" stroke="#6a5a00" stroke-width="0.6"/><line x1="569.9" y1="83.0" x2="569.8" y2="85.2" stroke="#6a5a00" stroke-width="0.6"/><line x1="589.9" y1="84.0" x2="589.3" y2="94.7" stroke="#6a5a00" stroke-width="0.6"/><line x1="589.3" y1="93.4" x2="589.3" y2="94.7" stroke="#6a5a00" stroke-width="0.6"/><circle cx="462.6" cy="123.3" r="2.8" fill="#c00000" stroke="#500000" stroke-width="0.5"/><circle cx="483.6" cy="119.6" r="2.8" fill="#c00000" stroke="#500000" stroke-width="0.5"/><circle cx="483.9" cy="133.9" r="2.8" fill="#c00000" stroke="#500000" stroke-width="0.5"/><circle cx="506.1" cy="142.8" r="2.8" fill="#c00000" stroke="#500000" stroke-width="0.5"/><circle cx="529.4" cy="158.5" r="2.8" fill="#c00000" stroke="#500000" stroke-width="0.5"/><circle cx="529.2" cy="164.8" r="2.8" fill="#c00000" stroke="#500000" stroke-width="0.5"/><circle cx="501.5" cy="90.3" r="2.8" fill="#c00000" stroke="#500000" stroke-width="0.5"/><circle cx="521.3" cy="89.5" r="2.8" fill="#c00000" stroke="#500000" stroke-width="0.5"/><circle cx="521.2" cy="95.9" r="2.8" fill="#c00000" stroke="#500000" stroke-width="0.5"/><circle cx="541.9" cy="102.8" r="2.8" fill="#c00000" stroke="#500000" stroke-width="0.5"/><circle cx="563.1" cy="116.0" r="2.8" fill="#c00000" stroke="#500000" stroke-width="0.5"/><circle cx="532.5" cy="77.7" r="2.8" fill="#c00000" stroke="#500000" stroke-width="0.5"/><circle cx="551.0" cy="73.8" r="2.8" fill="#c00000" stroke="#500000" stroke-width="0.5"/><circle cx="550.9" cy="79.1" r="2.8" fill="#c00000" stroke="#500000" stroke-width="0.5"/><circle cx="569.9" cy="83.0" r="2.8" fill="#c00000" stroke="#500000" stroke-width="0.5"/><circle cx="589.9" cy="84.0" r="2.8" fill="#c00000" stroke="#500000" stroke-width="0.5"/><circle cx="589.3" cy="93.4" r="2.8" fill="#c00000" stroke="#500000" stroke-width="0.5"/><text x="378.0" y="56.6" font-size="12" text-anchor="end" font-family="Liberation Serif, serif">45</text><text x="381.3" y="88.3" font-size="12" text-anchor="end" font-family="Liberation Serif, serif">40</text><text x="383.5" y="120.2" font-size="12" text-anchor="end" font-family="Liberation Serif, serif">35</text><text x="386.1" y="152.4" font-size="12" text-anchor="end" font-family="Liberation Serif, serif">30</text><text x="387.9" y="184.8" font-size="12" text-anchor="end" font-family="Liberation Serif, serif">25</text><text x="385.9" y="238.1" font-size="12" text-anchor="middle" font-family="Liberation Serif, serif">40</text><text x="411.8" y="256.5" font-size="12" text-anchor="middle" font-family="Liberation Serif, serif">33</text><text x="438.5" y="275.0" font-size="12" text-anchor="middle" font-family="Liberation Serif, serif">26</text><text x="464.6" y="291.7" font-size="12" text-anchor="middle" font-family="Liberation Serif, serif">19</text><text x="490.5" y="310.0" font-size="12" text-anchor="middle" font-family="Liberation Serif, serif">12</text><text x="519.4" y="327.8" font-size="12" text-anchor="middle" font-family="Liberation Serif, serif">5</text><text x="537.9" y="327.8" font-size="12" text-anchor="middle" font-family="Liberation Serif, serif">5</text><text x="565.4" y="310.2" font-size="12" text-anchor="middle" font-family="Liberation Serif, serif">7</text><text x="592.2" y="292.6" font-size="12" text-anchor="middle" font-family="Liberation Serif, serif">9</text><text x="622.0" y="276.4" font-size="12" text-anchor="middle" font-family="Liberation Serif, serif">11</text><text x="649.5" y="258.8" font-size="12" text-anchor="middle" font-family="Liberation Serif, serif">13</text><text x="676.8" y="241.0" font-size="12" text-anchor="middle" font-family="Liberation Serif, serif">15</text><text x="374" y="310" font-size="15.5" font-family="Liberation Serif, serif">B: RHA (%)</text><text x="607" y="312" font-size="15.5" font-family="Liberation Serif, serif">A: EMS (%)</text><text x="548.8" y="351.8" font-size="17" text-anchor="middle" font-family="Liberation Serif, serif">(b)</text><text transform="translate(349.8,145.3) rotate(-90)" font-size="15.7" text-anchor="middle" font-family="Liberation Serif, serif">56D Compressive Strength (MPa)</text></svg></body></html>
